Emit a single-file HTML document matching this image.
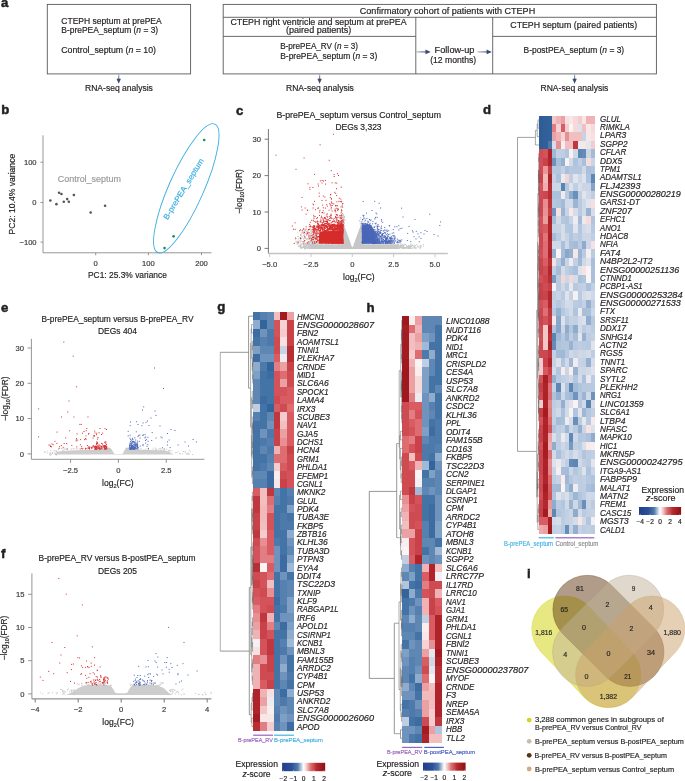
<!DOCTYPE html>
<html><head><meta charset="utf-8"><style>
html,body{margin:0;padding:0;background:#fff;}
svg{display:block;font-family:"Liberation Sans",sans-serif;will-change:transform;}
</style></head><body>
<svg width="685" height="781" viewBox="0 0 685 781" fill="#231f20">
<text x="1.00" y="7.00" font-size="13.2" stroke="#231f20" stroke-width="0.5" font-weight="bold">a</text>
<rect x="47.30" y="4.40" width="143.30" height="69.50" fill="none" stroke="#58595b" stroke-width="0.9"/>
<text x="61.30" y="23.70" font-size="8.4" textLength="100.40" lengthAdjust="spacingAndGlyphs" stroke="#231f20" stroke-width="0.18">CTEPH septum at prePEA</text>
<text x="61.30" y="33.30" font-size="8.4" textLength="96.90" lengthAdjust="spacingAndGlyphs" stroke="#231f20" stroke-width="0.18">B-prePEA_septum (<tspan font-style="italic">n</tspan> = 3)</text>
<text x="61.30" y="52.60" font-size="8.4" textLength="94.70" lengthAdjust="spacingAndGlyphs" stroke="#231f20" stroke-width="0.18">Control_septum (<tspan font-style="italic">n</tspan> = 10)</text>
<defs><linearGradient id="ah" x1="0" x2="1" y1="0" y2="0"><stop offset="0" stop-color="#3b4c6e" stop-opacity="0.35"/><stop offset="1" stop-color="#3b4c6e"/></linearGradient><linearGradient id="av" x1="0" x2="0" y1="0" y2="1"><stop offset="0" stop-color="#3b4c6e" stop-opacity="0.35"/><stop offset="1" stop-color="#3b4c6e"/></linearGradient></defs>
<rect x="118.10" y="74.50" width="1.2" height="6.30" fill="url(#av)"/>
<path d="M116.50 78.80L120.90 78.80L118.70 83.80Z" fill="#3b4c6e"/>
<text x="85.00" y="91.10" font-size="8.4" textLength="67.90" lengthAdjust="spacingAndGlyphs" stroke="#231f20" stroke-width="0.18">RNA-seq analysis</text>
<rect x="223.20" y="4.40" width="433.20" height="69.50" fill="none" stroke="#58595b" stroke-width="0.9"/>
<line x1="223.20" y1="17.30" x2="656.40" y2="17.30" stroke="#58595b" stroke-width="0.9"/>
<line x1="223.20" y1="36.40" x2="415.80" y2="36.40" stroke="#58595b" stroke-width="0.9"/>
<line x1="492.70" y1="36.40" x2="656.40" y2="36.40" stroke="#58595b" stroke-width="0.9"/>
<line x1="415.80" y1="17.30" x2="415.80" y2="73.90" stroke="#58595b" stroke-width="0.9"/>
<line x1="492.70" y1="17.30" x2="492.70" y2="73.90" stroke="#58595b" stroke-width="0.9"/>
<text x="359.80" y="14.00" font-size="8.4" textLength="175.40" lengthAdjust="spacingAndGlyphs" stroke="#231f20" stroke-width="0.18">Confirmatory cohort of patients with CTEPH</text>
<text x="230.40" y="25.00" font-size="8.4" textLength="176.20" lengthAdjust="spacingAndGlyphs" stroke="#231f20" stroke-width="0.18">CTEPH right ventricle and septum at prePEA</text>
<text x="286.00" y="33.30" font-size="8.4" textLength="65.40" lengthAdjust="spacingAndGlyphs" stroke="#231f20" stroke-width="0.18">(paired patients)</text>
<text x="280.20" y="49.00" font-size="8.4" textLength="77.80" lengthAdjust="spacingAndGlyphs" stroke="#231f20" stroke-width="0.18">B-prePEA_RV (<tspan font-style="italic">n</tspan> = 3)</text>
<text x="280.20" y="58.70" font-size="8.4" textLength="97.10" lengthAdjust="spacingAndGlyphs" stroke="#231f20" stroke-width="0.18">B-prePEA_septum (<tspan font-style="italic">n</tspan> = 3)</text>
<text x="434.60" y="53.40" font-size="8.4" textLength="39.80" lengthAdjust="spacingAndGlyphs" stroke="#231f20" stroke-width="0.18">Follow-up</text>
<text x="430.20" y="63.00" font-size="8.4" textLength="46.00" lengthAdjust="spacingAndGlyphs" stroke="#231f20" stroke-width="0.18">(12 months)</text>
<rect x="416.50" y="51.30" width="11.20" height="1.2" fill="url(#ah)"/>
<path d="M425.50 49.60L425.50 54.20L430.70 51.90Z" fill="#3b4c6e"/>
<rect x="477.40" y="51.30" width="11.40" height="1.2" fill="url(#ah)"/>
<path d="M486.60 49.60L486.60 54.20L491.80 51.90Z" fill="#3b4c6e"/>
<text x="510.30" y="28.00" font-size="8.4" textLength="126.90" lengthAdjust="spacingAndGlyphs" stroke="#231f20" stroke-width="0.18">CTEPH septum (paired patients)</text>
<text x="523.50" y="53.40" font-size="8.4" textLength="100.70" lengthAdjust="spacingAndGlyphs" stroke="#231f20" stroke-width="0.18">B-postPEA_septum (<tspan font-style="italic">n</tspan> = 3)</text>
<rect x="319.00" y="74.50" width="1.2" height="6.30" fill="url(#av)"/>
<path d="M317.40 78.80L321.80 78.80L319.60 83.80Z" fill="#3b4c6e"/>
<text x="286.00" y="91.10" font-size="8.4" textLength="67.90" lengthAdjust="spacingAndGlyphs" stroke="#231f20" stroke-width="0.18">RNA-seq analysis</text>
<rect x="574.00" y="74.50" width="1.2" height="6.30" fill="url(#av)"/>
<path d="M572.40 78.80L576.80 78.80L574.60 83.80Z" fill="#3b4c6e"/>
<text x="540.50" y="91.10" font-size="8.4" textLength="67.90" lengthAdjust="spacingAndGlyphs" stroke="#231f20" stroke-width="0.18">RNA-seq analysis</text>
<text x="1.30" y="114.20" font-size="13.2" stroke="#231f20" stroke-width="0.5" font-weight="bold">b</text>
<line x1="43.00" y1="135.30" x2="43.00" y2="252.80" stroke="#8a8a8a" stroke-width="0.9"/>
<line x1="43.00" y1="252.80" x2="211.50" y2="252.80" stroke="#8a8a8a" stroke-width="0.9"/>
<line x1="40.50" y1="162.20" x2="43.00" y2="162.20" stroke="#8a8a8a" stroke-width="0.9"/>
<text x="36.60" y="164.90" font-size="7.6" text-anchor="end" fill="#3a3a3a" stroke="#3a3a3a" stroke-width="0.18">100</text>
<line x1="40.50" y1="202.50" x2="43.00" y2="202.50" stroke="#8a8a8a" stroke-width="0.9"/>
<text x="36.60" y="205.20" font-size="7.6" text-anchor="end" fill="#3a3a3a" stroke="#3a3a3a" stroke-width="0.18">0</text>
<line x1="40.50" y1="242.10" x2="43.00" y2="242.10" stroke="#8a8a8a" stroke-width="0.9"/>
<text x="36.60" y="244.80" font-size="7.6" text-anchor="end" fill="#3a3a3a" stroke="#3a3a3a" stroke-width="0.18">−100</text>
<line x1="95.70" y1="252.80" x2="95.70" y2="255.30" stroke="#8a8a8a" stroke-width="0.9"/>
<text x="95.70" y="265.90" font-size="7.6" text-anchor="middle" fill="#3a3a3a" stroke="#3a3a3a" stroke-width="0.18">0</text>
<line x1="148.40" y1="252.80" x2="148.40" y2="255.30" stroke="#8a8a8a" stroke-width="0.9"/>
<text x="148.40" y="265.90" font-size="7.6" text-anchor="middle" fill="#3a3a3a" stroke="#3a3a3a" stroke-width="0.18">100</text>
<line x1="201.50" y1="252.80" x2="201.50" y2="255.30" stroke="#8a8a8a" stroke-width="0.9"/>
<text x="201.50" y="265.90" font-size="7.6" text-anchor="middle" fill="#3a3a3a" stroke="#3a3a3a" stroke-width="0.18">200</text>
<text x="88.00" y="277.80" font-size="8.6" textLength="78.90" lengthAdjust="spacingAndGlyphs" stroke="#231f20" stroke-width="0.18">PC1: 25.3% variance</text>
<text x="14.60" y="234.40" font-size="8.6" textLength="80.60" lengthAdjust="spacingAndGlyphs" stroke="#231f20" stroke-width="0.18" transform="rotate(-90 14.60 234.40)">PC2: 10.4% variance</text>
<text x="57.80" y="182.00" font-size="8.8" textLength="63.10" lengthAdjust="spacingAndGlyphs" fill="#9a9a9a" stroke="#9a9a9a" stroke-width="0.18">Control_septum</text>
<circle cx="50.37" cy="200.44" r="1.3" fill="#555"/>
<circle cx="56.41" cy="204.13" r="1.3" fill="#555"/>
<circle cx="59.10" cy="192.72" r="1.3" fill="#555"/>
<circle cx="61.45" cy="194.06" r="1.3" fill="#555"/>
<circle cx="63.80" cy="201.78" r="1.3" fill="#555"/>
<circle cx="67.16" cy="199.10" r="1.3" fill="#555"/>
<circle cx="68.84" cy="201.78" r="1.3" fill="#555"/>
<circle cx="73.88" cy="195.07" r="1.3" fill="#555"/>
<circle cx="90.66" cy="212.53" r="1.3" fill="#555"/>
<circle cx="105.10" cy="205.81" r="1.3" fill="#555"/>
<circle cx="204.16" cy="140.00" r="1.35" fill="#1a8f66"/>
<circle cx="173.61" cy="236.37" r="1.35" fill="#1a8f66"/>
<circle cx="164.54" cy="248.12" r="1.35" fill="#1a8f66"/>
<ellipse cx="186.3" cy="188.3" rx="70.3" ry="17.3" transform="rotate(-66 186.3 188.3)" fill="none" stroke="#3aaee0" stroke-width="0.9"/>
<text x="167.60" y="220.20" font-size="7.9" textLength="70.00" lengthAdjust="spacingAndGlyphs" fill="#3aaee0" stroke="#3aaee0" stroke-width="0.18" transform="rotate(-58.5 167.60 220.20)">B-prePEA_septum</text>
<text x="236.00" y="114.60" font-size="13.2" stroke="#231f20" stroke-width="0.5" font-weight="bold">c</text>
<text x="483.00" y="114.30" font-size="13.2" stroke="#231f20" stroke-width="0.5" font-weight="bold">d</text>
<text x="276.40" y="118.00" font-size="8.7" textLength="164.60" lengthAdjust="spacingAndGlyphs" stroke="#231f20" stroke-width="0.18">B-prePEA_septum versus Control_septum</text>
<text x="335.40" y="129.90" font-size="8.7" textLength="46.20" lengthAdjust="spacingAndGlyphs" stroke="#231f20" stroke-width="0.18">DEGs 3,323</text>
<line x1="268.40" y1="129.00" x2="268.40" y2="253.60" stroke="#6a6a6a" stroke-width="0.9"/>
<line x1="268.40" y1="253.60" x2="447.80" y2="253.60" stroke="#c4c4c4" stroke-width="1.5"/>
<line x1="264.60" y1="139.20" x2="268.40" y2="139.20" stroke="#6a6a6a" stroke-width="0.9"/>
<text x="261.00" y="141.80" font-size="7.6" text-anchor="end" fill="#3a3a3a" stroke="#3a3a3a" stroke-width="0.18">30</text>
<line x1="264.60" y1="175.60" x2="268.40" y2="175.60" stroke="#6a6a6a" stroke-width="0.9"/>
<text x="261.00" y="178.20" font-size="7.6" text-anchor="end" fill="#3a3a3a" stroke="#3a3a3a" stroke-width="0.18">20</text>
<line x1="264.60" y1="212.00" x2="268.40" y2="212.00" stroke="#6a6a6a" stroke-width="0.9"/>
<text x="261.00" y="214.60" font-size="7.6" text-anchor="end" fill="#3a3a3a" stroke="#3a3a3a" stroke-width="0.18">10</text>
<line x1="264.60" y1="248.40" x2="268.40" y2="248.40" stroke="#6a6a6a" stroke-width="0.9"/>
<text x="261.00" y="251.00" font-size="7.6" text-anchor="end" fill="#3a3a3a" stroke="#3a3a3a" stroke-width="0.18">0</text>
<line x1="269.70" y1="253.60" x2="269.70" y2="257.20" stroke="#c4c4c4" stroke-width="0.9"/>
<text x="269.70" y="267.00" font-size="7.6" text-anchor="middle" fill="#3a3a3a" stroke="#3a3a3a" stroke-width="0.18">−5.0</text>
<line x1="311.00" y1="253.60" x2="311.00" y2="257.20" stroke="#c4c4c4" stroke-width="0.9"/>
<text x="311.00" y="267.00" font-size="7.6" text-anchor="middle" fill="#3a3a3a" stroke="#3a3a3a" stroke-width="0.18">−2.5</text>
<line x1="352.30" y1="253.60" x2="352.30" y2="257.20" stroke="#c4c4c4" stroke-width="0.9"/>
<text x="352.30" y="267.00" font-size="7.6" text-anchor="middle" fill="#3a3a3a" stroke="#3a3a3a" stroke-width="0.18">0</text>
<line x1="393.60" y1="253.60" x2="393.60" y2="257.20" stroke="#c4c4c4" stroke-width="0.9"/>
<text x="393.60" y="267.00" font-size="7.6" text-anchor="middle" fill="#3a3a3a" stroke="#3a3a3a" stroke-width="0.18">2.5</text>
<line x1="434.90" y1="253.60" x2="434.90" y2="257.20" stroke="#c4c4c4" stroke-width="0.9"/>
<text x="434.90" y="267.00" font-size="7.6" text-anchor="middle" fill="#3a3a3a" stroke="#3a3a3a" stroke-width="0.18">5.0</text>
<text x="242.40" y="191.50" font-size="8.6" stroke="#231f20" stroke-width="0.18" text-anchor="middle" textLength="44.6" lengthAdjust="spacingAndGlyphs" transform="rotate(-90 242.40 191.50)">−log<tspan font-size="5.6" dy="1.9">10</tspan><tspan dy="-1.9">(FDR)</tspan></text>
<text x="358.85" y="279.60" font-size="8.6" stroke="#231f20" stroke-width="0.18" text-anchor="middle" textLength="31.7" lengthAdjust="spacingAndGlyphs">log<tspan font-size="5.6" dy="1.9">2</tspan><tspan dy="-1.9">(FC)</tspan></text>
<text x="1.00" y="312.00" font-size="13.2" stroke="#231f20" stroke-width="0.5" font-weight="bold">e</text>
<text x="41.50" y="321.90" font-size="8.7" textLength="152.00" lengthAdjust="spacingAndGlyphs" stroke="#231f20" stroke-width="0.18">B-prePEA_septum versus B-prePEA_RV</text>
<text x="98.00" y="334.30" font-size="8.7" textLength="39.00" lengthAdjust="spacingAndGlyphs" stroke="#231f20" stroke-width="0.18">DEGs 404</text>
<line x1="31.40" y1="338.80" x2="31.40" y2="459.30" stroke="#8a8a8a" stroke-width="0.9"/>
<line x1="31.40" y1="459.30" x2="204.40" y2="459.30" stroke="#8a8a8a" stroke-width="0.9"/>
<line x1="27.60" y1="348.00" x2="31.40" y2="348.00" stroke="#8a8a8a" stroke-width="0.9"/>
<text x="24.00" y="350.60" font-size="7.6" text-anchor="end" fill="#3a3a3a" stroke="#3a3a3a" stroke-width="0.18">30</text>
<line x1="27.60" y1="383.30" x2="31.40" y2="383.30" stroke="#8a8a8a" stroke-width="0.9"/>
<text x="24.00" y="385.90" font-size="7.6" text-anchor="end" fill="#3a3a3a" stroke="#3a3a3a" stroke-width="0.18">20</text>
<line x1="27.60" y1="418.60" x2="31.40" y2="418.60" stroke="#8a8a8a" stroke-width="0.9"/>
<text x="24.00" y="421.20" font-size="7.6" text-anchor="end" fill="#3a3a3a" stroke="#3a3a3a" stroke-width="0.18">10</text>
<line x1="27.60" y1="453.90" x2="31.40" y2="453.90" stroke="#8a8a8a" stroke-width="0.9"/>
<text x="24.00" y="456.50" font-size="7.6" text-anchor="end" fill="#3a3a3a" stroke="#3a3a3a" stroke-width="0.18">0</text>
<line x1="70.55" y1="459.30" x2="70.55" y2="462.90" stroke="#8a8a8a" stroke-width="0.9"/>
<text x="70.55" y="472.70" font-size="7.6" text-anchor="middle" fill="#3a3a3a" stroke="#3a3a3a" stroke-width="0.18">−2.5</text>
<line x1="118.40" y1="459.30" x2="118.40" y2="462.90" stroke="#8a8a8a" stroke-width="0.9"/>
<text x="118.40" y="472.70" font-size="7.6" text-anchor="middle" fill="#3a3a3a" stroke="#3a3a3a" stroke-width="0.18">0</text>
<line x1="166.25" y1="459.30" x2="166.25" y2="462.90" stroke="#8a8a8a" stroke-width="0.9"/>
<text x="166.25" y="472.70" font-size="7.6" text-anchor="middle" fill="#3a3a3a" stroke="#3a3a3a" stroke-width="0.18">2.5</text>
<text x="7.90" y="398.80" font-size="8.6" stroke="#231f20" stroke-width="0.18" text-anchor="middle" textLength="44.6" lengthAdjust="spacingAndGlyphs" transform="rotate(-90 7.90 398.80)">−log<tspan font-size="5.6" dy="1.9">10</tspan><tspan dy="-1.9">(FDR)</tspan></text>
<text x="117.90" y="486.00" font-size="8.6" stroke="#231f20" stroke-width="0.18" text-anchor="middle" textLength="31.7" lengthAdjust="spacingAndGlyphs">log<tspan font-size="5.6" dy="1.9">2</tspan><tspan dy="-1.9">(FC)</tspan></text>
<text x="1.00" y="558.00" font-size="13.2" stroke="#231f20" stroke-width="0.5" font-weight="bold">f</text>
<text x="38.50" y="561.20" font-size="8.7" textLength="157.00" lengthAdjust="spacingAndGlyphs" stroke="#231f20" stroke-width="0.18">B-prePEA_RV versus B-postPEA_septum</text>
<text x="98.00" y="573.60" font-size="8.7" textLength="39.00" lengthAdjust="spacingAndGlyphs" stroke="#231f20" stroke-width="0.18">DEGs 205</text>
<line x1="31.90" y1="573.40" x2="31.90" y2="698.90" stroke="#8a8a8a" stroke-width="0.9"/>
<line x1="31.90" y1="698.90" x2="211.50" y2="698.90" stroke="#6a6a6a" stroke-width="0.9"/>
<line x1="28.10" y1="594.30" x2="31.90" y2="594.30" stroke="#8a8a8a" stroke-width="0.9"/>
<text x="24.50" y="596.90" font-size="7.6" text-anchor="end" fill="#3a3a3a" stroke="#3a3a3a" stroke-width="0.18">15</text>
<line x1="28.10" y1="627.50" x2="31.90" y2="627.50" stroke="#8a8a8a" stroke-width="0.9"/>
<text x="24.50" y="630.10" font-size="7.6" text-anchor="end" fill="#3a3a3a" stroke="#3a3a3a" stroke-width="0.18">10</text>
<line x1="28.10" y1="660.70" x2="31.90" y2="660.70" stroke="#8a8a8a" stroke-width="0.9"/>
<text x="24.50" y="663.30" font-size="7.6" text-anchor="end" fill="#3a3a3a" stroke="#3a3a3a" stroke-width="0.18">5</text>
<line x1="28.10" y1="693.90" x2="31.90" y2="693.90" stroke="#8a8a8a" stroke-width="0.9"/>
<text x="24.50" y="696.50" font-size="7.6" text-anchor="end" fill="#3a3a3a" stroke="#3a3a3a" stroke-width="0.18">0</text>
<line x1="35.20" y1="698.90" x2="35.20" y2="702.50" stroke="#6a6a6a" stroke-width="0.9"/>
<text x="35.20" y="712.30" font-size="7.6" text-anchor="middle" fill="#3a3a3a" stroke="#3a3a3a" stroke-width="0.18">−4</text>
<line x1="78.20" y1="698.90" x2="78.20" y2="702.50" stroke="#6a6a6a" stroke-width="0.9"/>
<text x="78.20" y="712.30" font-size="7.6" text-anchor="middle" fill="#3a3a3a" stroke="#3a3a3a" stroke-width="0.18">−2</text>
<line x1="121.20" y1="698.90" x2="121.20" y2="702.50" stroke="#6a6a6a" stroke-width="0.9"/>
<text x="121.20" y="712.30" font-size="7.6" text-anchor="middle" fill="#3a3a3a" stroke="#3a3a3a" stroke-width="0.18">0</text>
<line x1="164.20" y1="698.90" x2="164.20" y2="702.50" stroke="#6a6a6a" stroke-width="0.9"/>
<text x="164.20" y="712.30" font-size="7.6" text-anchor="middle" fill="#3a3a3a" stroke="#3a3a3a" stroke-width="0.18">2</text>
<line x1="207.20" y1="698.90" x2="207.20" y2="702.50" stroke="#6a6a6a" stroke-width="0.9"/>
<text x="207.20" y="712.30" font-size="7.6" text-anchor="middle" fill="#3a3a3a" stroke="#3a3a3a" stroke-width="0.18">4</text>
<text x="7.40" y="638.00" font-size="8.6" stroke="#231f20" stroke-width="0.18" text-anchor="middle" textLength="44.6" lengthAdjust="spacingAndGlyphs" transform="rotate(-90 7.40 638.00)">−log<tspan font-size="5.6" dy="1.9">10</tspan><tspan dy="-1.9">(FDR)</tspan></text>
<text x="118.10" y="725.30" font-size="8.6" stroke="#231f20" stroke-width="0.18" text-anchor="middle" textLength="31.7" lengthAdjust="spacingAndGlyphs">log<tspan font-size="5.6" dy="1.9">2</tspan><tspan dy="-1.9">(FC)</tspan></text>
<path d="M309.5 248.9L309.5 244.3L342.7 244.3L342.7 221.5L344.0 225.0L346.5 232.0L349.5 240.0L351.6 246.0L352.4 247.6L353.2 246.0L355.3 240.0L358.3 232.0L360.8 225.0L361.9 222.5L361.9 244.3L398.0 244.3L398.0 248.9Z" fill="#c6c6c6"/>
<path d="M303.7 244.7h0M313.1 241.6h0M305.2 246.0h0M315.6 242.1h0M311.1 236.9h0M295.4 239.7h0M312.4 231.9h0M315.4 236.8h0M305.6 230.6h0M318.0 245.3h0M316.5 243.7h0M298.4 238.9h0M310.9 233.7h0M317.4 239.7h0M303.4 246.3h0M302.5 247.7h0M310.2 242.7h0M308.1 241.7h0M304.4 230.3h0M316.3 236.9h0M315.2 236.3h0M317.6 247.3h0M314.9 245.7h0M312.3 245.2h0M302.4 241.5h0M315.8 236.1h0M317.1 247.2h0M309.4 239.6h0M310.1 240.0h0M317.9 240.0h0M297.9 232.9h0M314.3 248.4h0M310.9 241.8h0M311.8 245.5h0M305.3 243.6h0M311.9 243.8h0M304.2 235.3h0M308.2 247.7h0M308.1 243.4h0M307.3 233.2h0M300.1 246.3h0M315.2 239.8h0M313.8 244.5h0M316.8 248.0h0M309.3 248.4h0M317.5 243.3h0M316.6 241.8h0M308.7 237.2h0M316.5 235.1h0M300.3 246.2h0M315.1 241.6h0M316.0 231.1h0M306.2 238.1h0M309.5 235.3h0M300.3 239.1h0M316.8 248.3h0M314.7 241.6h0M306.1 248.0h0M311.4 245.2h0M298.0 236.4h0M316.0 246.1h0M316.5 243.4h0M309.7 243.2h0M316.1 238.5h0M311.5 237.8h0M315.0 228.3h0M313.9 248.0h0M297.7 243.3h0M313.3 246.8h0M312.3 237.4h0M309.3 248.0h0M316.8 234.2h0M301.4 232.9h0M297.8 241.0h0M303.0 247.0h0M313.4 234.0h0M311.6 238.8h0M310.9 236.5h0M303.8 235.6h0M308.8 245.0h0M311.8 230.8h0M314.2 247.0h0M315.1 246.0h0M296.1 241.3h0M300.0 245.7h0M304.0 245.0h0M306.1 244.8h0M307.4 230.6h0M309.0 238.5h0M316.8 238.2h0M311.0 242.7h0M317.4 233.1h0M312.6 242.0h0M314.6 248.1h0M307.4 244.8h0M311.4 242.8h0M300.1 246.3h0M317.7 239.4h0M307.5 248.4h0M301.9 232.2h0M300.5 246.3h0M314.9 241.1h0M312.9 229.2h0M313.3 241.0h0M311.3 240.0h0M309.2 236.7h0M299.3 240.8h0M305.9 244.9h0M315.7 245.1h0M310.2 236.9h0M308.9 241.7h0M313.1 248.1h0M301.0 241.6h0M310.8 245.1h0M316.6 245.9h0M313.0 245.6h0M313.6 246.9h0M314.1 244.6h0M305.9 247.5h0M308.9 243.6h0M315.8 248.1h0M317.9 227.8h0M307.4 238.6h0M309.0 234.6h0M311.9 232.3h0M307.2 247.9h0M314.7 241.3h0M301.9 248.0h0M314.1 236.2h0M307.9 244.0h0M313.8 237.5h0M317.4 238.8h0M306.1 246.7h0M303.4 244.6h0M304.7 243.4h0M306.6 239.9h0M317.3 241.4h0M309.9 243.7h0M306.7 235.4h0M308.9 237.7h0M304.4 248.1h0M298.4 246.3h0M317.2 244.9h0M297.3 241.9h0M298.8 243.5h0M314.1 237.0h0M296.1 242.6h0M301.4 238.5h0M310.2 247.3h0M308.6 234.3h0M315.4 246.4h0M311.5 231.0h0M304.4 240.3h0M311.8 236.7h0M315.5 246.7h0M317.1 247.1h0M297.2 243.2h0M300.8 247.3h0M314.7 245.6h0M304.4 231.5h0M315.7 243.5h0M312.9 241.4h0M315.5 239.1h0M306.5 239.4h0M307.1 243.8h0M316.6 232.0h0M300.2 242.1h0M313.8 235.8h0M306.5 231.5h0M298.6 241.8h0M313.8 244.2h0M303.5 233.3h0M317.2 242.5h0M309.3 244.7h0M314.5 242.3h0M300.7 246.5h0M305.1 230.5h0M308.2 242.4h0M313.0 235.4h0M314.2 241.8h0M303.7 246.8h0M315.6 247.4h0M313.8 236.5h0M315.2 247.4h0M311.5 247.4h0M317.6 240.1h0M317.3 247.8h0M315.4 228.4h0M308.2 243.6h0M312.7 245.6h0M313.3 235.0h0M317.2 242.5h0M316.5 236.2h0M318.0 242.8h0M315.1 245.4h0M316.5 239.5h0M300.9 240.3h0M304.1 242.5h0M315.7 239.5h0M302.7 229.7h0M309.6 243.1h0M297.9 244.4h0M305.0 233.4h0M317.1 242.3h0M316.7 242.1h0M302.4 237.0h0M309.6 244.0h0M315.1 245.5h0M313.4 237.3h0M309.7 239.8h0M310.8 237.6h0M311.6 241.2h0M298.5 246.4h0M312.4 246.2h0M314.6 245.2h0M317.9 239.8h0M309.1 227.4h0M313.6 243.2h0M312.2 248.5h0M304.7 236.7h0M314.6 246.3h0M310.7 231.3h0M308.6 246.5h0M311.0 241.3h0M309.0 243.8h0M312.6 244.7h0M316.3 245.5h0M308.7 237.3h0M315.2 246.0h0M317.1 236.0h0M316.1 247.2h0M300.7 238.5h0M313.1 234.6h0M315.9 237.6h0M313.8 238.2h0M305.2 236.2h0M310.9 245.0h0M305.2 244.6h0M307.9 244.1h0M308.6 235.9h0M303.0 231.4h0M314.0 240.5h0M302.4 247.1h0M313.4 229.3h0M314.4 243.4h0M310.0 241.9h0M317.5 239.8h0M313.1 243.9h0M308.5 239.2h0M314.9 243.9h0M310.2 242.1h0M305.3 246.0h0M297.4 244.0h0M310.2 236.6h0M312.4 243.2h0M301.1 241.8h0M303.8 246.1h0M307.7 238.9h0M305.1 230.9h0M304.4 234.8h0M313.0 246.7h0M305.3 233.5h0M311.5 233.7h0M309.3 245.6h0M304.8 244.8h0M311.6 232.6h0M305.8 243.4h0M301.4 236.2h0M312.2 246.4h0M311.3 244.3h0M296.3 238.4h0M307.5 247.5h0M308.4 245.9h0M298.4 241.9h0M316.7 245.8h0M312.3 235.6h0M317.1 232.4h0M317.6 245.8h0M314.4 242.4h0M303.7 239.1h0M313.6 244.2h0M309.0 246.1h0M299.5 238.1h0M301.2 238.8h0M315.4 245.5h0M303.3 238.5h0M302.0 244.3h0M310.0 236.8h0M308.7 246.9h0M309.6 244.7h0M313.0 241.5h0M311.9 239.6h0M304.7 241.8h0M307.2 238.9h0M304.4 247.5h0M309.7 236.1h0M298.3 236.4h0M316.4 239.1h0M313.6 236.8h0M313.4 241.1h0M411.1 247.0h0M403.7 245.9h0M407.8 248.0h0M410.0 246.8h0M402.9 248.2h0M414.4 245.1h0M409.7 247.8h0M409.6 248.4h0M415.6 245.7h0M423.5 246.1h0M403.7 248.4h0M400.4 246.5h0M408.5 245.9h0M401.9 247.9h0M408.2 247.7h0M412.6 248.1h0M416.2 248.0h0M421.0 246.9h0M410.3 246.9h0M420.3 247.5h0M404.6 247.5h0M402.3 245.0h0M403.8 245.0h0M398.1 244.7h0M405.1 247.8h0M398.7 247.4h0M399.5 246.9h0M402.3 246.7h0M410.5 246.5h0M403.9 247.7h0M399.6 246.2h0M410.3 248.0h0M421.1 245.8h0M408.5 246.1h0M410.3 248.1h0M399.9 246.2h0M418.2 246.3h0M408.6 248.0h0M402.1 247.9h0M398.0 246.2h0M400.4 246.2h0M401.0 243.9h0M413.0 245.3h0M407.4 247.1h0M414.5 248.1h0M408.4 245.3h0M411.8 244.7h0M417.8 246.1h0M401.7 245.6h0M404.0 247.9h0M414.7 247.8h0M411.0 245.7h0M402.8 246.0h0M404.7 248.1h0M423.3 244.6h0M419.9 248.3h0M405.2 247.6h0M412.5 245.4h0M408.3 248.4h0M415.7 248.3h0M399.2 247.6h0M405.7 248.2h0M400.4 247.1h0M399.7 247.9h0M410.8 244.0h0M402.6 245.1h0M408.7 247.4h0M398.9 248.4h0M420.0 246.7h0M407.4 246.3h0M408.1 246.5h0M404.8 247.8h0M400.6 246.0h0M411.9 245.6h0M398.9 248.3h0M400.2 246.5h0M402.6 245.8h0M403.3 247.0h0M399.6 247.0h0M398.7 244.5h0M400.9 245.7h0M403.1 246.0h0M414.1 247.5h0M405.4 247.8h0M409.9 246.1h0M408.3 247.7h0M406.6 247.8h0M408.6 248.3h0M401.8 247.5h0M420.9 247.0h0M416.7 244.7h0M410.8 245.8h0M411.5 246.6h0M406.6 245.7h0M401.7 248.1h0M408.9 247.4h0M399.6 246.0h0M420.2 245.5h0M406.6 247.6h0M406.1 247.1h0M420.3 247.9h0M401.4 246.6h0M404.4 247.5h0M409.6 245.8h0M410.0 246.6h0M398.2 246.0h0M403.7 245.4h0M409.5 248.5h0M417.9 247.4h0M414.8 246.9h0M407.6 248.2h0M398.8 246.3h0M403.6 246.2h0M404.6 244.3h0M409.7 248.4h0M401.4 245.4h0M403.0 247.9h0M401.3 247.8h0M400.4 247.2h0M410.7 247.5h0M399.2 248.4h0M414.5 246.8h0M414.9 247.3h0M400.4 246.5h0M413.6 246.7h0M398.6 245.2h0M400.6 247.2h0M408.9 246.7h0M404.2 248.4h0M403.1 247.5h0M400.9 246.9h0M400.5 244.9h0M403.0 244.9h0M403.8 247.4h0M406.9 247.9h0M405.5 244.6h0M410.9 246.5h0M411.5 248.4h0M406.4 245.8h0M403.4 246.9h0M340.9 215.2h0M341.4 221.9h0M343.9 223.1h0M344.3 223.6h0M341.5 221.7h0M339.3 223.5h0M343.2 217.2h0M341.8 217.3h0M343.8 219.1h0M343.7 225.1h0M343.7 218.6h0M341.1 225.3h0M344.4 216.3h0M341.2 223.5h0M343.5 217.4h0M341.7 225.5h0M339.5 217.3h0M343.0 224.9h0M344.7 219.6h0M343.7 225.7h0M341.0 216.7h0M340.6 223.4h0M339.8 220.6h0M344.6 216.4h0M342.8 220.4h0M344.8 220.2h0M341.9 224.8h0M343.5 215.7h0M343.8 218.8h0M344.8 225.6h0M342.0 219.0h0M340.4 217.3h0M340.2 216.0h0M343.4 214.6h0M342.6 221.2h0M343.4 220.8h0M344.6 217.4h0M339.6 221.0h0M340.6 225.9h0M344.5 222.3h0M344.0 216.9h0M341.9 218.6h0M341.1 218.5h0M341.9 221.8h0M339.2 220.5h0M339.8 225.6h0M342.3 221.1h0M340.9 222.5h0M343.3 224.9h0M342.5 217.2h0M363.4 217.7h0M364.2 221.0h0M364.0 218.7h0M363.2 219.2h0M359.3 220.4h0M364.9 222.1h0M362.7 227.3h0M365.8 220.4h0M363.9 227.2h0M364.6 221.5h0M362.3 227.2h0M360.8 223.3h0M363.4 228.1h0M360.7 225.6h0M360.5 219.0h0M362.3 225.4h0M363.5 229.3h0M360.2 223.9h0M362.4 220.4h0M365.4 218.9h0M360.8 217.5h0M363.5 225.5h0M360.6 229.0h0M363.4 219.6h0M365.6 228.1h0M361.2 228.2h0M359.9 221.5h0M361.9 229.4h0M361.1 222.0h0M360.5 227.7h0M301.8 248.1h0M303.4 246.6h0M308.8 245.3h0M305.3 247.1h0M305.8 246.0h0M306.5 245.5h0M301.6 244.0h0M306.1 246.8h0M308.0 244.8h0M306.7 246.2h0M305.3 248.0h0M305.2 246.1h0M306.5 244.7h0M308.7 246.5h0M300.4 246.3h0M309.5 248.7h0M304.3 245.3h0M309.4 245.4h0M300.2 245.2h0M304.7 247.2h0M300.7 245.6h0M307.3 245.7h0M301.8 247.4h0M304.4 247.3h0M304.8 247.9h0M305.1 248.7h0M308.1 247.5h0M304.9 246.9h0M303.8 244.4h0M308.8 247.9h0M307.7 248.1h0M305.5 248.8h0M304.7 248.7h0M300.8 245.8h0M305.7 247.9h0M305.2 247.8h0M303.7 247.2h0M308.0 246.9h0M300.2 247.2h0M300.0 245.5h0M301.1 247.7h0M301.7 247.5h0M300.7 245.0h0M307.0 248.4h0M300.7 246.9h0M304.0 247.0h0M300.8 244.1h0M300.8 248.3h0M304.9 246.9h0M301.3 247.3h0M309.0 244.9h0M307.8 248.1h0M309.9 246.7h0M306.4 245.7h0M307.8 245.5h0M306.2 247.0h0M309.9 247.8h0M301.0 244.8h0M303.6 245.9h0M307.2 245.2h0" stroke="#c6c6c6" stroke-width="1.0" stroke-linecap="square" fill="none"/>
<path d="M318.5 243.7L319.5 231.5L343.3 230.5L343.3 243.7Z" fill="#d62d2d"/>
<path d="M334.6 232.9h0M328.0 236.6h0M331.6 243.3h0M321.3 241.7h0M336.4 233.0h0M318.6 236.7h0M339.7 230.9h0M338.0 234.5h0M319.3 240.9h0M328.2 233.4h0M338.9 241.2h0M340.7 231.2h0M340.6 227.0h0M334.5 232.5h0M340.9 238.2h0M336.8 239.9h0M329.2 232.7h0M320.0 230.9h0M324.3 238.4h0M321.3 242.0h0M335.6 232.8h0M320.8 232.8h0M334.8 226.8h0M342.9 231.1h0M331.6 229.6h0M330.0 229.4h0M340.7 225.4h0M329.7 235.8h0M332.8 230.4h0M332.9 225.2h0M328.0 232.6h0M339.0 232.5h0M331.1 236.9h0M327.0 234.8h0M324.1 236.1h0M334.2 236.9h0M341.1 239.6h0M343.1 228.6h0M342.5 232.7h0M329.8 232.9h0M341.9 242.8h0M339.8 229.9h0M320.8 228.0h0M337.1 237.8h0M317.8 224.1h0M343.2 230.6h0M316.0 233.2h0M319.7 240.0h0M334.0 236.0h0M342.0 226.5h0M324.9 239.5h0M335.7 232.6h0M329.5 236.2h0M342.3 242.7h0M341.9 243.2h0M321.4 224.6h0M340.2 228.9h0M333.8 233.2h0M342.8 232.7h0M321.6 228.0h0M341.6 240.0h0M321.8 242.9h0M329.9 238.3h0M334.8 240.9h0M333.0 224.6h0M334.6 240.7h0M331.0 240.3h0M331.9 231.1h0M329.6 228.5h0M333.3 242.9h0M335.4 239.1h0M323.5 231.3h0M335.1 231.5h0M312.2 241.1h0M321.3 237.0h0M343.0 229.7h0M326.8 230.5h0M334.3 243.3h0M322.0 228.8h0M341.5 229.4h0M337.0 238.2h0M309.7 224.5h0M338.9 242.1h0M337.6 233.2h0M319.9 234.4h0M320.4 230.4h0M315.4 234.1h0M332.4 229.6h0M325.1 225.3h0M314.7 226.5h0M343.0 224.7h0M338.0 233.0h0M335.3 230.0h0M343.0 239.9h0M330.8 232.5h0M341.9 227.1h0M341.1 236.2h0M334.8 234.5h0M335.4 225.8h0M326.1 231.0h0M325.1 225.7h0M338.0 232.3h0M338.5 231.7h0M342.3 228.8h0M333.6 232.3h0M339.5 226.6h0M334.3 232.9h0M336.1 228.6h0M334.3 243.4h0M320.0 243.1h0M342.7 232.8h0M318.8 233.8h0M342.7 224.0h0M338.8 239.3h0M320.7 235.9h0M322.2 226.0h0M333.8 229.9h0M336.8 234.4h0M325.4 242.1h0M311.7 239.8h0M327.2 241.7h0M335.7 233.0h0M324.9 240.8h0M340.8 242.9h0M335.3 242.2h0M341.4 237.1h0M329.0 235.9h0M329.1 240.0h0M334.5 241.0h0M341.4 238.8h0M324.5 230.6h0M319.0 230.6h0M322.6 229.9h0M339.6 226.4h0M341.9 242.1h0M339.1 228.7h0M327.5 233.0h0M336.0 242.2h0M313.9 225.7h0M340.1 224.4h0M341.4 227.7h0M342.9 233.3h0M335.7 240.2h0M340.1 232.2h0M332.3 239.5h0M326.4 230.0h0M341.0 241.3h0M340.2 230.8h0M329.1 226.1h0M340.3 225.0h0M323.7 224.5h0M332.2 243.6h0M318.1 229.0h0M326.8 237.8h0M329.5 227.4h0M337.5 241.7h0M322.9 225.2h0M330.9 242.4h0M317.4 226.7h0M336.6 239.0h0M332.1 224.9h0M334.5 226.0h0M318.3 225.1h0M342.2 226.0h0M332.6 240.1h0M324.4 231.7h0M339.6 235.1h0M324.1 234.6h0M343.2 240.1h0M342.7 224.5h0M317.3 233.9h0M312.9 242.9h0M327.5 234.8h0M341.1 232.4h0M339.0 227.0h0M331.9 238.3h0M332.5 227.6h0M340.8 231.0h0M341.8 230.2h0M340.2 226.4h0M337.2 242.7h0M336.2 232.1h0M343.0 243.0h0M340.1 228.4h0M319.2 236.1h0M321.6 225.2h0M334.6 242.6h0M326.9 240.1h0M342.6 242.5h0M318.8 226.6h0M342.5 243.0h0M323.2 227.6h0M337.9 225.9h0M320.1 227.1h0M335.1 231.3h0M340.5 227.0h0M341.5 239.5h0M330.0 235.9h0M337.2 226.4h0M342.1 232.7h0M333.6 240.8h0M314.0 229.3h0M315.0 238.5h0M325.0 238.1h0M338.1 243.6h0M323.6 232.1h0M339.5 232.7h0M323.4 237.3h0M339.6 232.8h0M330.2 226.6h0M330.9 240.5h0M329.4 242.8h0M329.5 233.4h0M339.3 241.9h0M340.5 232.3h0M332.0 226.5h0M334.2 240.1h0M324.0 230.2h0M317.8 232.9h0M332.8 243.5h0M337.1 242.1h0M324.4 232.6h0M337.7 225.5h0M334.9 236.3h0M314.6 228.0h0M339.4 227.2h0M336.4 232.3h0M330.4 241.2h0M330.6 241.3h0M340.1 234.9h0M319.9 230.6h0M342.5 229.2h0M335.4 228.0h0M338.4 237.5h0M341.4 235.7h0M320.4 239.7h0M335.0 242.6h0M333.7 230.4h0M331.8 235.0h0M337.7 236.4h0M340.8 234.5h0M324.5 240.9h0M337.9 227.1h0M332.3 240.7h0M335.1 226.4h0M340.9 238.4h0M324.2 237.7h0M340.9 235.3h0M342.4 234.6h0M312.8 237.0h0M340.3 242.0h0M338.8 242.5h0M339.7 233.3h0M317.4 227.3h0M316.6 242.2h0M339.8 241.8h0M339.2 232.9h0M334.8 224.5h0M322.7 231.9h0M316.9 230.3h0M333.7 227.2h0M323.5 225.7h0M332.2 240.5h0M331.9 237.9h0M338.0 239.8h0M339.6 233.8h0M316.4 227.3h0M327.1 230.6h0M335.5 233.8h0M327.4 227.3h0M338.5 243.6h0M337.7 226.8h0M337.6 239.7h0M334.2 236.5h0M340.8 233.4h0M337.8 227.3h0M340.4 235.2h0M324.0 236.3h0M340.2 232.8h0M328.2 238.0h0M343.2 242.9h0M328.1 233.6h0M330.1 226.8h0M334.3 229.7h0M332.7 240.3h0M334.6 243.5h0M324.4 227.6h0M317.7 237.9h0M327.3 228.3h0M336.4 243.4h0M338.8 242.8h0M342.1 234.4h0M325.1 239.0h0M325.0 225.4h0M330.0 238.5h0M336.3 232.1h0M321.2 227.4h0M335.6 233.7h0M334.3 238.6h0M335.0 241.1h0M341.9 234.2h0M329.6 233.9h0M326.1 227.4h0M338.1 232.7h0M314.1 231.7h0M328.4 225.2h0M314.1 236.1h0M339.8 240.5h0M335.5 228.4h0M336.4 229.3h0M325.5 230.5h0M321.6 226.2h0M343.1 225.7h0M342.8 237.6h0M338.5 226.2h0M337.3 227.9h0M333.4 232.9h0M341.6 226.0h0M311.9 235.5h0M333.9 236.8h0M319.1 231.3h0M338.0 235.6h0M328.3 224.2h0M316.2 241.5h0M327.0 225.4h0M327.5 228.2h0M334.3 225.0h0M334.2 236.7h0M334.1 235.7h0M325.9 231.7h0M338.7 229.6h0M340.2 227.7h0M332.7 241.6h0M336.9 229.4h0M329.7 229.5h0M338.7 231.2h0M340.4 237.7h0M340.3 234.4h0M327.2 237.5h0M331.6 225.0h0M332.0 227.7h0M318.3 229.2h0M342.5 237.2h0M331.6 235.5h0M330.3 235.1h0M326.5 240.8h0M339.6 232.7h0M334.6 231.3h0M339.1 240.4h0M342.0 226.1h0M341.7 228.3h0M320.4 232.1h0M336.6 226.3h0M336.5 243.0h0M339.3 240.3h0M322.7 230.6h0M326.0 231.3h0M341.3 243.6h0M326.6 235.0h0M335.7 243.1h0M332.0 226.3h0M319.8 226.9h0M332.7 225.8h0M337.5 227.8h0M316.1 238.2h0M332.3 238.9h0M335.1 231.5h0M318.1 240.8h0M337.3 229.1h0M318.8 236.4h0M342.1 238.6h0M341.9 243.5h0M321.2 227.6h0M332.4 226.2h0M332.9 240.0h0M326.5 240.1h0M326.3 240.1h0M318.5 226.3h0M316.4 235.4h0M314.1 237.7h0M331.2 241.8h0M330.3 240.4h0M338.7 231.4h0M339.3 235.8h0M335.4 232.4h0M322.5 234.3h0M333.7 232.5h0M343.0 227.4h0M341.7 235.0h0M319.8 235.1h0M323.9 233.8h0M332.8 239.2h0M341.7 225.4h0M341.1 242.4h0M322.3 225.6h0M332.4 224.6h0M321.1 234.0h0M324.7 235.8h0M324.6 237.1h0M336.1 225.5h0M337.4 242.1h0M343.2 224.8h0M337.5 230.3h0M331.1 233.0h0M316.6 236.4h0M321.4 240.8h0M319.9 236.2h0M334.5 224.6h0M320.6 233.8h0M330.4 227.0h0M319.9 228.6h0M339.9 226.7h0M338.8 226.2h0M340.0 239.2h0M341.2 231.7h0M342.9 232.1h0M336.2 240.3h0M322.3 224.9h0M337.6 228.5h0M325.1 233.7h0M323.2 229.3h0M324.4 225.8h0M340.0 240.6h0M338.3 232.6h0M341.9 234.7h0M334.5 224.4h0M329.5 228.3h0M336.8 242.9h0M336.2 230.3h0M340.3 225.6h0M339.8 224.8h0M342.7 238.8h0M343.0 233.5h0M336.8 231.9h0M338.7 234.6h0M332.2 239.8h0M342.3 229.5h0M326.4 243.6h0M328.9 231.2h0M334.4 229.7h0M332.2 229.4h0M331.8 239.7h0M339.0 242.3h0M342.1 229.3h0M339.3 237.6h0M336.1 233.6h0M341.9 235.1h0M342.2 226.1h0M329.5 226.6h0M338.1 233.0h0M328.4 230.6h0M332.9 230.0h0M333.1 236.2h0M313.9 228.3h0M333.8 237.0h0M335.4 238.4h0M331.6 241.9h0M339.1 233.9h0M334.9 239.8h0M327.2 229.6h0M333.2 234.0h0M316.8 233.9h0M341.9 241.0h0M334.2 237.8h0M329.9 225.4h0M340.1 234.6h0M335.8 236.1h0M342.9 229.9h0M334.9 238.4h0M337.4 241.9h0M316.0 239.7h0M315.7 230.2h0M329.4 239.8h0M341.3 234.9h0M334.6 237.1h0M314.6 231.3h0M332.1 225.0h0M328.1 229.5h0M321.3 227.7h0M329.9 237.0h0M340.6 230.3h0M339.4 238.0h0M320.0 227.9h0M341.1 226.8h0M336.2 235.5h0M339.8 239.3h0M340.0 226.7h0M338.2 241.6h0M337.0 242.8h0M318.9 233.2h0M342.7 230.0h0M329.1 229.8h0M330.0 232.5h0M333.4 229.1h0M333.3 242.3h0M329.3 228.9h0M341.8 238.0h0M339.5 242.0h0M343.0 230.0h0M309.9 238.5h0M336.9 231.6h0M341.6 239.8h0M334.9 236.1h0M331.2 227.6h0M327.6 238.3h0M333.1 234.3h0M336.8 242.4h0M320.8 225.8h0M339.1 228.3h0M334.9 234.0h0M337.1 236.6h0M330.7 235.9h0M342.2 240.5h0M332.2 238.4h0M327.5 242.2h0M310.9 235.2h0M339.0 241.9h0M334.2 234.1h0M335.7 238.9h0M329.9 236.5h0M326.3 225.6h0M318.6 227.5h0M330.9 226.6h0M339.3 237.5h0M330.3 227.5h0M331.1 241.2h0M340.4 237.6h0M330.3 240.4h0M333.4 230.7h0M341.5 237.2h0M317.2 225.4h0M332.6 239.3h0M331.7 234.4h0M321.7 235.9h0M330.9 231.1h0M324.8 235.6h0M340.2 234.5h0M335.7 234.9h0M337.9 237.7h0M312.5 243.0h0M333.1 225.0h0M338.2 239.0h0M329.8 235.8h0M315.8 238.5h0M337.2 239.9h0M332.6 242.1h0M331.1 224.1h0M319.2 230.4h0M325.3 228.5h0M319.4 236.8h0M341.3 242.3h0M329.4 233.8h0M333.9 235.8h0M338.3 232.5h0M313.8 230.2h0M312.7 237.4h0M342.8 235.3h0M337.5 235.2h0M342.8 227.3h0M334.9 230.5h0M332.2 228.3h0M339.3 230.6h0M326.8 240.8h0M313.6 227.7h0M342.0 237.1h0M324.4 226.6h0M337.1 240.4h0M343.3 242.5h0M338.7 225.7h0M339.4 232.6h0M334.0 224.5h0M313.0 234.2h0M336.6 229.3h0M342.7 225.3h0M341.1 242.3h0M319.2 240.3h0M335.9 232.5h0M331.7 234.8h0M342.0 238.9h0M332.6 233.0h0M323.4 234.8h0M340.8 236.5h0M335.5 232.9h0M343.0 240.7h0M333.7 237.0h0M339.8 229.0h0M336.2 229.6h0M339.0 230.0h0M342.6 237.6h0M333.9 235.2h0M335.2 229.3h0M314.3 232.9h0M327.6 233.3h0M324.7 228.1h0M342.9 231.4h0M338.7 226.8h0M319.1 237.6h0M331.7 239.7h0M314.0 233.8h0M335.5 228.4h0M338.0 227.9h0M320.3 227.1h0M316.4 231.9h0M339.4 227.4h0M327.3 230.6h0M325.1 241.1h0M340.3 226.4h0M336.9 241.8h0M312.8 231.9h0M314.6 230.2h0M321.0 233.0h0M324.5 238.4h0M330.2 225.6h0M334.5 233.0h0M338.5 238.6h0M326.1 231.6h0M338.1 243.0h0M334.5 236.0h0M328.8 232.6h0M328.3 233.8h0M327.3 230.3h0M314.8 225.7h0M340.9 230.8h0M342.7 228.8h0M329.7 241.6h0M331.9 237.3h0M339.2 231.6h0M324.4 224.2h0M340.9 235.3h0M339.3 243.3h0M341.0 235.6h0M320.4 235.3h0M332.9 226.0h0M313.7 230.8h0M329.9 241.2h0M343.2 242.1h0M328.5 240.8h0M330.2 231.2h0M335.1 224.8h0M337.2 225.2h0M335.3 238.7h0M317.4 236.7h0M333.5 230.9h0M339.3 230.2h0M324.0 232.1h0M329.7 240.1h0M324.6 231.8h0M339.3 233.1h0M329.0 226.9h0M329.3 234.4h0M339.3 243.6h0M334.1 233.8h0M338.9 233.2h0M326.3 237.7h0M340.3 228.4h0M340.8 225.2h0M324.0 231.4h0M341.6 233.5h0M329.2 228.8h0M332.5 235.0h0M335.5 241.6h0M321.1 238.1h0M342.6 235.9h0M337.9 239.8h0M341.3 230.3h0M332.1 240.5h0M322.7 232.8h0M342.7 231.8h0M331.6 232.3h0M332.8 239.1h0M320.3 233.1h0M331.4 242.9h0M340.7 229.8h0M328.4 243.5h0M312.8 237.7h0M313.4 229.7h0M336.6 237.3h0M336.4 228.4h0M330.7 240.8h0M327.1 234.6h0M334.6 240.9h0M339.8 239.5h0M328.9 238.5h0M341.4 225.5h0M338.2 233.1h0M330.3 236.6h0M339.8 241.8h0M339.6 242.3h0M340.9 234.0h0M337.5 242.0h0M335.3 225.4h0M330.7 237.4h0M314.0 226.2h0M340.5 237.5h0M313.6 239.4h0M335.8 231.5h0M336.6 225.8h0M321.8 237.5h0M337.3 236.1h0M331.7 227.9h0M318.1 229.4h0M325.2 223.8h0M332.1 211.1h0M326.3 220.0h0M316.7 229.4h0M320.4 221.9h0M324.4 228.1h0M340.6 226.5h0M335.2 226.1h0M310.8 226.8h0M342.4 229.0h0M341.5 218.2h0M337.2 229.9h0M323.4 221.8h0M342.9 220.9h0M319.4 227.0h0M326.3 226.4h0M323.8 220.7h0M334.2 224.1h0M336.1 225.6h0M323.3 220.2h0M315.1 216.6h0M337.1 222.5h0M306.2 214.2h0M340.4 226.4h0M322.2 228.1h0M341.1 215.6h0M320.8 226.9h0M338.6 221.4h0M331.3 222.6h0M328.3 228.5h0M333.8 226.5h0M341.4 229.3h0M336.2 214.5h0M327.9 229.7h0M331.1 214.2h0M336.2 225.6h0M337.5 225.6h0M324.9 223.2h0M318.3 223.8h0M332.0 218.3h0M312.9 226.5h0M335.4 227.9h0M330.8 216.9h0M332.4 221.9h0M341.4 220.4h0M339.4 226.6h0M325.4 226.1h0M314.2 221.5h0M337.0 214.8h0M333.4 229.2h0M342.6 227.9h0M339.7 222.2h0M327.5 221.3h0M314.0 216.8h0M313.3 220.4h0M326.6 223.2h0M331.3 228.5h0M327.8 224.5h0M339.2 224.2h0M337.4 229.7h0M341.2 221.6h0M340.0 229.4h0M323.0 218.7h0M337.6 226.8h0M321.8 229.8h0M330.8 229.8h0M331.8 227.4h0M318.5 228.3h0M330.1 220.5h0M329.7 226.8h0M341.0 227.8h0M341.6 227.8h0M328.0 219.4h0M341.4 224.1h0M342.4 226.9h0M338.9 226.0h0M321.6 224.7h0M336.0 217.7h0M328.0 228.2h0M322.2 212.7h0M322.5 224.0h0M324.8 225.2h0M324.4 224.0h0M341.7 228.5h0M338.2 224.1h0M333.2 228.2h0M321.9 222.9h0M318.5 224.3h0M325.9 226.9h0M327.7 226.7h0M333.8 226.0h0M329.8 223.8h0M317.9 226.6h0M326.3 221.7h0M341.2 223.8h0M316.9 226.4h0M328.9 223.3h0M334.6 225.0h0M341.2 222.0h0M339.4 228.6h0M323.9 213.0h0M319.5 225.3h0M340.6 224.5h0M323.2 226.0h0M338.9 229.4h0M333.3 219.9h0M333.3 224.9h0M322.0 217.4h0M340.8 221.7h0M340.7 225.7h0M306.0 229.2h0M342.9 219.6h0M336.7 214.9h0M341.2 218.6h0M334.9 227.7h0M334.2 229.0h0M320.6 229.8h0M335.7 217.7h0M311.7 220.3h0M317.5 223.3h0M317.8 221.9h0M340.3 227.2h0M324.9 218.0h0M315.9 222.2h0M314.0 218.6h0M343.2 222.4h0M339.8 215.6h0M319.5 215.4h0M332.7 228.9h0M340.3 223.0h0M339.1 223.4h0M332.4 221.7h0M326.6 226.6h0M328.5 220.0h0M326.8 214.8h0M328.1 229.3h0M333.4 221.4h0M331.0 225.3h0M319.0 225.5h0M324.5 217.7h0M322.7 222.6h0M337.3 215.3h0M331.3 225.9h0M340.2 218.6h0M338.7 222.6h0M318.0 226.9h0M337.2 229.9h0M323.9 227.2h0M342.1 225.3h0M336.7 218.1h0M325.2 223.5h0M321.0 217.9h0M327.8 226.6h0M331.9 225.2h0M332.2 227.7h0M337.7 222.5h0M316.7 218.5h0M327.5 223.8h0M336.9 217.3h0M322.2 227.6h0M340.2 221.3h0M333.3 225.6h0M323.9 224.9h0M313.3 229.5h0M323.4 229.2h0M341.1 223.7h0M320.1 221.8h0M341.9 215.6h0M324.2 221.4h0M327.5 229.9h0M330.0 229.3h0M335.7 211.9h0M327.5 222.5h0M321.0 220.8h0M322.4 229.0h0M333.4 224.2h0M325.3 226.4h0M327.2 213.8h0M319.9 228.3h0M336.6 227.1h0M329.8 226.3h0M309.8 226.5h0M339.9 226.3h0M332.4 227.1h0M338.8 223.7h0M317.2 226.5h0M335.6 229.5h0M310.3 225.8h0M341.4 215.0h0M336.4 226.6h0M339.7 225.4h0M336.4 228.1h0M322.3 212.6h0M337.1 219.2h0M317.5 217.7h0M341.1 229.0h0M331.1 227.5h0M325.1 217.9h0M334.8 221.5h0M312.9 227.5h0M306.2 226.8h0M320.9 221.7h0M327.6 227.6h0M335.5 216.6h0M326.1 225.4h0M342.5 224.1h0M339.4 228.4h0M338.2 221.0h0M318.9 228.1h0M322.5 224.8h0M329.5 226.2h0M342.2 220.5h0M314.6 227.9h0M322.7 225.7h0M324.4 228.8h0M335.2 228.4h0M327.4 220.1h0M336.2 219.7h0M314.0 229.9h0M340.2 217.2h0M329.3 216.7h0M313.7 226.1h0M339.0 229.7h0M341.4 223.4h0M311.0 226.8h0M331.4 218.1h0M323.2 219.2h0M342.0 222.3h0M342.8 225.8h0M337.4 228.0h0M322.7 228.6h0M341.9 217.1h0M326.0 221.3h0M334.5 228.1h0M340.7 224.6h0M343.1 226.6h0M337.4 224.2h0M335.0 226.0h0M339.2 225.1h0M326.5 221.6h0M327.4 221.5h0M333.3 229.9h0M343.2 221.3h0M329.2 225.8h0M326.9 216.3h0M322.0 228.8h0M330.5 215.3h0M334.3 220.9h0M341.2 227.5h0M310.3 222.2h0M315.9 221.9h0M339.2 228.5h0M341.0 224.5h0M333.8 225.8h0M324.4 229.6h0M320.3 229.5h0M322.0 228.0h0M331.3 215.3h0M338.9 225.7h0M316.9 230.0h0M340.4 226.4h0M315.6 228.9h0M312.1 229.6h0M338.6 228.1h0M341.6 226.6h0M328.2 224.0h0M328.9 225.1h0M336.5 226.6h0M331.5 227.8h0M309.9 229.2h0M323.6 222.1h0M337.6 224.8h0M327.5 217.1h0M337.2 224.5h0M326.0 223.6h0M333.8 229.7h0M335.2 222.3h0M317.8 221.7h0M320.8 219.9h0M338.0 223.3h0M326.2 219.2h0M337.7 229.1h0M336.9 221.2h0M330.5 217.8h0M325.1 218.2h0M331.7 226.9h0M332.4 227.8h0M340.4 228.0h0M329.6 226.5h0M334.5 227.2h0M338.5 228.6h0M330.6 228.1h0M330.4 228.6h0M330.3 228.7h0M318.2 229.6h0M313.2 229.9h0M338.0 217.3h0M325.4 221.4h0M329.9 220.7h0M320.2 225.2h0M337.5 222.7h0M313.7 215.3h0M308.7 229.8h0M336.8 220.8h0M341.2 212.8h0M342.3 213.8h0M321.5 216.2h0M338.5 220.4h0M328.8 223.2h0M334.0 228.4h0M334.2 218.4h0M313.8 227.0h0M330.2 224.9h0M317.3 221.0h0M341.6 229.7h0M326.7 223.9h0M341.1 228.1h0M326.4 227.3h0M325.2 218.3h0M341.5 223.2h0M342.6 228.9h0M332.9 229.3h0M329.4 224.9h0M319.6 212.1h0M329.7 218.5h0M328.0 224.7h0M327.2 227.8h0M338.9 224.7h0M332.9 229.9h0M330.3 204.8h0M336.6 195.6h0M322.0 200.5h0M330.7 194.8h0M337.8 208.6h0M329.1 210.2h0M329.8 203.7h0M313.1 204.1h0M325.4 208.1h0M339.3 198.2h0M330.9 205.8h0M326.7 204.7h0M342.5 203.9h0M327.3 206.2h0M341.0 206.9h0M342.9 203.4h0M338.3 209.3h0M341.4 211.0h0M331.4 201.9h0M331.3 207.3h0M313.1 208.0h0M336.9 201.8h0M323.3 207.8h0M302.1 210.1h0M336.9 205.7h0M331.8 202.8h0M338.9 201.3h0M335.7 193.4h0M307.4 210.2h0M302.1 197.4h0M337.4 205.9h0M315.5 209.7h0M313.6 204.8h0M335.1 209.1h0M335.7 205.4h0M314.5 201.3h0M332.1 205.5h0M323.1 210.8h0M337.5 210.3h0M319.9 210.4h0M342.2 205.8h0M341.9 210.7h0M341.7 201.3h0M319.3 196.3h0M340.8 199.1h0M330.5 194.5h0M338.1 209.7h0M341.4 201.8h0M318.4 207.9h0M331.4 198.6h0M333.7 203.9h0M336.3 208.2h0M326.0 200.4h0M307.6 210.3h0M301.4 206.9h0M335.4 210.4h0M334.8 210.9h0M342.6 207.2h0M330.3 197.4h0M324.9 197.0h0M332.1 203.7h0M341.5 209.8h0M331.5 199.1h0M331.2 208.9h0M340.3 201.5h0M305.2 208.0h0M323.3 196.0h0M322.7 205.1h0M317.9 208.4h0M335.5 205.9h0M307.9 233.7h0M309.7 232.9h0M313.7 232.1h0M308.8 236.0h0M308.6 229.5h0M315.1 232.3h0M304.8 240.5h0M315.9 237.7h0M315.8 228.8h0M298.1 242.3h0M313.7 232.4h0M317.6 239.8h0M315.9 234.0h0M315.1 228.9h0M307.7 243.1h0M317.9 229.8h0M304.5 232.5h0M316.0 235.6h0M317.7 240.7h0M300.8 234.9h0M302.3 230.7h0M304.7 236.9h0M317.8 240.8h0M306.8 234.2h0M308.1 232.3h0M313.4 234.3h0M307.8 232.2h0M303.3 243.2h0M294.3 243.4h0M313.3 237.4h0M313.2 239.4h0M303.8 229.0h0M317.6 237.1h0M314.5 241.9h0M303.6 228.9h0M316.3 238.8h0M309.1 229.6h0M314.9 228.3h0M314.8 242.8h0M307.1 233.1h0M315.1 229.5h0M303.9 241.4h0M305.0 238.0h0M311.5 238.8h0M303.1 232.9h0M307.1 242.9h0M300.5 238.6h0M314.8 243.3h0M300.5 229.9h0M311.1 240.6h0M312.4 239.1h0M308.7 241.8h0M309.8 238.1h0M295.5 238.0h0M299.6 230.8h0M317.1 231.8h0M316.6 242.0h0M300.6 237.9h0M295.2 229.3h0M313.1 228.1h0M334.7 192.3h0M319.2 193.1h0M334.2 176.5h0M320.4 180.9h0M318.1 184.0h0M312.9 187.5h0M336.7 183.1h0M309.9 187.3h0M323.5 181.1h0M336.5 188.7h0M309.9 189.3h0M341.3 187.1h0M322.2 180.5h0M325.6 184.1h0M332.1 182.8h0M314.6 174.4h0M334.1 174.6h0M335.2 182.9h0M329.2 160.3h0M331.3 170.7h0M276.0 155.2h0M304.1 158.0h0M320.1 144.8h0M333.4 134.3h0M296.0 169.3h0M337.4 173.7h0M325.4 180.5h0M338.5 175.5h0M322.0 183.0h0M292.3 226.0h0M293.5 229.2h0M295.0 222.8h0M308.0 183.8h0M318.5 186.0h0" stroke="#d62d2d" stroke-width="1.0" stroke-linecap="square" fill="none"/>
<path d="M361.9 243.7L361.9 224.5L368.0 224.0L372.0 226.5L374.5 231.0L376.0 243.7Z" fill="#4b67b8"/>
<path d="M363.0 241.6h0M368.4 222.1h0M372.1 237.4h0M366.3 239.4h0M366.9 242.6h0M365.3 235.8h0M370.4 235.3h0M371.8 238.9h0M377.7 234.6h0M376.9 235.0h0M368.9 225.1h0M368.6 240.4h0M377.9 237.2h0M381.8 238.5h0M369.8 236.6h0M373.3 234.1h0M365.1 241.3h0M364.0 241.7h0M373.8 242.4h0M375.6 232.5h0M373.0 237.7h0M373.8 240.2h0M369.4 237.5h0M366.1 233.1h0M362.4 235.8h0M375.7 241.7h0M373.6 234.2h0M362.7 241.5h0M383.5 239.3h0M378.2 224.9h0M379.1 238.6h0M367.9 240.2h0M362.3 243.0h0M362.2 241.3h0M363.0 243.3h0M383.6 236.9h0M376.3 235.5h0M365.0 239.9h0M369.7 239.6h0M369.8 242.8h0M368.1 232.1h0M377.3 240.0h0M370.6 225.5h0M365.3 231.5h0M384.7 243.0h0M365.0 235.1h0M366.0 229.2h0M380.2 231.7h0M376.3 236.5h0M370.0 241.8h0M368.6 230.6h0M367.1 242.4h0M364.5 231.1h0M365.2 228.6h0M374.9 230.0h0M367.6 232.5h0M367.7 232.4h0M385.3 233.7h0M383.9 235.8h0M377.0 240.0h0M362.0 231.8h0M363.1 242.5h0M370.3 241.7h0M365.8 241.9h0M363.2 237.1h0M374.4 240.8h0M367.8 233.7h0M375.8 243.1h0M366.9 224.1h0M364.8 237.9h0M367.3 235.4h0M364.4 232.5h0M372.4 236.2h0M365.4 223.6h0M368.6 238.4h0M366.0 240.2h0M373.5 229.3h0M368.5 234.3h0M371.9 243.4h0M367.0 225.5h0M371.1 242.6h0M363.1 224.1h0M368.3 242.2h0M374.3 234.1h0M381.8 235.4h0M362.4 234.4h0M362.8 226.1h0M366.9 235.9h0M368.7 243.1h0M370.4 240.4h0M362.1 242.5h0M366.6 240.1h0M363.7 237.8h0M364.2 241.7h0M368.4 243.2h0M378.2 232.2h0M365.9 240.9h0M366.7 232.2h0M362.2 241.9h0M374.1 232.4h0M387.2 231.5h0M365.8 234.8h0M364.4 223.9h0M365.3 242.3h0M364.7 236.3h0M377.7 226.5h0M371.2 241.2h0M363.3 241.8h0M373.5 234.7h0M382.2 238.9h0M381.2 241.7h0M366.1 229.9h0M362.5 229.1h0M363.1 240.9h0M364.9 239.3h0M362.1 229.7h0M363.3 230.3h0M369.8 236.8h0M365.0 243.0h0M378.4 229.4h0M372.8 234.9h0M374.8 231.3h0M366.3 230.3h0M371.7 235.6h0M368.1 241.9h0M381.0 228.1h0M363.2 238.4h0M366.9 229.8h0M372.7 240.7h0M367.0 241.1h0M363.9 242.0h0M372.3 238.1h0M375.0 238.1h0M367.6 231.6h0M372.0 238.6h0M378.1 233.4h0M369.9 230.8h0M370.6 240.2h0M366.0 230.6h0M378.0 233.9h0M367.2 238.5h0M378.2 241.8h0M373.2 242.1h0M363.1 233.6h0M377.2 234.6h0M366.5 243.5h0M367.4 233.3h0M362.6 236.6h0M364.6 243.4h0M380.5 236.8h0M369.6 232.0h0M382.7 222.3h0M362.1 228.4h0M365.6 231.7h0M378.8 231.5h0M374.0 239.0h0M375.2 223.6h0M382.0 236.6h0M363.2 240.8h0M373.7 234.4h0M375.4 236.1h0M370.7 236.3h0M377.1 241.6h0M367.4 242.6h0M378.2 239.9h0M374.6 235.9h0M371.9 241.1h0M375.6 236.0h0M362.2 237.7h0M366.8 234.0h0M367.4 236.4h0M370.4 241.3h0M375.7 235.2h0M380.6 232.9h0M373.1 240.0h0M368.5 240.2h0M382.0 240.2h0M368.7 228.6h0M374.9 238.6h0M370.8 225.7h0M362.3 228.7h0M362.8 243.6h0M368.7 242.4h0M368.4 241.8h0M362.4 230.9h0M375.6 238.0h0M366.4 227.7h0M379.8 237.9h0M371.0 237.4h0M378.4 229.8h0M366.2 234.2h0M370.5 231.0h0M366.7 227.7h0M376.1 223.0h0M363.5 229.0h0M379.1 229.7h0M367.8 238.3h0M374.3 236.1h0M369.6 228.2h0M362.7 243.5h0M370.5 240.6h0M363.9 239.1h0M376.3 237.7h0M383.1 243.5h0M364.1 232.3h0M369.0 229.5h0M370.3 232.7h0M363.5 230.5h0M362.4 232.9h0M368.4 238.9h0M362.8 241.9h0M377.2 240.3h0M369.1 228.2h0M364.5 233.9h0M373.1 243.6h0M365.2 242.0h0M381.5 241.3h0M366.3 239.6h0M376.7 241.4h0M377.6 243.5h0M376.9 235.9h0M365.8 228.7h0M367.8 241.4h0M363.7 242.8h0M377.3 229.1h0M377.7 239.2h0M365.6 236.7h0M371.7 234.6h0M369.9 227.1h0M367.1 240.8h0M374.3 242.8h0M368.9 237.9h0M367.1 242.7h0M376.1 239.0h0M366.1 239.7h0M380.1 236.6h0M362.8 234.4h0M367.0 224.1h0M363.9 233.6h0M374.4 243.5h0M385.0 237.6h0M381.6 238.4h0M365.5 238.7h0M368.3 242.7h0M366.9 224.4h0M363.4 239.2h0M371.8 236.6h0M378.3 240.5h0M375.0 233.1h0M373.5 240.3h0M363.0 225.4h0M369.2 239.3h0M365.6 233.0h0M365.7 238.3h0M381.5 226.2h0M369.1 233.5h0M369.6 226.7h0M376.1 239.9h0M371.6 226.0h0M363.3 233.1h0M372.6 236.4h0M379.5 243.2h0M372.7 234.6h0M376.9 241.6h0M373.5 238.6h0M373.1 243.6h0M377.3 239.4h0M373.6 236.0h0M378.6 235.4h0M373.8 231.5h0M373.5 240.2h0M376.2 236.8h0M376.1 233.2h0M375.0 241.8h0M378.4 242.2h0M374.1 243.5h0M388.4 234.6h0M375.5 242.8h0M374.4 240.0h0M381.1 232.9h0M377.7 242.8h0M379.4 242.8h0M383.8 239.1h0M373.1 242.1h0M386.1 241.6h0M382.8 241.5h0M376.6 236.7h0M373.6 240.2h0M382.0 242.8h0M379.8 241.9h0M376.1 235.1h0M377.2 238.3h0M375.3 240.4h0M378.1 235.4h0M386.0 241.6h0M380.0 232.3h0M379.3 243.5h0M373.1 243.5h0M373.1 239.4h0M373.8 242.8h0M376.4 242.8h0M377.1 233.1h0M378.6 234.4h0M375.8 237.2h0M373.4 237.4h0M382.9 237.6h0M388.5 243.3h0M372.3 241.0h0M382.1 235.8h0M374.2 235.8h0M382.8 233.6h0M379.3 240.7h0M372.2 241.1h0M381.1 238.7h0M376.7 241.3h0M376.1 238.9h0M390.5 242.1h0M377.4 239.5h0M372.1 238.0h0M374.0 235.0h0M377.1 242.7h0M385.7 236.2h0M373.3 231.1h0M377.6 242.5h0M387.9 242.0h0M389.4 241.2h0M376.6 236.6h0M378.3 243.3h0M375.5 235.1h0M389.0 240.8h0M381.7 240.2h0M387.2 230.1h0M377.3 242.8h0M378.8 238.2h0M384.8 236.8h0M383.3 241.7h0M382.5 242.0h0M373.2 236.4h0M375.7 243.3h0M384.6 241.0h0M372.6 238.1h0M375.0 241.0h0M385.2 237.1h0M378.0 236.7h0M372.2 240.2h0M372.7 243.4h0M375.7 241.3h0M379.5 241.4h0M376.7 231.3h0M374.7 240.1h0M380.2 236.7h0M381.8 240.1h0M381.1 243.0h0M377.3 243.4h0M372.4 237.0h0M372.7 241.0h0M372.6 238.7h0M372.2 242.5h0M379.5 241.7h0M376.8 235.0h0M374.7 240.8h0M383.5 240.0h0M375.8 238.3h0M383.0 243.0h0M380.2 233.4h0M376.1 239.5h0M375.6 238.7h0M375.8 232.2h0M375.9 243.0h0M372.9 241.8h0M374.0 240.9h0M373.1 238.8h0M376.0 240.5h0M373.0 240.9h0M380.7 236.3h0M372.4 243.1h0M377.5 237.4h0M382.5 235.6h0M388.3 241.5h0M372.4 229.7h0M376.7 233.9h0M377.2 242.3h0M377.1 240.0h0M372.0 238.3h0M384.5 240.8h0M373.0 237.6h0M375.8 233.7h0M379.3 242.5h0M383.2 243.2h0M372.3 241.4h0M379.1 237.0h0M372.3 231.4h0M374.2 239.6h0M375.4 233.7h0M383.0 241.1h0M374.8 229.7h0M379.5 241.1h0M382.6 242.1h0M376.5 243.1h0M373.5 240.8h0M373.7 242.9h0M373.6 243.0h0M382.7 234.3h0M380.8 241.9h0M381.6 240.2h0M372.3 242.5h0M374.7 235.5h0M381.2 237.8h0M373.1 234.2h0M386.3 234.8h0M374.2 241.5h0M380.1 232.8h0M380.0 239.3h0M376.8 240.7h0M374.2 236.1h0M378.7 239.4h0M380.0 233.2h0M374.0 242.2h0M379.7 239.2h0M385.7 239.0h0M374.9 238.3h0M373.7 239.0h0M382.5 234.1h0M375.7 238.6h0M375.0 235.7h0M380.0 235.9h0M372.8 243.3h0M381.3 242.9h0M372.5 236.9h0M378.7 241.9h0M372.4 242.2h0M378.8 243.5h0M377.8 230.9h0M376.0 241.8h0M376.9 239.7h0M378.7 239.5h0M373.0 235.5h0M384.5 240.6h0M376.2 233.9h0M383.7 233.5h0M373.9 240.9h0M375.5 236.7h0M375.2 236.9h0M389.0 242.2h0M391.1 238.5h0M372.6 238.7h0M376.4 240.1h0M379.6 242.6h0M377.4 232.5h0M379.4 242.6h0M373.5 239.7h0M381.8 234.8h0M377.3 239.1h0M375.7 234.2h0M374.2 239.7h0M373.5 233.2h0M389.3 241.3h0M374.2 242.5h0M383.5 242.9h0M386.0 239.5h0M374.4 239.3h0M376.4 240.4h0M375.8 241.3h0M379.3 235.3h0M374.4 233.8h0M372.7 240.5h0M387.6 233.7h0M377.6 240.3h0M374.8 243.3h0M372.8 242.7h0M380.8 243.5h0M376.8 242.7h0M373.6 238.9h0M384.3 237.7h0M377.1 240.0h0M379.9 242.6h0M377.7 238.4h0M375.3 231.6h0M384.4 232.5h0M378.9 231.8h0M381.3 237.2h0M374.6 236.9h0M376.4 242.6h0M384.7 235.7h0M374.8 242.3h0M379.8 233.0h0M377.4 230.9h0M374.9 235.3h0M374.4 233.7h0M376.6 235.3h0M386.6 239.8h0M382.1 234.6h0M373.6 238.8h0M379.4 240.6h0M372.2 232.9h0M377.5 240.2h0M378.1 241.7h0M376.7 233.8h0M382.9 239.7h0M372.9 239.5h0M378.5 234.3h0M376.0 242.9h0M379.9 242.3h0M380.2 241.0h0M383.9 241.8h0M378.1 240.0h0M379.0 234.2h0M374.8 232.6h0M373.6 239.7h0M373.5 236.6h0M376.2 233.8h0M380.8 243.3h0M376.6 237.3h0M373.1 237.7h0M385.4 242.6h0M383.7 241.6h0M372.2 238.5h0M375.7 236.7h0M385.3 241.3h0M382.3 234.4h0M391.1 243.0h0M389.3 241.6h0M385.3 241.8h0M389.8 241.6h0M393.0 241.7h0M389.8 242.5h0M385.2 236.7h0M386.6 238.5h0M389.3 240.6h0M386.7 243.3h0M392.6 238.6h0M397.6 241.6h0M397.3 239.2h0M393.2 240.0h0M394.1 243.4h0M400.9 241.5h0M386.2 242.7h0M399.1 240.6h0M388.4 240.8h0M387.1 240.0h0M388.6 241.3h0M390.7 241.6h0M390.9 242.9h0M385.4 243.3h0M385.5 242.8h0M392.8 242.7h0M391.5 238.9h0M389.7 242.8h0M389.3 238.1h0M388.8 241.5h0M385.6 239.0h0M389.7 237.3h0M388.2 236.4h0M386.8 242.6h0M385.4 241.3h0M387.4 242.0h0M387.3 241.9h0M394.9 241.0h0M387.6 236.9h0M394.2 242.0h0M387.5 237.4h0M385.3 243.2h0M393.6 240.3h0M392.7 241.0h0M398.1 240.2h0M386.3 239.4h0M394.3 235.8h0M392.1 241.7h0M388.1 241.6h0M393.0 235.5h0M387.7 238.3h0M388.7 241.6h0M387.5 243.1h0M387.3 238.5h0M399.8 241.7h0M397.9 242.9h0M388.9 241.8h0M398.8 242.2h0M386.2 238.1h0M392.1 240.0h0M391.8 237.8h0M386.2 237.7h0M391.8 243.4h0M394.3 242.9h0M390.5 241.8h0M390.6 237.3h0M387.3 242.2h0M400.0 242.8h0M387.7 241.8h0M386.0 240.0h0M385.6 243.2h0M386.5 240.1h0M400.0 240.2h0M386.7 241.1h0M390.1 238.4h0M394.4 238.4h0M385.5 240.4h0M387.9 243.1h0M389.4 243.2h0M389.3 241.2h0M395.7 240.9h0M387.8 243.1h0M396.8 242.3h0M400.3 240.7h0M395.3 237.0h0M385.8 242.0h0M394.2 237.2h0M390.8 238.4h0M386.4 241.5h0M391.9 243.0h0M386.4 242.3h0M387.7 242.8h0M390.2 240.7h0M386.0 243.6h0M390.2 241.2h0M388.2 241.0h0M386.9 240.9h0M388.1 239.6h0M393.8 236.1h0M391.7 236.4h0M391.1 240.6h0M397.6 242.4h0M390.1 238.2h0M390.9 239.6h0M390.2 243.5h0M391.3 241.0h0M385.5 239.7h0M386.2 239.1h0M392.0 241.2h0M391.2 238.4h0M363.5 227.5h0M366.5 213.1h0M368.1 222.3h0M365.3 225.7h0M374.0 227.0h0M376.2 226.1h0M374.4 227.4h0M361.9 221.9h0M372.1 228.1h0M372.6 223.8h0M362.8 227.0h0M365.6 223.7h0M366.6 227.2h0M371.1 228.0h0M374.7 227.0h0M369.6 224.2h0M364.1 218.1h0M381.5 219.7h0M366.5 228.7h0M361.9 223.6h0M381.4 228.3h0M362.5 219.5h0M377.8 225.0h0M362.5 223.7h0M363.0 225.4h0M364.7 228.1h0M377.3 227.8h0M368.5 225.6h0M366.9 218.4h0M377.6 226.9h0M375.7 223.8h0M375.4 217.4h0M370.3 220.7h0M367.0 228.7h0M367.8 221.2h0M362.7 226.9h0M367.9 227.3h0M375.7 217.8h0M377.2 217.3h0M365.3 225.9h0M362.3 224.0h0M381.5 221.0h0M362.1 227.2h0M374.8 219.0h0M363.7 223.3h0M370.1 223.3h0M363.9 215.4h0M362.7 225.1h0M376.8 213.9h0M367.6 224.0h0M369.5 219.5h0M371.1 220.0h0M363.7 216.2h0M365.3 220.3h0M368.5 228.7h0M373.0 221.6h0M369.9 224.6h0M377.6 228.6h0M363.0 215.3h0M379.0 226.5h0M386.1 230.4h0M394.7 239.6h0M390.1 239.6h0M400.2 228.6h0M392.2 233.2h0M396.9 226.8h0M389.3 225.5h0M380.6 230.3h0M395.0 238.5h0M383.3 231.0h0M391.2 240.8h0M401.8 239.9h0M393.3 229.6h0M384.0 230.7h0M381.8 241.5h0M394.8 226.8h0M385.8 232.3h0M389.5 225.9h0M420.9 232.7h0M419.1 236.9h0M407.3 240.5h0M393.7 232.8h0M384.7 227.5h0M398.8 230.0h0M388.7 230.8h0M410.8 241.7h0M389.9 234.2h0M386.2 238.0h0M398.8 225.7h0M413.2 232.1h0M384.8 229.9h0M414.0 236.7h0M387.8 235.7h0M407.7 233.4h0M401.9 228.2h0M419.2 241.8h0M381.7 230.4h0M412.5 230.8h0M416.3 231.3h0M382.8 241.1h0M374.7 201.4h0M401.6 208.2h0M429.7 214.2h0M440.6 221.9h0M439.8 225.5h0M363.2 201.5h0M379.1 203.3h0M380.5 208.0h0M403.0 217.0h0M415.0 219.5h0M425.0 230.5h0M427.0 231.5h0M409.0 226.5h0M418.0 233.8h0M424.0 234.0h0M421.0 238.5h0M416.0 239.0h0M434.0 234.5h0M438.0 236.0h0M372.0 210.5h0M376.0 213.0h0" stroke="#4b67b8" stroke-width="1.0" stroke-linecap="square" fill="none"/>
<path d="M54.0 454.6L58.0 451.6L70.0 450.5L95.0 449.8L104.0 448.6L109.0 447.4L111.0 448.6L113.2 452.0L114.5 454.0L122.3 454.0L123.6 452.0L125.5 448.6L127.5 447.4L132.0 448.6L142.0 449.8L165.0 450.5L170.0 452.0L172.0 454.6Z" fill="#cdcdcd"/>
<path d="M50.5 454.8h0M55.4 453.6h0M56.8 451.5h0M50.6 453.4h0M46.9 451.0h0M44.6 451.7h0M49.7 454.9h0M47.4 453.1h0M50.0 452.9h0M50.0 452.7h0M45.1 452.5h0M55.4 454.7h0M52.5 453.5h0M55.4 451.0h0M55.8 453.9h0M54.5 452.8h0M56.7 455.1h0M56.1 454.5h0M50.8 450.4h0M56.3 453.8h0M56.4 451.0h0M56.7 451.6h0M53.9 450.7h0M52.4 452.5h0M51.5 454.6h0M170.6 453.4h0M188.0 454.6h0M172.0 451.1h0M168.3 453.0h0M168.9 450.4h0M189.4 450.4h0M190.3 451.8h0M168.8 451.3h0M185.3 453.0h0M168.9 452.5h0M177.8 451.8h0M170.1 450.5h0M189.1 454.1h0M182.6 454.0h0M179.6 453.5h0M186.3 453.8h0M172.5 454.0h0M183.5 451.5h0M176.1 452.6h0M188.7 453.6h0M185.2 451.5h0M192.7 454.5h0M180.5 453.9h0M187.6 453.1h0M175.7 452.8h0M62.9 448.6h0M87.2 450.0h0M108.5 449.4h0M102.1 450.1h0M91.5 450.8h0M99.2 448.9h0M105.9 448.8h0M67.6 449.1h0M81.0 450.7h0M73.7 450.2h0M101.2 448.4h0M102.3 449.2h0M74.0 448.5h0M95.2 448.0h0M98.7 450.4h0M61.5 448.6h0M96.5 449.2h0M62.7 450.7h0M108.0 449.1h0M64.8 448.1h0M93.9 450.7h0M58.6 449.4h0M76.2 449.0h0M63.8 450.5h0M84.1 450.2h0M109.1 448.9h0M109.1 450.1h0M99.5 450.3h0M82.5 449.4h0M94.4 448.8h0M77.4 450.7h0M66.0 449.4h0M77.3 448.6h0M102.4 448.6h0M95.4 449.1h0M71.1 449.2h0M64.2 449.2h0M72.0 448.9h0M104.2 449.2h0M67.0 449.9h0M154.1 450.3h0M166.8 449.3h0M155.3 450.7h0M156.1 449.9h0M148.5 449.6h0M153.3 448.2h0M160.7 451.0h0M128.5 449.2h0M158.2 449.8h0M148.7 450.9h0M164.0 450.9h0M163.4 450.6h0M136.0 449.0h0M169.4 450.2h0M126.4 448.5h0M156.5 449.1h0M152.2 449.9h0M147.7 450.8h0M132.1 449.5h0M135.1 449.7h0M138.4 448.7h0M160.2 448.7h0M133.7 449.4h0M135.5 448.0h0M155.6 448.1h0M146.1 449.1h0M132.8 449.1h0M128.3 448.1h0M135.3 449.1h0M161.3 449.1h0M143.0 450.8h0M159.7 448.8h0M148.1 448.8h0M155.5 450.2h0M136.7 449.9h0M126.2 448.2h0M144.9 450.3h0M141.0 448.6h0M161.2 450.5h0M131.9 450.0h0" stroke="#c6c6c6" stroke-width="1.0" stroke-linecap="square" fill="none"/>
<path d="M105.4 449.3h0M106.6 448.1h0M89.5 448.0h0M81.7 448.6h0M106.6 447.8h0M96.5 449.2h0M95.8 449.1h0M89.1 448.0h0M98.9 445.1h0M89.0 446.8h0M100.4 446.0h0M91.0 447.2h0M99.1 448.1h0M88.9 448.6h0M105.4 448.7h0M95.3 446.6h0M96.5 444.3h0M94.6 449.0h0M97.2 446.7h0M95.5 446.9h0M96.9 448.4h0M95.7 449.1h0M80.4 444.8h0M96.3 446.9h0M104.5 446.3h0M106.1 446.8h0M102.1 446.9h0M104.2 446.3h0M100.0 446.9h0M102.2 445.9h0M97.8 445.3h0M104.0 447.3h0M104.4 445.6h0M93.1 445.8h0M105.3 446.3h0M95.5 447.2h0M104.6 447.9h0M95.5 448.5h0M96.1 446.1h0M95.1 446.1h0M99.3 447.4h0M105.8 449.3h0M101.6 447.1h0M91.9 448.3h0M104.1 445.8h0M98.4 448.4h0M91.5 448.0h0M99.3 445.2h0M106.8 447.9h0M96.0 448.8h0M106.7 448.7h0M96.8 447.7h0M99.7 448.5h0M101.6 448.3h0M99.8 448.9h0M99.9 448.8h0M97.4 449.2h0M106.3 447.3h0M94.4 446.8h0M104.8 448.4h0M106.3 446.1h0M97.0 447.3h0M98.1 447.0h0M105.3 445.7h0M100.8 449.1h0M104.4 449.1h0M95.4 448.9h0M89.6 449.1h0M105.1 447.9h0M96.4 447.4h0M85.7 448.3h0M87.9 448.0h0M91.7 447.6h0M104.5 447.8h0M94.2 447.0h0M101.5 446.6h0M106.4 444.5h0M98.3 446.6h0M103.5 446.1h0M85.5 449.0h0M104.0 447.2h0M96.2 446.4h0M106.7 446.6h0M99.9 449.2h0M99.9 447.6h0M54.9 441.4h0M82.9 448.4h0M63.2 447.3h0M65.7 437.9h0M77.7 440.1h0M81.6 446.7h0M59.1 448.4h0M105.9 447.2h0M101.5 443.4h0M76.8 446.9h0M89.2 448.3h0M96.7 443.6h0M97.5 442.3h0M105.8 443.3h0M97.6 443.5h0M76.2 440.9h0M87.4 445.5h0M102.2 448.0h0M102.5 444.0h0M98.1 448.2h0M67.1 448.9h0M105.1 441.9h0M96.7 443.4h0M80.6 439.6h0M95.1 446.8h0M96.6 442.0h0M94.2 447.0h0M80.1 449.0h0M84.5 439.7h0M104.9 442.6h0M53.2 444.7h0M64.2 443.5h0M88.9 447.1h0M85.6 438.5h0M61.4 445.5h0M71.8 445.4h0M92.6 447.0h0M105.3 445.9h0M105.9 442.0h0M59.6 446.7h0M98.4 448.1h0M56.9 443.3h0M86.1 448.6h0M93.4 446.0h0M66.7 443.5h0M96.8 433.2h0M105.0 428.7h0M76.3 439.9h0M94.7 431.1h0M96.5 434.7h0M69.7 430.8h0M97.4 439.1h0M86.2 430.7h0M106.5 429.5h0M102.7 433.1h0M94.2 436.4h0M86.0 439.4h0M86.8 428.5h0M94.1 435.7h0M99.1 432.8h0M77.1 434.0h0M88.9 433.5h0M76.5 438.6h0M63.8 342.1h0M73.2 356.2h0M76.6 386.8h0M38.6 408.9h0M61.5 417.0h0M73.9 417.0h0M88.0 417.0h0M79.9 424.4h0M81.3 424.4h0M38.6 436.8h0M57.1 432.1h0M69.0 401.0h0M67.8 412.0h0M49.0 445.0h0M50.5 446.5h0M52.0 444.0h0M84.0 431.5h0M95.0 433.0h0M100.0 428.5h0M93.0 438.0h0M98.0 437.5h0M50.2 445.3h0M51.5 446.8h0M82.5 433.2h0M88.5 434.1h0M94.0 435.5h0M101.5 434.5h0M86.0 435.9h0" stroke="#d62d2d" stroke-width="1.0" stroke-linecap="square" fill="none"/>
<path d="M131.0 449.1h0M134.5 447.5h0M132.6 441.5h0M131.5 445.7h0M136.4 448.6h0M133.8 446.8h0M137.6 441.1h0M132.6 448.2h0M131.9 446.4h0M135.1 444.5h0M132.4 447.5h0M133.2 448.3h0M140.2 446.1h0M133.0 447.6h0M137.0 444.2h0M129.9 448.9h0M135.9 443.4h0M137.1 446.1h0M132.9 447.0h0M131.5 446.3h0M130.1 443.2h0M134.0 449.2h0M135.1 447.6h0M132.4 445.5h0M137.1 442.8h0M133.0 447.7h0M131.6 445.5h0M135.1 441.9h0M135.1 442.7h0M130.1 443.4h0M130.8 448.2h0M130.6 448.8h0M131.3 442.9h0M133.3 446.6h0M133.1 445.2h0M130.8 448.3h0M134.5 444.8h0M135.4 447.9h0M130.2 449.0h0M132.2 448.8h0M134.2 448.9h0M130.0 448.8h0M133.8 446.1h0M137.4 448.1h0M133.8 442.5h0M134.5 446.0h0M132.0 448.0h0M134.4 448.6h0M130.7 448.7h0M132.3 442.8h0M136.6 444.7h0M133.2 447.0h0M130.0 445.5h0M129.7 447.2h0M129.8 444.9h0M137.6 446.3h0M132.3 443.2h0M137.5 447.4h0M131.3 447.4h0M132.2 447.9h0M132.1 445.9h0M131.3 448.4h0M135.4 448.0h0M137.4 446.3h0M135.9 447.4h0M131.5 443.1h0M134.8 443.7h0M132.5 446.6h0M130.0 449.0h0M131.9 449.0h0M137.3 443.3h0M131.6 447.4h0M132.6 448.5h0M131.6 444.4h0M136.3 445.7h0M130.5 441.7h0M129.7 446.0h0M135.4 444.4h0M131.0 445.7h0M137.8 448.9h0M135.4 445.3h0M133.7 444.3h0M135.6 447.0h0M129.7 445.5h0M132.5 445.8h0M131.3 449.2h0M133.4 449.2h0M131.5 448.4h0M130.9 448.3h0M137.6 445.7h0M129.7 448.2h0M135.0 449.1h0M130.5 449.2h0M130.5 447.3h0M129.6 447.3h0M136.4 446.1h0M129.9 446.2h0M133.6 448.6h0M131.2 448.2h0M138.3 447.4h0M132.2 448.6h0M131.9 446.0h0M132.7 446.1h0M131.7 448.3h0M135.1 448.1h0M131.9 448.6h0M135.2 446.1h0M131.5 447.1h0M133.7 449.3h0M130.2 444.4h0M169.2 440.0h0M151.7 440.5h0M142.8 435.4h0M147.0 446.4h0M133.5 441.6h0M145.0 434.6h0M135.7 440.0h0M132.2 439.6h0M132.4 438.4h0M137.2 444.8h0M135.3 445.7h0M138.0 436.5h0M144.9 437.8h0M134.3 449.1h0M148.1 441.3h0M147.8 444.7h0M156.0 438.0h0M162.4 447.8h0M145.7 443.2h0M167.4 445.0h0M135.9 448.2h0M162.1 437.9h0M131.4 440.9h0M134.5 442.0h0M164.2 449.1h0M134.8 437.8h0M145.6 440.5h0M170.1 447.6h0M142.9 445.6h0M130.6 439.7h0M143.1 444.6h0M148.5 448.4h0M137.6 444.6h0M136.3 431.8h0M140.1 438.1h0M167.5 441.9h0M133.1 439.9h0M147.9 437.3h0M130.0 438.2h0M139.3 441.4h0M130.5 422.0h0M139.8 435.1h0M130.2 425.7h0M136.4 421.7h0M152.2 432.6h0M141.9 425.7h0M128.2 431.4h0M138.8 435.4h0M146.1 422.3h0M145.6 437.0h0M130.2 435.2h0M143.4 434.9h0M146.3 439.4h0M128.2 435.9h0M154.5 368.0h0M163.5 388.5h0M143.7 406.9h0M155.1 411.0h0M142.5 410.0h0M193.1 439.5h0M196.4 441.9h0M171.0 429.5h0M175.0 430.5h0M167.5 433.5h0M151.0 418.0h0M160.0 426.0h0M149.0 425.5h0M185.0 442.0h0M188.5 446.0h0M178.0 445.0h0M156.0 415.5h0M143.0 423.0h0M147.5 421.0h0M138.0 424.5h0M161.0 437.0h0" stroke="#4b67b8" stroke-width="1.0" stroke-linecap="square" fill="none"/>
<path d="M66.0 694.9L72.0 692.5L78.0 688.2L84.0 685.4L95.0 684.4L106.0 684.7L111.0 686.0L113.5 689.5L115.0 692.4L117.0 693.3L125.4 693.3L127.5 692.4L129.0 689.5L131.5 686.0L137.0 684.7L148.0 684.4L158.0 685.4L164.0 688.2L168.0 692.2L172.0 694.9Z" fill="#cdcdcd"/>
<path d="M74.8 692.2h0M67.5 689.8h0M74.7 694.7h0M74.7 689.5h0M61.8 689.4h0M64.0 692.6h0M68.4 689.0h0M73.3 694.6h0M60.5 689.4h0M64.1 691.3h0M71.4 691.3h0M65.6 691.7h0M74.6 691.2h0M71.4 691.8h0M73.7 690.4h0M73.9 691.6h0M69.4 691.9h0M63.3 693.5h0M71.2 693.0h0M62.5 691.9h0M62.5 690.8h0M73.9 693.3h0M73.3 692.0h0M71.1 690.1h0M64.8 693.8h0M71.3 690.2h0M72.4 690.4h0M73.2 694.3h0M63.8 691.1h0M62.8 694.6h0M170.9 689.6h0M167.9 694.7h0M174.8 690.7h0M181.5 694.9h0M165.5 692.2h0M184.0 694.4h0M176.3 692.3h0M172.3 691.6h0M174.8 690.1h0M170.5 691.0h0M178.4 692.4h0M178.8 694.0h0M167.2 693.1h0M169.7 694.5h0M173.8 689.3h0M173.2 691.9h0M182.0 690.0h0M170.7 691.4h0M175.5 693.9h0M169.7 690.6h0M171.4 690.1h0M177.6 691.6h0M172.8 690.1h0M182.8 689.0h0M177.1 691.3h0M171.1 694.2h0M172.1 689.4h0M184.1 693.9h0M172.5 693.3h0M169.8 690.3h0M56.4 693.9h0M57.4 692.8h0M49.1 692.6h0M48.1 693.3h0M40.3 692.9h0M42.8 693.9h0M52.6 692.8h0M57.3 692.5h0M202.9 694.8h0M206.1 694.6h0M202.5 694.7h0M211.2 692.4h0M210.9 693.4h0M198.3 694.5h0M199.2 694.3h0M205.1 692.6h0M195.6 693.4h0M205.7 694.3h0M96.7 684.5h0M97.8 683.8h0M89.8 682.6h0M88.2 685.0h0M96.8 685.0h0M91.6 684.7h0M100.6 683.2h0M85.7 682.9h0M100.0 684.6h0M82.0 683.8h0M100.3 684.2h0M96.1 682.9h0M88.1 685.1h0M88.0 685.1h0M94.2 682.8h0M100.2 683.9h0M110.6 685.4h0M100.9 683.9h0M105.8 683.9h0M97.9 685.7h0M106.3 685.7h0M101.2 684.8h0M105.3 682.9h0M86.9 684.2h0M102.6 685.4h0M81.5 683.3h0M77.3 683.4h0M91.9 684.2h0M89.0 684.5h0M79.2 684.2h0M100.0 684.1h0M111.3 685.2h0M78.2 684.6h0M104.1 682.7h0M82.1 685.5h0M93.5 682.8h0M91.0 683.2h0M98.4 682.9h0M94.4 684.7h0M108.9 685.2h0M154.5 683.3h0M134.8 685.9h0M162.9 682.7h0M155.6 683.0h0M140.5 684.8h0M132.9 685.2h0M130.1 683.8h0M130.5 685.3h0M142.2 685.4h0M156.6 685.6h0M161.4 684.0h0M138.6 683.0h0M157.5 685.9h0M158.3 685.3h0M148.8 685.7h0M133.3 685.3h0M138.5 683.3h0M160.8 682.6h0M159.8 685.2h0M153.5 684.8h0M139.5 683.3h0M147.5 682.5h0M152.1 683.0h0M141.8 684.9h0M162.8 682.9h0M153.2 684.7h0M133.0 685.7h0M160.2 684.5h0M148.7 685.2h0M162.8 683.3h0M145.1 685.7h0M134.4 684.9h0M131.5 684.8h0M146.6 685.6h0M135.3 685.7h0M151.0 682.7h0M136.3 683.0h0M140.5 685.4h0M151.5 683.9h0M153.9 682.5h0" stroke="#c6c6c6" stroke-width="1.0" stroke-linecap="square" fill="none"/>
<path d="M91.2 681.2h0M103.3 682.8h0M93.4 680.0h0M91.8 683.0h0M98.1 680.5h0M107.0 682.2h0M94.1 681.8h0M95.0 684.0h0M96.8 685.1h0M94.9 683.7h0M90.5 681.8h0M88.2 682.4h0M103.6 679.5h0M107.8 677.6h0M102.8 682.6h0M105.6 680.3h0M86.1 682.8h0M104.2 681.7h0M97.0 680.0h0M96.3 684.5h0M100.6 676.9h0M104.0 682.0h0M99.7 679.5h0M107.3 678.4h0M95.5 680.5h0M97.6 679.3h0M104.4 677.3h0M104.7 679.1h0M103.8 678.1h0M102.7 683.2h0M95.0 683.9h0M108.4 679.1h0M94.5 674.1h0M103.9 684.9h0M95.2 679.9h0M106.0 677.1h0M86.7 682.7h0M102.2 682.4h0M104.0 679.5h0M107.6 683.3h0M107.5 680.9h0M96.2 676.6h0M104.8 681.9h0M96.0 682.5h0M103.9 683.8h0M103.8 680.7h0M92.6 683.9h0M92.6 685.0h0M100.3 681.3h0M86.8 678.3h0M99.4 681.7h0M105.8 677.0h0M88.9 677.3h0M104.0 678.4h0M101.2 677.0h0M87.8 666.8h0M81.5 665.9h0M71.4 669.6h0M82.7 667.6h0M93.1 672.8h0M87.5 666.6h0M85.6 667.4h0M73.4 664.0h0M97.5 670.6h0M97.1 670.2h0M94.5 665.1h0M91.2 663.1h0M80.8 674.3h0M71.6 664.4h0M58.8 578.5h0M66.2 594.2h0M82.3 605.0h0M77.2 635.8h0M52.0 642.5h0M64.8 647.5h0M92.3 646.9h0M59.8 663.0h0M77.9 657.6h0M79.6 658.0h0M94.7 657.6h0M100.1 667.0h0M91.3 666.3h0M48.7 671.4h0M53.7 673.7h0M40.3 677.1h0M43.0 680.4h0M67.2 672.7h0M70.5 681.4h0M74.5 683.1h0M81.6 673.7h0M85.6 675.4h0M90.0 673.7h0M97.4 677.1h0M100.7 675.4h0M104.1 680.4h0M107.5 682.1h0M61.0 655.0h0M86.5 661.0h0M89.0 667.5h0" stroke="#d62d2d" stroke-width="1.0" stroke-linecap="square" fill="none"/>
<path d="M153.6 676.4h0M144.4 684.7h0M136.6 684.4h0M135.2 680.6h0M137.1 677.5h0M139.1 685.1h0M136.7 681.4h0M137.8 675.5h0M139.9 684.9h0M148.7 677.4h0M140.3 679.4h0M150.0 680.1h0M135.4 679.1h0M140.0 682.7h0M146.2 684.5h0M134.3 684.3h0M151.9 680.6h0M138.5 684.0h0M139.9 683.4h0M151.6 683.8h0M140.6 678.7h0M134.3 675.2h0M151.5 681.3h0M134.1 684.3h0M135.5 683.1h0M138.8 683.6h0M151.3 680.4h0M139.5 683.8h0M133.7 681.4h0M147.3 682.0h0M136.1 682.3h0M149.9 683.1h0M139.2 681.2h0M134.8 685.2h0M142.4 680.0h0M139.9 679.5h0M149.0 673.7h0M146.8 683.9h0M144.7 676.1h0M143.8 680.7h0M155.0 683.0h0M140.0 682.3h0M153.4 684.1h0M145.1 683.0h0M143.7 684.6h0M144.2 681.6h0M147.5 680.6h0M140.0 685.2h0M136.9 682.6h0M138.2 680.8h0M164.8 662.6h0M170.8 663.7h0M166.4 667.2h0M177.3 665.4h0M148.4 666.7h0M169.2 672.2h0M147.8 674.7h0M169.2 669.3h0M156.7 674.2h0M166.6 662.5h0M157.6 675.1h0M163.0 673.9h0M177.9 674.7h0M156.2 662.6h0M140.2 675.5h0M157.7 667.0h0M168.6 627.4h0M184.0 642.5h0M156.1 653.6h0M157.8 657.0h0M167.2 657.6h0M183.0 663.7h0M197.1 671.0h0M138.7 666.3h0M146.0 667.0h0M150.5 674.0h0M178.0 673.7h0M179.6 682.1h0M181.5 681.0h0M155.0 661.0h0M162.0 670.0h0M172.0 667.5h0M148.0 660.5h0M188.0 675.0h0M176.0 684.0h0" stroke="#4b67b8" stroke-width="1.0" stroke-linecap="square" fill="none"/>
<text x="217.20" y="311.00" font-size="13.2" stroke="#231f20" stroke-width="0.5" font-weight="bold">g</text>
<text x="366.50" y="311.60" font-size="13.2" stroke="#231f20" stroke-width="0.5" font-weight="bold">h</text>
<text x="527.00" y="578.40" font-size="13.2" stroke="#231f20" stroke-width="0.5" font-weight="bold">i</text>
<g shape-rendering="crispEdges"><rect x="538.90" y="115.70" width="4.62" height="8.66" fill="#2e5d97"/><rect x="543.22" y="115.70" width="4.62" height="8.66" fill="#305f99"/><rect x="547.55" y="115.70" width="4.62" height="8.66" fill="#32629b"/><rect x="551.87" y="115.70" width="4.62" height="8.66" fill="#f3c6c7"/><rect x="556.19" y="115.70" width="4.62" height="8.66" fill="#f0b2b4"/><rect x="560.52" y="115.70" width="4.62" height="8.66" fill="#eba1a4"/><rect x="564.84" y="115.70" width="4.62" height="8.66" fill="#f7e0e1"/><rect x="569.16" y="115.70" width="4.62" height="8.66" fill="#f8e7e7"/><rect x="573.48" y="115.70" width="4.62" height="8.66" fill="#f6dada"/><rect x="577.81" y="115.70" width="4.62" height="8.66" fill="#f4ccce"/><rect x="582.13" y="115.70" width="4.62" height="8.66" fill="#f8e7e7"/><rect x="586.45" y="115.70" width="4.62" height="8.66" fill="#f0b2b4"/><rect x="590.78" y="115.70" width="4.62" height="8.66" fill="#f0b2b4"/><rect x="538.90" y="124.06" width="4.62" height="8.66" fill="#2e5d97"/><rect x="543.22" y="124.06" width="4.62" height="8.66" fill="#305f99"/><rect x="547.55" y="124.06" width="4.62" height="8.66" fill="#32629b"/><rect x="551.87" y="124.06" width="4.62" height="8.66" fill="#e27e83"/><rect x="556.19" y="124.06" width="4.62" height="8.66" fill="#f5d3d4"/><rect x="560.52" y="124.06" width="4.62" height="8.66" fill="#d95c62"/><rect x="564.84" y="124.06" width="4.62" height="8.66" fill="#f4ccce"/><rect x="569.16" y="124.06" width="4.62" height="8.66" fill="#faf4f4"/><rect x="573.48" y="124.06" width="4.62" height="8.66" fill="#f6dada"/><rect x="577.81" y="124.06" width="4.62" height="8.66" fill="#dde1eb"/><rect x="582.13" y="124.06" width="4.62" height="8.66" fill="#f2bfc1"/><rect x="586.45" y="124.06" width="4.62" height="8.66" fill="#f8e7e7"/><rect x="590.78" y="124.06" width="4.62" height="8.66" fill="#f6dada"/><rect x="538.90" y="132.42" width="4.62" height="8.66" fill="#2e5d97"/><rect x="543.22" y="132.42" width="4.62" height="8.66" fill="#305f99"/><rect x="547.55" y="132.42" width="4.62" height="8.66" fill="#32629b"/><rect x="551.87" y="132.42" width="4.62" height="8.66" fill="#eba1a4"/><rect x="556.19" y="132.42" width="4.62" height="8.66" fill="#f0b2b4"/><rect x="560.52" y="132.42" width="4.62" height="8.66" fill="#f5d3d4"/><rect x="564.84" y="132.42" width="4.62" height="8.66" fill="#e79093"/><rect x="569.16" y="132.42" width="4.62" height="8.66" fill="#f2bfc1"/><rect x="573.48" y="132.42" width="4.62" height="8.66" fill="#f2bfc1"/><rect x="577.81" y="132.42" width="4.62" height="8.66" fill="#f2bfc1"/><rect x="582.13" y="132.42" width="4.62" height="8.66" fill="#c7d3e5"/><rect x="586.45" y="132.42" width="4.62" height="8.66" fill="#f8e7e7"/><rect x="590.78" y="132.42" width="4.62" height="8.66" fill="#f7e0e1"/><rect x="538.90" y="140.79" width="4.62" height="8.66" fill="#2e5d97"/><rect x="543.22" y="140.79" width="4.62" height="8.66" fill="#305f99"/><rect x="547.55" y="140.79" width="4.62" height="8.66" fill="#4d79ab"/><rect x="551.87" y="140.79" width="4.62" height="8.66" fill="#d6dce9"/><rect x="556.19" y="140.79" width="4.62" height="8.66" fill="#e79093"/><rect x="560.52" y="140.79" width="4.62" height="8.66" fill="#f9edee"/><rect x="564.84" y="140.79" width="4.62" height="8.66" fill="#f2bfc1"/><rect x="569.16" y="140.79" width="4.62" height="8.66" fill="#f2bfc1"/><rect x="573.48" y="140.79" width="4.62" height="8.66" fill="#c0383f"/><rect x="577.81" y="140.79" width="4.62" height="8.66" fill="#ebebf0"/><rect x="582.13" y="140.79" width="4.62" height="8.66" fill="#f8e7e7"/><rect x="586.45" y="140.79" width="4.62" height="8.66" fill="#e4e6ed"/><rect x="590.78" y="140.79" width="4.62" height="8.66" fill="#f4ccce"/><rect x="538.90" y="149.15" width="4.62" height="8.66" fill="#cf4c53"/><rect x="543.22" y="149.15" width="4.62" height="8.66" fill="#d4535a"/><rect x="547.55" y="149.15" width="4.62" height="8.66" fill="#ad2329"/><rect x="551.87" y="149.15" width="4.62" height="8.66" fill="#9fb8d5"/><rect x="556.19" y="149.15" width="4.62" height="8.66" fill="#c3d0e3"/><rect x="560.52" y="149.15" width="4.62" height="8.66" fill="#bfcee2"/><rect x="564.84" y="149.15" width="4.62" height="8.66" fill="#b3c6df"/><rect x="569.16" y="149.15" width="4.62" height="8.66" fill="#faf2f2"/><rect x="573.48" y="149.15" width="4.62" height="8.66" fill="#ced8e7"/><rect x="577.81" y="149.15" width="4.62" height="8.66" fill="#5d86b3"/><rect x="582.13" y="149.15" width="4.62" height="8.66" fill="#658cb8"/><rect x="586.45" y="149.15" width="4.62" height="8.66" fill="#ccd7e6"/><rect x="590.78" y="149.15" width="4.62" height="8.66" fill="#a3bbd7"/><rect x="538.90" y="157.51" width="4.62" height="8.66" fill="#d14f56"/><rect x="543.22" y="157.51" width="4.62" height="8.66" fill="#c9424a"/><rect x="547.55" y="157.51" width="4.62" height="8.66" fill="#af252b"/><rect x="551.87" y="157.51" width="4.62" height="8.66" fill="#6f93bc"/><rect x="556.19" y="157.51" width="4.62" height="8.66" fill="#a8bed9"/><rect x="560.52" y="157.51" width="4.62" height="8.66" fill="#95b0d0"/><rect x="564.84" y="157.51" width="4.62" height="8.66" fill="#faf2f2"/><rect x="569.16" y="157.51" width="4.62" height="8.66" fill="#d3dbe8"/><rect x="573.48" y="157.51" width="4.62" height="8.66" fill="#aec3dd"/><rect x="577.81" y="157.51" width="4.62" height="8.66" fill="#c0cfe3"/><rect x="582.13" y="157.51" width="4.62" height="8.66" fill="#aabfda"/><rect x="586.45" y="157.51" width="4.62" height="8.66" fill="#f6dbdc"/><rect x="590.78" y="157.51" width="4.62" height="8.66" fill="#c9d4e5"/><rect x="538.90" y="165.87" width="4.62" height="8.66" fill="#cf4c53"/><rect x="543.22" y="165.87" width="4.62" height="8.66" fill="#e9979a"/><rect x="547.55" y="165.87" width="4.62" height="8.66" fill="#c53d45"/><rect x="551.87" y="165.87" width="4.62" height="8.66" fill="#b5c8df"/><rect x="556.19" y="165.87" width="4.62" height="8.66" fill="#b4c7df"/><rect x="560.52" y="165.87" width="4.62" height="8.66" fill="#c3d1e3"/><rect x="564.84" y="165.87" width="4.62" height="8.66" fill="#a9bfda"/><rect x="569.16" y="165.87" width="4.62" height="8.66" fill="#b6c8df"/><rect x="573.48" y="165.87" width="4.62" height="8.66" fill="#b4c7df"/><rect x="577.81" y="165.87" width="4.62" height="8.66" fill="#b3c7df"/><rect x="582.13" y="165.87" width="4.62" height="8.66" fill="#ced8e7"/><rect x="586.45" y="165.87" width="4.62" height="8.66" fill="#aac0da"/><rect x="590.78" y="165.87" width="4.62" height="8.66" fill="#afc4dd"/><rect x="538.90" y="174.23" width="4.62" height="8.66" fill="#ca434b"/><rect x="543.22" y="174.23" width="4.62" height="8.66" fill="#f1b8ba"/><rect x="547.55" y="174.23" width="4.62" height="8.66" fill="#ad2329"/><rect x="551.87" y="174.23" width="4.62" height="8.66" fill="#c4d1e4"/><rect x="556.19" y="174.23" width="4.62" height="8.66" fill="#acc1db"/><rect x="560.52" y="174.23" width="4.62" height="8.66" fill="#ebeaef"/><rect x="564.84" y="174.23" width="4.62" height="8.66" fill="#f5d4d5"/><rect x="569.16" y="174.23" width="4.62" height="8.66" fill="#bfcee2"/><rect x="573.48" y="174.23" width="4.62" height="8.66" fill="#e1e4ec"/><rect x="577.81" y="174.23" width="4.62" height="8.66" fill="#ced7e7"/><rect x="582.13" y="174.23" width="4.62" height="8.66" fill="#dee2ec"/><rect x="586.45" y="174.23" width="4.62" height="8.66" fill="#aec3dd"/><rect x="590.78" y="174.23" width="4.62" height="8.66" fill="#5f87b4"/><rect x="538.90" y="182.60" width="4.62" height="8.66" fill="#d4545a"/><rect x="543.22" y="182.60" width="4.62" height="8.66" fill="#efadaf"/><rect x="547.55" y="182.60" width="4.62" height="8.66" fill="#b72e35"/><rect x="551.87" y="182.60" width="4.62" height="8.66" fill="#ccd6e6"/><rect x="556.19" y="182.60" width="4.62" height="8.66" fill="#cdd7e6"/><rect x="560.52" y="182.60" width="4.62" height="8.66" fill="#5a84b2"/><rect x="564.84" y="182.60" width="4.62" height="8.66" fill="#b6c8e0"/><rect x="569.16" y="182.60" width="4.62" height="8.66" fill="#dee2eb"/><rect x="573.48" y="182.60" width="4.62" height="8.66" fill="#c1cfe3"/><rect x="577.81" y="182.60" width="4.62" height="8.66" fill="#d7dde9"/><rect x="582.13" y="182.60" width="4.62" height="8.66" fill="#cad5e6"/><rect x="586.45" y="182.60" width="4.62" height="8.66" fill="#cbd5e6"/><rect x="590.78" y="182.60" width="4.62" height="8.66" fill="#85a4c8"/><rect x="538.90" y="190.96" width="4.62" height="8.66" fill="#cf4c54"/><rect x="543.22" y="190.96" width="4.62" height="8.66" fill="#cc474f"/><rect x="547.55" y="190.96" width="4.62" height="8.66" fill="#b72e35"/><rect x="551.87" y="190.96" width="4.62" height="8.66" fill="#acc1db"/><rect x="556.19" y="190.96" width="4.62" height="8.66" fill="#acc1db"/><rect x="560.52" y="190.96" width="4.62" height="8.66" fill="#edebf0"/><rect x="564.84" y="190.96" width="4.62" height="8.66" fill="#bbcbe1"/><rect x="569.16" y="190.96" width="4.62" height="8.66" fill="#8faccd"/><rect x="573.48" y="190.96" width="4.62" height="8.66" fill="#6a90ba"/><rect x="577.81" y="190.96" width="4.62" height="8.66" fill="#c1cfe3"/><rect x="582.13" y="190.96" width="4.62" height="8.66" fill="#e1e4ec"/><rect x="586.45" y="190.96" width="4.62" height="8.66" fill="#d0d9e7"/><rect x="590.78" y="190.96" width="4.62" height="8.66" fill="#becde2"/><rect x="538.90" y="199.32" width="4.62" height="8.66" fill="#cc474f"/><rect x="543.22" y="199.32" width="4.62" height="8.66" fill="#e68e91"/><rect x="547.55" y="199.32" width="4.62" height="8.66" fill="#bf373e"/><rect x="551.87" y="199.32" width="4.62" height="8.66" fill="#b5c7df"/><rect x="556.19" y="199.32" width="4.62" height="8.66" fill="#afc4dd"/><rect x="560.52" y="199.32" width="4.62" height="8.66" fill="#a4bbd7"/><rect x="564.84" y="199.32" width="4.62" height="8.66" fill="#d1dae8"/><rect x="569.16" y="199.32" width="4.62" height="8.66" fill="#d2dae8"/><rect x="573.48" y="199.32" width="4.62" height="8.66" fill="#9cb5d3"/><rect x="577.81" y="199.32" width="4.62" height="8.66" fill="#bacbe1"/><rect x="582.13" y="199.32" width="4.62" height="8.66" fill="#cdd7e6"/><rect x="586.45" y="199.32" width="4.62" height="8.66" fill="#e0e3ec"/><rect x="590.78" y="199.32" width="4.62" height="8.66" fill="#f7dfdf"/><rect x="538.90" y="207.68" width="4.62" height="8.66" fill="#cd4951"/><rect x="543.22" y="207.68" width="4.62" height="8.66" fill="#e89497"/><rect x="547.55" y="207.68" width="4.62" height="8.66" fill="#c84149"/><rect x="551.87" y="207.68" width="4.62" height="8.66" fill="#7195be"/><rect x="556.19" y="207.68" width="4.62" height="8.66" fill="#f7e2e2"/><rect x="560.52" y="207.68" width="4.62" height="8.66" fill="#9bb5d3"/><rect x="564.84" y="207.68" width="4.62" height="8.66" fill="#c8d4e5"/><rect x="569.16" y="207.68" width="4.62" height="8.66" fill="#f8e8e8"/><rect x="573.48" y="207.68" width="4.62" height="8.66" fill="#d6dde9"/><rect x="577.81" y="207.68" width="4.62" height="8.66" fill="#bacbe1"/><rect x="582.13" y="207.68" width="4.62" height="8.66" fill="#d2dae8"/><rect x="586.45" y="207.68" width="4.62" height="8.66" fill="#99b3d2"/><rect x="590.78" y="207.68" width="4.62" height="8.66" fill="#d6dde9"/><rect x="538.90" y="216.04" width="4.62" height="8.66" fill="#d35259"/><rect x="543.22" y="216.04" width="4.62" height="8.66" fill="#eb9ea0"/><rect x="547.55" y="216.04" width="4.62" height="8.66" fill="#ad2329"/><rect x="551.87" y="216.04" width="4.62" height="8.66" fill="#a6bdd8"/><rect x="556.19" y="216.04" width="4.62" height="8.66" fill="#d2dae8"/><rect x="560.52" y="216.04" width="4.62" height="8.66" fill="#b3c7df"/><rect x="564.84" y="216.04" width="4.62" height="8.66" fill="#b0c4dd"/><rect x="569.16" y="216.04" width="4.62" height="8.66" fill="#c8d4e5"/><rect x="573.48" y="216.04" width="4.62" height="8.66" fill="#edecf0"/><rect x="577.81" y="216.04" width="4.62" height="8.66" fill="#a5bcd8"/><rect x="582.13" y="216.04" width="4.62" height="8.66" fill="#ebeaef"/><rect x="586.45" y="216.04" width="4.62" height="8.66" fill="#f6dbdb"/><rect x="590.78" y="216.04" width="4.62" height="8.66" fill="#b0c4de"/><rect x="538.90" y="224.41" width="4.62" height="8.66" fill="#d35158"/><rect x="543.22" y="224.41" width="4.62" height="8.66" fill="#d95c62"/><rect x="547.55" y="224.41" width="4.62" height="8.66" fill="#b0262d"/><rect x="551.87" y="224.41" width="4.62" height="8.66" fill="#c5d2e4"/><rect x="556.19" y="224.41" width="4.62" height="8.66" fill="#c7d3e5"/><rect x="560.52" y="224.41" width="4.62" height="8.66" fill="#d6dde9"/><rect x="564.84" y="224.41" width="4.62" height="8.66" fill="#b4c7df"/><rect x="569.16" y="224.41" width="4.62" height="8.66" fill="#b3c6df"/><rect x="573.48" y="224.41" width="4.62" height="8.66" fill="#e1e4ed"/><rect x="577.81" y="224.41" width="4.62" height="8.66" fill="#b4c7df"/><rect x="582.13" y="224.41" width="4.62" height="8.66" fill="#d2dae8"/><rect x="586.45" y="224.41" width="4.62" height="8.66" fill="#d9deea"/><rect x="590.78" y="224.41" width="4.62" height="8.66" fill="#b7c9e0"/><rect x="538.90" y="232.77" width="4.62" height="8.66" fill="#cd4850"/><rect x="543.22" y="232.77" width="4.62" height="8.66" fill="#df7479"/><rect x="547.55" y="232.77" width="4.62" height="8.66" fill="#ac2228"/><rect x="551.87" y="232.77" width="4.62" height="8.66" fill="#a4bbd7"/><rect x="556.19" y="232.77" width="4.62" height="8.66" fill="#bacbe1"/><rect x="560.52" y="232.77" width="4.62" height="8.66" fill="#d7deea"/><rect x="564.84" y="232.77" width="4.62" height="8.66" fill="#c8d4e5"/><rect x="569.16" y="232.77" width="4.62" height="8.66" fill="#b1c5de"/><rect x="573.48" y="232.77" width="4.62" height="8.66" fill="#bfcee2"/><rect x="577.81" y="232.77" width="4.62" height="8.66" fill="#b6c9e0"/><rect x="582.13" y="232.77" width="4.62" height="8.66" fill="#cbd5e6"/><rect x="586.45" y="232.77" width="4.62" height="8.66" fill="#ccd6e6"/><rect x="590.78" y="232.77" width="4.62" height="8.66" fill="#bfcee2"/><rect x="538.90" y="241.13" width="4.62" height="8.66" fill="#cd4850"/><rect x="543.22" y="241.13" width="4.62" height="8.66" fill="#de6e73"/><rect x="547.55" y="241.13" width="4.62" height="8.66" fill="#b2282f"/><rect x="551.87" y="241.13" width="4.62" height="8.66" fill="#d1d9e8"/><rect x="556.19" y="241.13" width="4.62" height="8.66" fill="#d0d9e7"/><rect x="560.52" y="241.13" width="4.62" height="8.66" fill="#abc0db"/><rect x="564.84" y="241.13" width="4.62" height="8.66" fill="#ced7e7"/><rect x="569.16" y="241.13" width="4.62" height="8.66" fill="#a9bfda"/><rect x="573.48" y="241.13" width="4.62" height="8.66" fill="#a5bcd8"/><rect x="577.81" y="241.13" width="4.62" height="8.66" fill="#bacbe1"/><rect x="582.13" y="241.13" width="4.62" height="8.66" fill="#8eabcc"/><rect x="586.45" y="241.13" width="4.62" height="8.66" fill="#cdd7e7"/><rect x="590.78" y="241.13" width="4.62" height="8.66" fill="#f7e1e2"/><rect x="538.90" y="249.49" width="4.62" height="8.66" fill="#d15057"/><rect x="543.22" y="249.49" width="4.62" height="8.66" fill="#de6e73"/><rect x="547.55" y="249.49" width="4.62" height="8.66" fill="#af252b"/><rect x="551.87" y="249.49" width="4.62" height="8.66" fill="#95b0d0"/><rect x="556.19" y="249.49" width="4.62" height="8.66" fill="#faf3f3"/><rect x="560.52" y="249.49" width="4.62" height="8.66" fill="#a6bdd9"/><rect x="564.84" y="249.49" width="4.62" height="8.66" fill="#89a7ca"/><rect x="569.16" y="249.49" width="4.62" height="8.66" fill="#96b1d0"/><rect x="573.48" y="249.49" width="4.62" height="8.66" fill="#f8e5e5"/><rect x="577.81" y="249.49" width="4.62" height="8.66" fill="#9cb5d3"/><rect x="582.13" y="249.49" width="4.62" height="8.66" fill="#bacbe1"/><rect x="586.45" y="249.49" width="4.62" height="8.66" fill="#f2eff2"/><rect x="590.78" y="249.49" width="4.62" height="8.66" fill="#b9cae1"/><rect x="538.90" y="257.85" width="4.62" height="8.66" fill="#cb454d"/><rect x="543.22" y="257.85" width="4.62" height="8.66" fill="#d95d62"/><rect x="547.55" y="257.85" width="4.62" height="8.66" fill="#ba3239"/><rect x="551.87" y="257.85" width="4.62" height="8.66" fill="#f7dfdf"/><rect x="556.19" y="257.85" width="4.62" height="8.66" fill="#bacbe1"/><rect x="560.52" y="257.85" width="4.62" height="8.66" fill="#95b0d0"/><rect x="564.84" y="257.85" width="4.62" height="8.66" fill="#c8d4e5"/><rect x="569.16" y="257.85" width="4.62" height="8.66" fill="#eeecf0"/><rect x="573.48" y="257.85" width="4.62" height="8.66" fill="#c1d0e3"/><rect x="577.81" y="257.85" width="4.62" height="8.66" fill="#a1b9d6"/><rect x="582.13" y="257.85" width="4.62" height="8.66" fill="#cfd8e7"/><rect x="586.45" y="257.85" width="4.62" height="8.66" fill="#dde2eb"/><rect x="590.78" y="257.85" width="4.62" height="8.66" fill="#a7bed9"/><rect x="538.90" y="266.22" width="4.62" height="8.66" fill="#c9434b"/><rect x="543.22" y="266.22" width="4.62" height="8.66" fill="#d04e55"/><rect x="547.55" y="266.22" width="4.62" height="8.66" fill="#b1272d"/><rect x="551.87" y="266.22" width="4.62" height="8.66" fill="#bfcee2"/><rect x="556.19" y="266.22" width="4.62" height="8.66" fill="#a3bbd7"/><rect x="560.52" y="266.22" width="4.62" height="8.66" fill="#d3dbe8"/><rect x="564.84" y="266.22" width="4.62" height="8.66" fill="#becde2"/><rect x="569.16" y="266.22" width="4.62" height="8.66" fill="#b2c6de"/><rect x="573.48" y="266.22" width="4.62" height="8.66" fill="#a9bfda"/><rect x="577.81" y="266.22" width="4.62" height="8.66" fill="#dee2ec"/><rect x="582.13" y="266.22" width="4.62" height="8.66" fill="#f7e2e3"/><rect x="586.45" y="266.22" width="4.62" height="8.66" fill="#faf3f3"/><rect x="590.78" y="266.22" width="4.62" height="8.66" fill="#aac0da"/><rect x="538.90" y="274.58" width="4.62" height="8.66" fill="#d25057"/><rect x="543.22" y="274.58" width="4.62" height="8.66" fill="#cb464d"/><rect x="547.55" y="274.58" width="4.62" height="8.66" fill="#b82f35"/><rect x="551.87" y="274.58" width="4.62" height="8.66" fill="#799bc2"/><rect x="556.19" y="274.58" width="4.62" height="8.66" fill="#bacbe1"/><rect x="560.52" y="274.58" width="4.62" height="8.66" fill="#f5d6d7"/><rect x="564.84" y="274.58" width="4.62" height="8.66" fill="#cbd6e6"/><rect x="569.16" y="274.58" width="4.62" height="8.66" fill="#f5d5d6"/><rect x="573.48" y="274.58" width="4.62" height="8.66" fill="#d5dce9"/><rect x="577.81" y="274.58" width="4.62" height="8.66" fill="#aabfda"/><rect x="582.13" y="274.58" width="4.62" height="8.66" fill="#b0c4dd"/><rect x="586.45" y="274.58" width="4.62" height="8.66" fill="#faf4f4"/><rect x="590.78" y="274.58" width="4.62" height="8.66" fill="#a9bfda"/><rect x="538.90" y="282.94" width="4.62" height="8.66" fill="#c9424a"/><rect x="543.22" y="282.94" width="4.62" height="8.66" fill="#cf4c53"/><rect x="547.55" y="282.94" width="4.62" height="8.66" fill="#c74048"/><rect x="551.87" y="282.94" width="4.62" height="8.66" fill="#f5f1f2"/><rect x="556.19" y="282.94" width="4.62" height="8.66" fill="#b9cae0"/><rect x="560.52" y="282.94" width="4.62" height="8.66" fill="#ced8e7"/><rect x="564.84" y="282.94" width="4.62" height="8.66" fill="#bacbe1"/><rect x="569.16" y="282.94" width="4.62" height="8.66" fill="#e7e8ee"/><rect x="573.48" y="282.94" width="4.62" height="8.66" fill="#b7c9e0"/><rect x="577.81" y="282.94" width="4.62" height="8.66" fill="#bfcee2"/><rect x="582.13" y="282.94" width="4.62" height="8.66" fill="#c4d1e4"/><rect x="586.45" y="282.94" width="4.62" height="8.66" fill="#aac0db"/><rect x="590.78" y="282.94" width="4.62" height="8.66" fill="#c2d0e3"/><rect x="538.90" y="291.30" width="4.62" height="8.66" fill="#c74048"/><rect x="543.22" y="291.30" width="4.62" height="8.66" fill="#ca444c"/><rect x="547.55" y="291.30" width="4.62" height="8.66" fill="#b2282f"/><rect x="551.87" y="291.30" width="4.62" height="8.66" fill="#becde2"/><rect x="556.19" y="291.30" width="4.62" height="8.66" fill="#c8d4e5"/><rect x="560.52" y="291.30" width="4.62" height="8.66" fill="#b8c9e0"/><rect x="564.84" y="291.30" width="4.62" height="8.66" fill="#e0e3ec"/><rect x="569.16" y="291.30" width="4.62" height="8.66" fill="#c3d1e3"/><rect x="573.48" y="291.30" width="4.62" height="8.66" fill="#f5f1f3"/><rect x="577.81" y="291.30" width="4.62" height="8.66" fill="#b9cae1"/><rect x="582.13" y="291.30" width="4.62" height="8.66" fill="#d5dce9"/><rect x="586.45" y="291.30" width="4.62" height="8.66" fill="#dbe0eb"/><rect x="590.78" y="291.30" width="4.62" height="8.66" fill="#cfd8e7"/><rect x="538.90" y="299.66" width="4.62" height="8.66" fill="#d25158"/><rect x="543.22" y="299.66" width="4.62" height="8.66" fill="#d95c62"/><rect x="547.55" y="299.66" width="4.62" height="8.66" fill="#b2282e"/><rect x="551.87" y="299.66" width="4.62" height="8.66" fill="#c2d0e3"/><rect x="556.19" y="299.66" width="4.62" height="8.66" fill="#b5c7df"/><rect x="560.52" y="299.66" width="4.62" height="8.66" fill="#c2d0e3"/><rect x="564.84" y="299.66" width="4.62" height="8.66" fill="#d5dce9"/><rect x="569.16" y="299.66" width="4.62" height="8.66" fill="#d1dae8"/><rect x="573.48" y="299.66" width="4.62" height="8.66" fill="#bbcce1"/><rect x="577.81" y="299.66" width="4.62" height="8.66" fill="#b5c8df"/><rect x="582.13" y="299.66" width="4.62" height="8.66" fill="#c4d1e4"/><rect x="586.45" y="299.66" width="4.62" height="8.66" fill="#96b1d0"/><rect x="590.78" y="299.66" width="4.62" height="8.66" fill="#c0cfe3"/><rect x="538.90" y="308.03" width="4.62" height="8.66" fill="#cc474f"/><rect x="543.22" y="308.03" width="4.62" height="8.66" fill="#de6f75"/><rect x="547.55" y="308.03" width="4.62" height="8.66" fill="#bf373f"/><rect x="551.87" y="308.03" width="4.62" height="8.66" fill="#b7c9e0"/><rect x="556.19" y="308.03" width="4.62" height="8.66" fill="#96b1d0"/><rect x="560.52" y="308.03" width="4.62" height="8.66" fill="#b5c8df"/><rect x="564.84" y="308.03" width="4.62" height="8.66" fill="#c5d2e4"/><rect x="569.16" y="308.03" width="4.62" height="8.66" fill="#d2dae8"/><rect x="573.48" y="308.03" width="4.62" height="8.66" fill="#b0c4dd"/><rect x="577.81" y="308.03" width="4.62" height="8.66" fill="#eaeaef"/><rect x="582.13" y="308.03" width="4.62" height="8.66" fill="#a8bed9"/><rect x="586.45" y="308.03" width="4.62" height="8.66" fill="#a9bfda"/><rect x="590.78" y="308.03" width="4.62" height="8.66" fill="#cbd6e6"/><rect x="538.90" y="316.39" width="4.62" height="8.66" fill="#ca444c"/><rect x="543.22" y="316.39" width="4.62" height="8.66" fill="#d3535a"/><rect x="547.55" y="316.39" width="4.62" height="8.66" fill="#c33c43"/><rect x="551.87" y="316.39" width="4.62" height="8.66" fill="#f8e6e7"/><rect x="556.19" y="316.39" width="4.62" height="8.66" fill="#88a6c9"/><rect x="560.52" y="316.39" width="4.62" height="8.66" fill="#dee2ec"/><rect x="564.84" y="316.39" width="4.62" height="8.66" fill="#b6c8df"/><rect x="569.16" y="316.39" width="4.62" height="8.66" fill="#c5d2e4"/><rect x="573.48" y="316.39" width="4.62" height="8.66" fill="#c2d0e3"/><rect x="577.81" y="316.39" width="4.62" height="8.66" fill="#d5dce9"/><rect x="582.13" y="316.39" width="4.62" height="8.66" fill="#dbe0eb"/><rect x="586.45" y="316.39" width="4.62" height="8.66" fill="#92adce"/><rect x="590.78" y="316.39" width="4.62" height="8.66" fill="#b7c9e0"/><rect x="538.90" y="324.75" width="4.62" height="8.66" fill="#ce4b52"/><rect x="543.22" y="324.75" width="4.62" height="8.66" fill="#f3c6c7"/><rect x="547.55" y="324.75" width="4.62" height="8.66" fill="#b2292f"/><rect x="551.87" y="324.75" width="4.62" height="8.66" fill="#afc3dd"/><rect x="556.19" y="324.75" width="4.62" height="8.66" fill="#85a4c8"/><rect x="560.52" y="324.75" width="4.62" height="8.66" fill="#ccd6e6"/><rect x="564.84" y="324.75" width="4.62" height="8.66" fill="#8faccd"/><rect x="569.16" y="324.75" width="4.62" height="8.66" fill="#b2c6de"/><rect x="573.48" y="324.75" width="4.62" height="8.66" fill="#90accd"/><rect x="577.81" y="324.75" width="4.62" height="8.66" fill="#d3dbe8"/><rect x="582.13" y="324.75" width="4.62" height="8.66" fill="#bbcce1"/><rect x="586.45" y="324.75" width="4.62" height="8.66" fill="#c5d2e4"/><rect x="590.78" y="324.75" width="4.62" height="8.66" fill="#bbcce1"/><rect x="538.90" y="333.11" width="4.62" height="8.66" fill="#d25158"/><rect x="543.22" y="333.11" width="4.62" height="8.66" fill="#f3c6c7"/><rect x="547.55" y="333.11" width="4.62" height="8.66" fill="#bb3239"/><rect x="551.87" y="333.11" width="4.62" height="8.66" fill="#5c85b3"/><rect x="556.19" y="333.11" width="4.62" height="8.66" fill="#a1b9d6"/><rect x="560.52" y="333.11" width="4.62" height="8.66" fill="#b6c8e0"/><rect x="564.84" y="333.11" width="4.62" height="8.66" fill="#9bb5d3"/><rect x="569.16" y="333.11" width="4.62" height="8.66" fill="#becde2"/><rect x="573.48" y="333.11" width="4.62" height="8.66" fill="#a7bed9"/><rect x="577.81" y="333.11" width="4.62" height="8.66" fill="#e4e6ed"/><rect x="582.13" y="333.11" width="4.62" height="8.66" fill="#98b2d1"/><rect x="586.45" y="333.11" width="4.62" height="8.66" fill="#becde2"/><rect x="590.78" y="333.11" width="4.62" height="8.66" fill="#c4d1e4"/><rect x="538.90" y="341.47" width="4.62" height="8.66" fill="#ce4a52"/><rect x="543.22" y="341.47" width="4.62" height="8.66" fill="#f3c6c7"/><rect x="547.55" y="341.47" width="4.62" height="8.66" fill="#ac2228"/><rect x="551.87" y="341.47" width="4.62" height="8.66" fill="#658db8"/><rect x="556.19" y="341.47" width="4.62" height="8.66" fill="#aec3dc"/><rect x="560.52" y="341.47" width="4.62" height="8.66" fill="#b2c6de"/><rect x="564.84" y="341.47" width="4.62" height="8.66" fill="#b4c7df"/><rect x="569.16" y="341.47" width="4.62" height="8.66" fill="#99b3d2"/><rect x="573.48" y="341.47" width="4.62" height="8.66" fill="#b9cae1"/><rect x="577.81" y="341.47" width="4.62" height="8.66" fill="#bdcde2"/><rect x="582.13" y="341.47" width="4.62" height="8.66" fill="#bbcce1"/><rect x="586.45" y="341.47" width="4.62" height="8.66" fill="#b8cae0"/><rect x="590.78" y="341.47" width="4.62" height="8.66" fill="#e1e4ed"/><rect x="538.90" y="349.84" width="4.62" height="8.66" fill="#cd4950"/><rect x="543.22" y="349.84" width="4.62" height="8.66" fill="#cc484f"/><rect x="547.55" y="349.84" width="4.62" height="8.66" fill="#bf373f"/><rect x="551.87" y="349.84" width="4.62" height="8.66" fill="#c3d0e3"/><rect x="556.19" y="349.84" width="4.62" height="8.66" fill="#a4bbd7"/><rect x="560.52" y="349.84" width="4.62" height="8.66" fill="#9fb8d5"/><rect x="564.84" y="349.84" width="4.62" height="8.66" fill="#b5c8df"/><rect x="569.16" y="349.84" width="4.62" height="8.66" fill="#ced8e7"/><rect x="573.48" y="349.84" width="4.62" height="8.66" fill="#c6d2e4"/><rect x="577.81" y="349.84" width="4.62" height="8.66" fill="#cfd8e7"/><rect x="582.13" y="349.84" width="4.62" height="8.66" fill="#cbd6e6"/><rect x="586.45" y="349.84" width="4.62" height="8.66" fill="#d3dbe8"/><rect x="590.78" y="349.84" width="4.62" height="8.66" fill="#becee2"/><rect x="538.90" y="358.20" width="4.62" height="8.66" fill="#f4ccce"/><rect x="543.22" y="358.20" width="4.62" height="8.66" fill="#c9424a"/><rect x="547.55" y="358.20" width="4.62" height="8.66" fill="#b0262c"/><rect x="551.87" y="358.20" width="4.62" height="8.66" fill="#c5d2e4"/><rect x="556.19" y="358.20" width="4.62" height="8.66" fill="#dce1eb"/><rect x="560.52" y="358.20" width="4.62" height="8.66" fill="#b0c5de"/><rect x="564.84" y="358.20" width="4.62" height="8.66" fill="#d1d9e8"/><rect x="569.16" y="358.20" width="4.62" height="8.66" fill="#a0b8d5"/><rect x="573.48" y="358.20" width="4.62" height="8.66" fill="#eeecf0"/><rect x="577.81" y="358.20" width="4.62" height="8.66" fill="#c7d3e5"/><rect x="582.13" y="358.20" width="4.62" height="8.66" fill="#c4d1e4"/><rect x="586.45" y="358.20" width="4.62" height="8.66" fill="#95b0d0"/><rect x="590.78" y="358.20" width="4.62" height="8.66" fill="#d6dde9"/><rect x="538.90" y="366.56" width="4.62" height="8.66" fill="#f4ccce"/><rect x="543.22" y="366.56" width="4.62" height="8.66" fill="#d7595f"/><rect x="547.55" y="366.56" width="4.62" height="8.66" fill="#c73f47"/><rect x="551.87" y="366.56" width="4.62" height="8.66" fill="#d2dae8"/><rect x="556.19" y="366.56" width="4.62" height="8.66" fill="#b1c5de"/><rect x="560.52" y="366.56" width="4.62" height="8.66" fill="#f9ebeb"/><rect x="564.84" y="366.56" width="4.62" height="8.66" fill="#cad5e6"/><rect x="569.16" y="366.56" width="4.62" height="8.66" fill="#f9edee"/><rect x="573.48" y="366.56" width="4.62" height="8.66" fill="#98b3d2"/><rect x="577.81" y="366.56" width="4.62" height="8.66" fill="#cfd8e7"/><rect x="582.13" y="366.56" width="4.62" height="8.66" fill="#cbd6e6"/><rect x="586.45" y="366.56" width="4.62" height="8.66" fill="#d2dae8"/><rect x="590.78" y="366.56" width="4.62" height="8.66" fill="#dee2ec"/><rect x="538.90" y="374.92" width="4.62" height="8.66" fill="#d4545b"/><rect x="543.22" y="374.92" width="4.62" height="8.66" fill="#a81f24"/><rect x="547.55" y="374.92" width="4.62" height="8.66" fill="#d15057"/><rect x="551.87" y="374.92" width="4.62" height="8.66" fill="#94b0d0"/><rect x="556.19" y="374.92" width="4.62" height="8.66" fill="#b9cae0"/><rect x="560.52" y="374.92" width="4.62" height="8.66" fill="#c0cfe2"/><rect x="564.84" y="374.92" width="4.62" height="8.66" fill="#c6d2e4"/><rect x="569.16" y="374.92" width="4.62" height="8.66" fill="#d1d9e8"/><rect x="573.48" y="374.92" width="4.62" height="8.66" fill="#b3c6df"/><rect x="577.81" y="374.92" width="4.62" height="8.66" fill="#d5dce9"/><rect x="582.13" y="374.92" width="4.62" height="8.66" fill="#abc1db"/><rect x="586.45" y="374.92" width="4.62" height="8.66" fill="#e8e8ee"/><rect x="590.78" y="374.92" width="4.62" height="8.66" fill="#bbcbe1"/><rect x="538.90" y="383.28" width="4.62" height="8.66" fill="#c74048"/><rect x="543.22" y="383.28" width="4.62" height="8.66" fill="#ad242a"/><rect x="547.55" y="383.28" width="4.62" height="8.66" fill="#df7277"/><rect x="551.87" y="383.28" width="4.62" height="8.66" fill="#c4d1e4"/><rect x="556.19" y="383.28" width="4.62" height="8.66" fill="#5d86b3"/><rect x="560.52" y="383.28" width="4.62" height="8.66" fill="#dce1eb"/><rect x="564.84" y="383.28" width="4.62" height="8.66" fill="#b0c4dd"/><rect x="569.16" y="383.28" width="4.62" height="8.66" fill="#5d86b4"/><rect x="573.48" y="383.28" width="4.62" height="8.66" fill="#a4bbd7"/><rect x="577.81" y="383.28" width="4.62" height="8.66" fill="#afc4dd"/><rect x="582.13" y="383.28" width="4.62" height="8.66" fill="#b7c9e0"/><rect x="586.45" y="383.28" width="4.62" height="8.66" fill="#b9cae0"/><rect x="590.78" y="383.28" width="4.62" height="8.66" fill="#b8c9e0"/><rect x="538.90" y="391.65" width="4.62" height="8.66" fill="#cf4b53"/><rect x="543.22" y="391.65" width="4.62" height="8.66" fill="#ab2228"/><rect x="547.55" y="391.65" width="4.62" height="8.66" fill="#dd6c72"/><rect x="551.87" y="391.65" width="4.62" height="8.66" fill="#aec2dc"/><rect x="556.19" y="391.65" width="4.62" height="8.66" fill="#95b0d0"/><rect x="560.52" y="391.65" width="4.62" height="8.66" fill="#cbd6e6"/><rect x="564.84" y="391.65" width="4.62" height="8.66" fill="#a9bfda"/><rect x="569.16" y="391.65" width="4.62" height="8.66" fill="#a2bad7"/><rect x="573.48" y="391.65" width="4.62" height="8.66" fill="#6e93bc"/><rect x="577.81" y="391.65" width="4.62" height="8.66" fill="#b9cae0"/><rect x="582.13" y="391.65" width="4.62" height="8.66" fill="#9bb4d3"/><rect x="586.45" y="391.65" width="4.62" height="8.66" fill="#cfd8e7"/><rect x="590.78" y="391.65" width="4.62" height="8.66" fill="#6d92bb"/><rect x="538.90" y="400.01" width="4.62" height="8.66" fill="#f4ccce"/><rect x="543.22" y="400.01" width="4.62" height="8.66" fill="#ad2329"/><rect x="547.55" y="400.01" width="4.62" height="8.66" fill="#e4868a"/><rect x="551.87" y="400.01" width="4.62" height="8.66" fill="#bdcde2"/><rect x="556.19" y="400.01" width="4.62" height="8.66" fill="#c5d2e4"/><rect x="560.52" y="400.01" width="4.62" height="8.66" fill="#94afcf"/><rect x="564.84" y="400.01" width="4.62" height="8.66" fill="#d1d9e8"/><rect x="569.16" y="400.01" width="4.62" height="8.66" fill="#dee2ec"/><rect x="573.48" y="400.01" width="4.62" height="8.66" fill="#faf1f1"/><rect x="577.81" y="400.01" width="4.62" height="8.66" fill="#b6c8e0"/><rect x="582.13" y="400.01" width="4.62" height="8.66" fill="#d0d9e7"/><rect x="586.45" y="400.01" width="4.62" height="8.66" fill="#5a84b2"/><rect x="590.78" y="400.01" width="4.62" height="8.66" fill="#d5dce9"/><rect x="538.90" y="408.37" width="4.62" height="8.66" fill="#c63f47"/><rect x="543.22" y="408.37" width="4.62" height="8.66" fill="#a41c21"/><rect x="547.55" y="408.37" width="4.62" height="8.66" fill="#e27d82"/><rect x="551.87" y="408.37" width="4.62" height="8.66" fill="#c2d0e3"/><rect x="556.19" y="408.37" width="4.62" height="8.66" fill="#d0d9e7"/><rect x="560.52" y="408.37" width="4.62" height="8.66" fill="#acc1db"/><rect x="564.84" y="408.37" width="4.62" height="8.66" fill="#d2dae8"/><rect x="569.16" y="408.37" width="4.62" height="8.66" fill="#f7f2f3"/><rect x="573.48" y="408.37" width="4.62" height="8.66" fill="#b1c5de"/><rect x="577.81" y="408.37" width="4.62" height="8.66" fill="#e3e5ed"/><rect x="582.13" y="408.37" width="4.62" height="8.66" fill="#9fb7d5"/><rect x="586.45" y="408.37" width="4.62" height="8.66" fill="#b4c7df"/><rect x="590.78" y="408.37" width="4.62" height="8.66" fill="#c0cfe2"/><rect x="538.90" y="416.73" width="4.62" height="8.66" fill="#d3535a"/><rect x="543.22" y="416.73" width="4.62" height="8.66" fill="#ae242a"/><rect x="547.55" y="416.73" width="4.62" height="8.66" fill="#dc686d"/><rect x="551.87" y="416.73" width="4.62" height="8.66" fill="#c2d0e3"/><rect x="556.19" y="416.73" width="4.62" height="8.66" fill="#a5bcd8"/><rect x="560.52" y="416.73" width="4.62" height="8.66" fill="#abc1db"/><rect x="564.84" y="416.73" width="4.62" height="8.66" fill="#efedf1"/><rect x="569.16" y="416.73" width="4.62" height="8.66" fill="#d6dde9"/><rect x="573.48" y="416.73" width="4.62" height="8.66" fill="#6a90ba"/><rect x="577.81" y="416.73" width="4.62" height="8.66" fill="#bccce1"/><rect x="582.13" y="416.73" width="4.62" height="8.66" fill="#e7e8ee"/><rect x="586.45" y="416.73" width="4.62" height="8.66" fill="#b7c9e0"/><rect x="590.78" y="416.73" width="4.62" height="8.66" fill="#f8e8e9"/><rect x="538.90" y="425.09" width="4.62" height="8.66" fill="#ca444c"/><rect x="543.22" y="425.09" width="4.62" height="8.66" fill="#ac2228"/><rect x="547.55" y="425.09" width="4.62" height="8.66" fill="#d3535a"/><rect x="551.87" y="425.09" width="4.62" height="8.66" fill="#aec2dc"/><rect x="556.19" y="425.09" width="4.62" height="8.66" fill="#bdcde2"/><rect x="560.52" y="425.09" width="4.62" height="8.66" fill="#c2d0e3"/><rect x="564.84" y="425.09" width="4.62" height="8.66" fill="#9fb8d5"/><rect x="569.16" y="425.09" width="4.62" height="8.66" fill="#cad5e6"/><rect x="573.48" y="425.09" width="4.62" height="8.66" fill="#b8cae0"/><rect x="577.81" y="425.09" width="4.62" height="8.66" fill="#94afcf"/><rect x="582.13" y="425.09" width="4.62" height="8.66" fill="#cbd6e6"/><rect x="586.45" y="425.09" width="4.62" height="8.66" fill="#f7e3e3"/><rect x="590.78" y="425.09" width="4.62" height="8.66" fill="#dbe0eb"/><rect x="538.90" y="433.46" width="4.62" height="8.66" fill="#c84149"/><rect x="543.22" y="433.46" width="4.62" height="8.66" fill="#ae242b"/><rect x="547.55" y="433.46" width="4.62" height="8.66" fill="#eba1a4"/><rect x="551.87" y="433.46" width="4.62" height="8.66" fill="#d8deea"/><rect x="556.19" y="433.46" width="4.62" height="8.66" fill="#c0cee2"/><rect x="560.52" y="433.46" width="4.62" height="8.66" fill="#eaeaef"/><rect x="564.84" y="433.46" width="4.62" height="8.66" fill="#d3dbe8"/><rect x="569.16" y="433.46" width="4.62" height="8.66" fill="#6089b5"/><rect x="573.48" y="433.46" width="4.62" height="8.66" fill="#cdd7e6"/><rect x="577.81" y="433.46" width="4.62" height="8.66" fill="#b4c7df"/><rect x="582.13" y="433.46" width="4.62" height="8.66" fill="#b7c9e0"/><rect x="586.45" y="433.46" width="4.62" height="8.66" fill="#acc1db"/><rect x="590.78" y="433.46" width="4.62" height="8.66" fill="#90accd"/><rect x="538.90" y="441.82" width="4.62" height="8.66" fill="#d35259"/><rect x="543.22" y="441.82" width="4.62" height="8.66" fill="#a41c21"/><rect x="547.55" y="441.82" width="4.62" height="8.66" fill="#efadb0"/><rect x="551.87" y="441.82" width="4.62" height="8.66" fill="#91adce"/><rect x="556.19" y="441.82" width="4.62" height="8.66" fill="#bfcee2"/><rect x="560.52" y="441.82" width="4.62" height="8.66" fill="#cdd7e7"/><rect x="564.84" y="441.82" width="4.62" height="8.66" fill="#c1cfe3"/><rect x="569.16" y="441.82" width="4.62" height="8.66" fill="#779ac1"/><rect x="573.48" y="441.82" width="4.62" height="8.66" fill="#c1cfe3"/><rect x="577.81" y="441.82" width="4.62" height="8.66" fill="#bccce1"/><rect x="582.13" y="441.82" width="4.62" height="8.66" fill="#dae0ea"/><rect x="586.45" y="441.82" width="4.62" height="8.66" fill="#f9ebeb"/><rect x="590.78" y="441.82" width="4.62" height="8.66" fill="#f9eded"/><rect x="538.90" y="450.18" width="4.62" height="8.66" fill="#cb464d"/><rect x="543.22" y="450.18" width="4.62" height="8.66" fill="#a61d23"/><rect x="547.55" y="450.18" width="4.62" height="8.66" fill="#de7075"/><rect x="551.87" y="450.18" width="4.62" height="8.66" fill="#d0d9e7"/><rect x="556.19" y="450.18" width="4.62" height="8.66" fill="#abc0db"/><rect x="560.52" y="450.18" width="4.62" height="8.66" fill="#c1d0e3"/><rect x="564.84" y="450.18" width="4.62" height="8.66" fill="#d2dae8"/><rect x="569.16" y="450.18" width="4.62" height="8.66" fill="#c2d0e3"/><rect x="573.48" y="450.18" width="4.62" height="8.66" fill="#d6dde9"/><rect x="577.81" y="450.18" width="4.62" height="8.66" fill="#c7d3e5"/><rect x="582.13" y="450.18" width="4.62" height="8.66" fill="#b1c5de"/><rect x="586.45" y="450.18" width="4.62" height="8.66" fill="#bccce1"/><rect x="590.78" y="450.18" width="4.62" height="8.66" fill="#c1cfe3"/><rect x="538.90" y="458.54" width="4.62" height="8.66" fill="#cb454d"/><rect x="543.22" y="458.54" width="4.62" height="8.66" fill="#ad2329"/><rect x="547.55" y="458.54" width="4.62" height="8.66" fill="#e58a8e"/><rect x="551.87" y="458.54" width="4.62" height="8.66" fill="#dce1eb"/><rect x="556.19" y="458.54" width="4.62" height="8.66" fill="#eaeaef"/><rect x="560.52" y="458.54" width="4.62" height="8.66" fill="#d1dae8"/><rect x="564.84" y="458.54" width="4.62" height="8.66" fill="#bfcee2"/><rect x="569.16" y="458.54" width="4.62" height="8.66" fill="#638bb6"/><rect x="573.48" y="458.54" width="4.62" height="8.66" fill="#5c86b3"/><rect x="577.81" y="458.54" width="4.62" height="8.66" fill="#d0d9e7"/><rect x="582.13" y="458.54" width="4.62" height="8.66" fill="#c1cfe3"/><rect x="586.45" y="458.54" width="4.62" height="8.66" fill="#bacbe1"/><rect x="590.78" y="458.54" width="4.62" height="8.66" fill="#e2e5ed"/><rect x="538.90" y="466.90" width="4.62" height="8.66" fill="#cb454d"/><rect x="543.22" y="466.90" width="4.62" height="8.66" fill="#ab2228"/><rect x="547.55" y="466.90" width="4.62" height="8.66" fill="#e4878b"/><rect x="551.87" y="466.90" width="4.62" height="8.66" fill="#c8d4e5"/><rect x="556.19" y="466.90" width="4.62" height="8.66" fill="#f4f0f2"/><rect x="560.52" y="466.90" width="4.62" height="8.66" fill="#a7bdd9"/><rect x="564.84" y="466.90" width="4.62" height="8.66" fill="#a5bcd8"/><rect x="569.16" y="466.90" width="4.62" height="8.66" fill="#cbd6e6"/><rect x="573.48" y="466.90" width="4.62" height="8.66" fill="#b5c7df"/><rect x="577.81" y="466.90" width="4.62" height="8.66" fill="#c0cfe2"/><rect x="582.13" y="466.90" width="4.62" height="8.66" fill="#dee2eb"/><rect x="586.45" y="466.90" width="4.62" height="8.66" fill="#adc2dc"/><rect x="590.78" y="466.90" width="4.62" height="8.66" fill="#cbd5e6"/><rect x="538.90" y="475.27" width="4.62" height="8.66" fill="#cf4b53"/><rect x="543.22" y="475.27" width="4.62" height="8.66" fill="#af252b"/><rect x="547.55" y="475.27" width="4.62" height="8.66" fill="#dc686d"/><rect x="551.87" y="475.27" width="4.62" height="8.66" fill="#bdcde2"/><rect x="556.19" y="475.27" width="4.62" height="8.66" fill="#c7d3e5"/><rect x="560.52" y="475.27" width="4.62" height="8.66" fill="#f9ebeb"/><rect x="564.84" y="475.27" width="4.62" height="8.66" fill="#9eb7d4"/><rect x="569.16" y="475.27" width="4.62" height="8.66" fill="#b6c8e0"/><rect x="573.48" y="475.27" width="4.62" height="8.66" fill="#c1cfe3"/><rect x="577.81" y="475.27" width="4.62" height="8.66" fill="#bdcce1"/><rect x="582.13" y="475.27" width="4.62" height="8.66" fill="#c2d0e3"/><rect x="586.45" y="475.27" width="4.62" height="8.66" fill="#b5c8df"/><rect x="590.78" y="475.27" width="4.62" height="8.66" fill="#afc4dd"/><rect x="538.90" y="483.63" width="4.62" height="8.66" fill="#cd4950"/><rect x="543.22" y="483.63" width="4.62" height="8.66" fill="#a51d22"/><rect x="547.55" y="483.63" width="4.62" height="8.66" fill="#d95c62"/><rect x="551.87" y="483.63" width="4.62" height="8.66" fill="#a5bcd8"/><rect x="556.19" y="483.63" width="4.62" height="8.66" fill="#a4bbd7"/><rect x="560.52" y="483.63" width="4.62" height="8.66" fill="#f9f3f4"/><rect x="564.84" y="483.63" width="4.62" height="8.66" fill="#acc2dc"/><rect x="569.16" y="483.63" width="4.62" height="8.66" fill="#90accd"/><rect x="573.48" y="483.63" width="4.62" height="8.66" fill="#eeecf0"/><rect x="577.81" y="483.63" width="4.62" height="8.66" fill="#bdcde2"/><rect x="582.13" y="483.63" width="4.62" height="8.66" fill="#becde2"/><rect x="586.45" y="483.63" width="4.62" height="8.66" fill="#abc0db"/><rect x="590.78" y="483.63" width="4.62" height="8.66" fill="#a3bbd7"/><rect x="538.90" y="491.99" width="4.62" height="8.66" fill="#d14f56"/><rect x="543.22" y="491.99" width="4.62" height="8.66" fill="#ac2328"/><rect x="547.55" y="491.99" width="4.62" height="8.66" fill="#d5555c"/><rect x="551.87" y="491.99" width="4.62" height="8.66" fill="#aec3dc"/><rect x="556.19" y="491.99" width="4.62" height="8.66" fill="#dfe3ec"/><rect x="560.52" y="491.99" width="4.62" height="8.66" fill="#ced8e7"/><rect x="564.84" y="491.99" width="4.62" height="8.66" fill="#d8deea"/><rect x="569.16" y="491.99" width="4.62" height="8.66" fill="#bccce1"/><rect x="573.48" y="491.99" width="4.62" height="8.66" fill="#9db6d4"/><rect x="577.81" y="491.99" width="4.62" height="8.66" fill="#b1c5de"/><rect x="582.13" y="491.99" width="4.62" height="8.66" fill="#bccce1"/><rect x="586.45" y="491.99" width="4.62" height="8.66" fill="#d0d9e7"/><rect x="590.78" y="491.99" width="4.62" height="8.66" fill="#cdd7e7"/><rect x="538.90" y="500.35" width="4.62" height="8.66" fill="#c84149"/><rect x="543.22" y="500.35" width="4.62" height="8.66" fill="#b1282e"/><rect x="547.55" y="500.35" width="4.62" height="8.66" fill="#e89699"/><rect x="551.87" y="500.35" width="4.62" height="8.66" fill="#8faccd"/><rect x="556.19" y="500.35" width="4.62" height="8.66" fill="#bbcbe1"/><rect x="560.52" y="500.35" width="4.62" height="8.66" fill="#b3c6df"/><rect x="564.84" y="500.35" width="4.62" height="8.66" fill="#cfd9e7"/><rect x="569.16" y="500.35" width="4.62" height="8.66" fill="#9ab4d2"/><rect x="573.48" y="500.35" width="4.62" height="8.66" fill="#ced8e7"/><rect x="577.81" y="500.35" width="4.62" height="8.66" fill="#a2bad6"/><rect x="582.13" y="500.35" width="4.62" height="8.66" fill="#698fba"/><rect x="586.45" y="500.35" width="4.62" height="8.66" fill="#c9d4e5"/><rect x="590.78" y="500.35" width="4.62" height="8.66" fill="#bacbe1"/><rect x="538.90" y="508.71" width="4.62" height="8.66" fill="#c63f47"/><rect x="543.22" y="508.71" width="4.62" height="8.66" fill="#a41c21"/><rect x="547.55" y="508.71" width="4.62" height="8.66" fill="#efadaf"/><rect x="551.87" y="508.71" width="4.62" height="8.66" fill="#5f88b5"/><rect x="556.19" y="508.71" width="4.62" height="8.66" fill="#b1c5de"/><rect x="560.52" y="508.71" width="4.62" height="8.66" fill="#bacbe1"/><rect x="564.84" y="508.71" width="4.62" height="8.66" fill="#c1d0e3"/><rect x="569.16" y="508.71" width="4.62" height="8.66" fill="#cbd5e6"/><rect x="573.48" y="508.71" width="4.62" height="8.66" fill="#8eabcc"/><rect x="577.81" y="508.71" width="4.62" height="8.66" fill="#d4dbe8"/><rect x="582.13" y="508.71" width="4.62" height="8.66" fill="#bacbe1"/><rect x="586.45" y="508.71" width="4.62" height="8.66" fill="#c2d0e3"/><rect x="590.78" y="508.71" width="4.62" height="8.66" fill="#c7d3e5"/><rect x="538.90" y="517.08" width="4.62" height="8.66" fill="#d95c62"/><rect x="543.22" y="517.08" width="4.62" height="8.66" fill="#d95c62"/><rect x="547.55" y="517.08" width="4.62" height="8.66" fill="#a92026"/><rect x="551.87" y="517.08" width="4.62" height="8.66" fill="#d1dae8"/><rect x="556.19" y="517.08" width="4.62" height="8.66" fill="#d6dde9"/><rect x="560.52" y="517.08" width="4.62" height="8.66" fill="#bccce1"/><rect x="564.84" y="517.08" width="4.62" height="8.66" fill="#c4d1e4"/><rect x="569.16" y="517.08" width="4.62" height="8.66" fill="#c8d4e5"/><rect x="573.48" y="517.08" width="4.62" height="8.66" fill="#d5dce9"/><rect x="577.81" y="517.08" width="4.62" height="8.66" fill="#f8e5e5"/><rect x="582.13" y="517.08" width="4.62" height="8.66" fill="#d2dae8"/><rect x="586.45" y="517.08" width="4.62" height="8.66" fill="#b3c6df"/><rect x="590.78" y="517.08" width="4.62" height="8.66" fill="#f3f0f2"/><rect x="538.90" y="525.44" width="4.62" height="8.66" fill="#eea9ac"/><rect x="543.22" y="525.44" width="4.62" height="8.66" fill="#eba1a4"/><rect x="547.55" y="525.44" width="4.62" height="8.66" fill="#a41c21"/><rect x="551.87" y="525.44" width="4.62" height="8.66" fill="#c2d0e3"/><rect x="556.19" y="525.44" width="4.62" height="8.66" fill="#c7d3e5"/><rect x="560.52" y="525.44" width="4.62" height="8.66" fill="#b9cae1"/><rect x="564.84" y="525.44" width="4.62" height="8.66" fill="#678eb9"/><rect x="569.16" y="525.44" width="4.62" height="8.66" fill="#c7d3e5"/><rect x="573.48" y="525.44" width="4.62" height="8.66" fill="#94b0d0"/><rect x="577.81" y="525.44" width="4.62" height="8.66" fill="#c7d3e5"/><rect x="582.13" y="525.44" width="4.62" height="8.66" fill="#bccce1"/><rect x="586.45" y="525.44" width="4.62" height="8.66" fill="#c1cfe3"/><rect x="590.78" y="525.44" width="4.62" height="8.66" fill="#bacbe1"/></g>
<text x="600.00" y="121.60" font-size="8.5" textLength="20.86" lengthAdjust="spacingAndGlyphs" stroke="#231f20" stroke-width="0.18" font-style="italic">GLUL</text>
<text x="600.00" y="129.99" font-size="8.5" textLength="29.86" lengthAdjust="spacingAndGlyphs" stroke="#231f20" stroke-width="0.18" font-style="italic">RIMKLA</text>
<text x="600.00" y="138.37" font-size="8.5" textLength="26.31" lengthAdjust="spacingAndGlyphs" stroke="#231f20" stroke-width="0.18" font-style="italic">LPAR3</text>
<text x="600.00" y="146.76" font-size="8.5" textLength="27.66" lengthAdjust="spacingAndGlyphs" stroke="#231f20" stroke-width="0.18" font-style="italic">SGPP2</text>
<text x="600.00" y="155.14" font-size="8.5" textLength="26.25" lengthAdjust="spacingAndGlyphs" stroke="#231f20" stroke-width="0.18" font-style="italic">CFLAR</text>
<text x="600.00" y="163.53" font-size="8.5" textLength="22.25" lengthAdjust="spacingAndGlyphs" stroke="#231f20" stroke-width="0.18" font-style="italic">DDX5</text>
<text x="600.00" y="171.92" font-size="8.5" textLength="20.50" lengthAdjust="spacingAndGlyphs" stroke="#231f20" stroke-width="0.18" font-style="italic">TPM1</text>
<text x="600.00" y="180.30" font-size="8.5" textLength="41.66" lengthAdjust="spacingAndGlyphs" stroke="#231f20" stroke-width="0.18" font-style="italic">ADAMTSL1</text>
<text x="600.00" y="188.69" font-size="8.5" textLength="40.45" lengthAdjust="spacingAndGlyphs" stroke="#231f20" stroke-width="0.18" font-style="italic">FLJ42393</text>
<text x="600.00" y="197.07" font-size="8.5" textLength="80.86" lengthAdjust="spacingAndGlyphs" stroke="#231f20" stroke-width="0.18" font-style="italic">ENSG00000280219</text>
<text x="600.00" y="205.46" font-size="8.5" textLength="39.85" lengthAdjust="spacingAndGlyphs" stroke="#231f20" stroke-width="0.18" font-style="italic">GARS1-DT</text>
<text x="600.00" y="213.85" font-size="8.5" textLength="31.79" lengthAdjust="spacingAndGlyphs" stroke="#231f20" stroke-width="0.18" font-style="italic">ZNF207</text>
<text x="600.00" y="222.23" font-size="8.5" textLength="25.45" lengthAdjust="spacingAndGlyphs" stroke="#231f20" stroke-width="0.18" font-style="italic">EFHC1</text>
<text x="600.00" y="230.62" font-size="8.5" textLength="20.95" lengthAdjust="spacingAndGlyphs" stroke="#231f20" stroke-width="0.18" font-style="italic">ANO1</text>
<text x="600.00" y="239.00" font-size="8.5" textLength="28.10" lengthAdjust="spacingAndGlyphs" stroke="#231f20" stroke-width="0.18" font-style="italic">HDAC8</text>
<text x="600.00" y="247.39" font-size="8.5" textLength="18.15" lengthAdjust="spacingAndGlyphs" stroke="#231f20" stroke-width="0.18" font-style="italic">NFIA</text>
<text x="600.00" y="255.78" font-size="8.5" textLength="20.45" lengthAdjust="spacingAndGlyphs" stroke="#231f20" stroke-width="0.18" font-style="italic">FAT4</text>
<text x="600.00" y="264.16" font-size="8.5" textLength="52.55" lengthAdjust="spacingAndGlyphs" stroke="#231f20" stroke-width="0.18" font-style="italic">N4BP2L2-IT2</text>
<text x="600.00" y="272.55" font-size="8.5" textLength="79.11" lengthAdjust="spacingAndGlyphs" stroke="#231f20" stroke-width="0.18" font-style="italic">ENSG00000251136</text>
<text x="600.00" y="280.93" font-size="8.5" textLength="31.75" lengthAdjust="spacingAndGlyphs" stroke="#231f20" stroke-width="0.18" font-style="italic">CTNND1</text>
<text x="600.00" y="289.32" font-size="8.5" textLength="42.66" lengthAdjust="spacingAndGlyphs" stroke="#231f20" stroke-width="0.18" font-style="italic">PCBP1-AS1</text>
<text x="600.00" y="297.71" font-size="8.5" textLength="82.61" lengthAdjust="spacingAndGlyphs" stroke="#231f20" stroke-width="0.18" font-style="italic">ENSG00000253284</text>
<text x="600.00" y="306.09" font-size="8.5" textLength="80.86" lengthAdjust="spacingAndGlyphs" stroke="#231f20" stroke-width="0.18" font-style="italic">ENSG00000271533</text>
<text x="600.00" y="314.48" font-size="8.5" textLength="15.00" lengthAdjust="spacingAndGlyphs" stroke="#231f20" stroke-width="0.18" font-style="italic">FTX</text>
<text x="600.00" y="322.86" font-size="8.5" textLength="28.70" lengthAdjust="spacingAndGlyphs" stroke="#231f20" stroke-width="0.18" font-style="italic">SRSF11</text>
<text x="600.00" y="331.25" font-size="8.5" textLength="25.95" lengthAdjust="spacingAndGlyphs" stroke="#231f20" stroke-width="0.18" font-style="italic">DDX17</text>
<text x="600.00" y="339.64" font-size="8.5" textLength="32.25" lengthAdjust="spacingAndGlyphs" stroke="#231f20" stroke-width="0.18" font-style="italic">SNHG14</text>
<text x="600.00" y="348.02" font-size="8.5" textLength="27.20" lengthAdjust="spacingAndGlyphs" stroke="#231f20" stroke-width="0.18" font-style="italic">ACTN2</text>
<text x="600.00" y="356.41" font-size="8.5" textLength="22.70" lengthAdjust="spacingAndGlyphs" stroke="#231f20" stroke-width="0.18" font-style="italic">RGS5</text>
<text x="600.00" y="364.79" font-size="8.5" textLength="24.99" lengthAdjust="spacingAndGlyphs" stroke="#231f20" stroke-width="0.18" font-style="italic">TNNT1</text>
<text x="600.00" y="373.18" font-size="8.5" textLength="27.61" lengthAdjust="spacingAndGlyphs" stroke="#231f20" stroke-width="0.18" font-style="italic">SPARC</text>
<text x="600.00" y="381.57" font-size="8.5" textLength="25.41" lengthAdjust="spacingAndGlyphs" stroke="#231f20" stroke-width="0.18" font-style="italic">SYTL2</text>
<text x="600.00" y="389.95" font-size="8.5" textLength="37.56" lengthAdjust="spacingAndGlyphs" stroke="#231f20" stroke-width="0.18" font-style="italic">PLEKHH2</text>
<text x="600.00" y="398.34" font-size="8.5" textLength="21.40" lengthAdjust="spacingAndGlyphs" stroke="#231f20" stroke-width="0.18" font-style="italic">NRG1</text>
<text x="600.00" y="406.72" font-size="8.5" textLength="43.65" lengthAdjust="spacingAndGlyphs" stroke="#231f20" stroke-width="0.18" font-style="italic">LINC01359</text>
<text x="600.00" y="415.11" font-size="8.5" textLength="30.01" lengthAdjust="spacingAndGlyphs" stroke="#231f20" stroke-width="0.18" font-style="italic">SLC6A1</text>
<text x="600.00" y="423.50" font-size="8.5" textLength="25.41" lengthAdjust="spacingAndGlyphs" stroke="#231f20" stroke-width="0.18" font-style="italic">LTBP4</text>
<text x="600.00" y="431.88" font-size="8.5" textLength="27.15" lengthAdjust="spacingAndGlyphs" stroke="#231f20" stroke-width="0.18" font-style="italic">NFASC</text>
<text x="600.00" y="440.27" font-size="8.5" textLength="31.81" lengthAdjust="spacingAndGlyphs" stroke="#231f20" stroke-width="0.18" font-style="italic">MAPK10</text>
<text x="600.00" y="448.65" font-size="8.5" textLength="17.35" lengthAdjust="spacingAndGlyphs" stroke="#231f20" stroke-width="0.18" font-style="italic">HIC1</text>
<text x="600.00" y="457.04" font-size="8.5" textLength="34.40" lengthAdjust="spacingAndGlyphs" stroke="#231f20" stroke-width="0.18" font-style="italic">MKRN5P</text>
<text x="600.00" y="465.43" font-size="8.5" textLength="82.61" lengthAdjust="spacingAndGlyphs" stroke="#231f20" stroke-width="0.18" font-style="italic">ENSG00000242795</text>
<text x="600.00" y="473.81" font-size="8.5" textLength="41.25" lengthAdjust="spacingAndGlyphs" stroke="#231f20" stroke-width="0.18" font-style="italic">ITGA9-AS1</text>
<text x="600.00" y="482.20" font-size="8.5" textLength="37.16" lengthAdjust="spacingAndGlyphs" stroke="#231f20" stroke-width="0.18" font-style="italic">FABP5P9</text>
<text x="600.00" y="490.58" font-size="8.5" textLength="30.40" lengthAdjust="spacingAndGlyphs" stroke="#231f20" stroke-width="0.18" font-style="italic">MALAT1</text>
<text x="600.00" y="498.97" font-size="8.5" textLength="28.10" lengthAdjust="spacingAndGlyphs" stroke="#231f20" stroke-width="0.18" font-style="italic">MATN2</text>
<text x="600.00" y="507.36" font-size="8.5" textLength="26.35" lengthAdjust="spacingAndGlyphs" stroke="#231f20" stroke-width="0.18" font-style="italic">FREM1</text>
<text x="600.00" y="515.74" font-size="8.5" textLength="31.36" lengthAdjust="spacingAndGlyphs" stroke="#231f20" stroke-width="0.18" font-style="italic">CASC15</text>
<text x="600.00" y="524.13" font-size="8.5" textLength="28.55" lengthAdjust="spacingAndGlyphs" stroke="#231f20" stroke-width="0.18" font-style="italic">MGST3</text>
<text x="600.00" y="532.51" font-size="8.5" textLength="25.01" lengthAdjust="spacingAndGlyphs" stroke="#231f20" stroke-width="0.18" font-style="italic">CALD1</text>
<g shape-rendering="crispEdges"><rect x="253.10" y="312.00" width="7.11" height="8.67" fill="#4473a6"/><rect x="259.91" y="312.00" width="7.11" height="8.67" fill="#5580af"/><rect x="266.72" y="312.00" width="7.11" height="8.67" fill="#5e87b4"/><rect x="273.52" y="312.00" width="7.11" height="8.67" fill="#f2bfc1"/><rect x="280.33" y="312.00" width="7.11" height="8.67" fill="#a21a1f"/><rect x="287.14" y="312.00" width="7.11" height="8.67" fill="#eba1a4"/><rect x="253.10" y="320.37" width="7.11" height="8.67" fill="#90accd"/><rect x="259.91" y="320.37" width="7.11" height="8.67" fill="#33659d"/><rect x="266.72" y="320.37" width="7.11" height="8.67" fill="#5e87b4"/><rect x="273.52" y="320.37" width="7.11" height="8.67" fill="#d4535a"/><rect x="280.33" y="320.37" width="7.11" height="8.67" fill="#f5d3d4"/><rect x="287.14" y="320.37" width="7.11" height="8.67" fill="#c9424a"/><rect x="253.10" y="328.75" width="7.11" height="8.67" fill="#3c6ca2"/><rect x="259.91" y="328.75" width="7.11" height="8.67" fill="#6f93bc"/><rect x="266.72" y="328.75" width="7.11" height="8.67" fill="#4d79ab"/><rect x="273.52" y="328.75" width="7.11" height="8.67" fill="#d4535a"/><rect x="280.33" y="328.75" width="7.11" height="8.67" fill="#f4ccce"/><rect x="287.14" y="328.75" width="7.11" height="8.67" fill="#c9424a"/><rect x="253.10" y="337.12" width="7.11" height="8.67" fill="#4473a6"/><rect x="259.91" y="337.12" width="7.11" height="8.67" fill="#5580af"/><rect x="266.72" y="337.12" width="7.11" height="8.67" fill="#4d79ab"/><rect x="273.52" y="337.12" width="7.11" height="8.67" fill="#ce4b52"/><rect x="280.33" y="337.12" width="7.11" height="8.67" fill="#f7e0e1"/><rect x="287.14" y="337.12" width="7.11" height="8.67" fill="#c9424a"/><rect x="253.10" y="345.50" width="7.11" height="8.67" fill="#7fa0c5"/><rect x="259.91" y="345.50" width="7.11" height="8.67" fill="#5e87b4"/><rect x="266.72" y="345.50" width="7.11" height="8.67" fill="#5e87b4"/><rect x="273.52" y="345.50" width="7.11" height="8.67" fill="#ce4b52"/><rect x="280.33" y="345.50" width="7.11" height="8.67" fill="#c7d3e5"/><rect x="287.14" y="345.50" width="7.11" height="8.67" fill="#b72e35"/><rect x="253.10" y="353.87" width="7.11" height="8.67" fill="#3c6ca2"/><rect x="259.91" y="353.87" width="7.11" height="8.67" fill="#6f93bc"/><rect x="266.72" y="353.87" width="7.11" height="8.67" fill="#6f93bc"/><rect x="273.52" y="353.87" width="7.11" height="8.67" fill="#d95c62"/><rect x="280.33" y="353.87" width="7.11" height="8.67" fill="#ebebf0"/><rect x="287.14" y="353.87" width="7.11" height="8.67" fill="#b72e35"/><rect x="253.10" y="362.24" width="7.11" height="8.67" fill="#90accd"/><rect x="259.91" y="362.24" width="7.11" height="8.67" fill="#4d79ab"/><rect x="266.72" y="362.24" width="7.11" height="8.67" fill="#33659d"/><rect x="273.52" y="362.24" width="7.11" height="8.67" fill="#e27e83"/><rect x="280.33" y="362.24" width="7.11" height="8.67" fill="#eba1a4"/><rect x="287.14" y="362.24" width="7.11" height="8.67" fill="#c9424a"/><rect x="253.10" y="370.62" width="7.11" height="8.67" fill="#7fa0c5"/><rect x="259.91" y="370.62" width="7.11" height="8.67" fill="#4473a6"/><rect x="266.72" y="370.62" width="7.11" height="8.67" fill="#3c6ca2"/><rect x="273.52" y="370.62" width="7.11" height="8.67" fill="#d4535a"/><rect x="280.33" y="370.62" width="7.11" height="8.67" fill="#de6d72"/><rect x="287.14" y="370.62" width="7.11" height="8.67" fill="#ce4b52"/><rect x="253.10" y="378.99" width="7.11" height="8.67" fill="#5e87b4"/><rect x="259.91" y="378.99" width="7.11" height="8.67" fill="#4473a6"/><rect x="266.72" y="378.99" width="7.11" height="8.67" fill="#4473a6"/><rect x="273.52" y="378.99" width="7.11" height="8.67" fill="#d4535a"/><rect x="280.33" y="378.99" width="7.11" height="8.67" fill="#eba1a4"/><rect x="287.14" y="378.99" width="7.11" height="8.67" fill="#ce4b52"/><rect x="253.10" y="387.37" width="7.11" height="8.67" fill="#5e87b4"/><rect x="259.91" y="387.37" width="7.11" height="8.67" fill="#4473a6"/><rect x="266.72" y="387.37" width="7.11" height="8.67" fill="#4473a6"/><rect x="273.52" y="387.37" width="7.11" height="8.67" fill="#d4535a"/><rect x="280.33" y="387.37" width="7.11" height="8.67" fill="#d4535a"/><rect x="287.14" y="387.37" width="7.11" height="8.67" fill="#d95c62"/><rect x="253.10" y="395.74" width="7.11" height="8.67" fill="#5e87b4"/><rect x="259.91" y="395.74" width="7.11" height="8.67" fill="#3c6ca2"/><rect x="266.72" y="395.74" width="7.11" height="8.67" fill="#4473a6"/><rect x="273.52" y="395.74" width="7.11" height="8.67" fill="#ce4b52"/><rect x="280.33" y="395.74" width="7.11" height="8.67" fill="#d95c62"/><rect x="287.14" y="395.74" width="7.11" height="8.67" fill="#d95c62"/><rect x="253.10" y="404.11" width="7.11" height="8.67" fill="#c0cee2"/><rect x="259.91" y="404.11" width="7.11" height="8.67" fill="#4473a6"/><rect x="266.72" y="404.11" width="7.11" height="8.67" fill="#33659d"/><rect x="273.52" y="404.11" width="7.11" height="8.67" fill="#d95c62"/><rect x="280.33" y="404.11" width="7.11" height="8.67" fill="#ce4b52"/><rect x="287.14" y="404.11" width="7.11" height="8.67" fill="#de6d72"/><rect x="253.10" y="412.49" width="7.11" height="8.67" fill="#5580af"/><rect x="259.91" y="412.49" width="7.11" height="8.67" fill="#4473a6"/><rect x="266.72" y="412.49" width="7.11" height="8.67" fill="#5e87b4"/><rect x="273.52" y="412.49" width="7.11" height="8.67" fill="#c0383f"/><rect x="280.33" y="412.49" width="7.11" height="8.67" fill="#f4ccce"/><rect x="287.14" y="412.49" width="7.11" height="8.67" fill="#d95c62"/><rect x="253.10" y="420.86" width="7.11" height="8.67" fill="#4473a6"/><rect x="259.91" y="420.86" width="7.11" height="8.67" fill="#4473a6"/><rect x="266.72" y="420.86" width="7.11" height="8.67" fill="#6f93bc"/><rect x="273.52" y="420.86" width="7.11" height="8.67" fill="#c0383f"/><rect x="280.33" y="420.86" width="7.11" height="8.67" fill="#f2bfc1"/><rect x="287.14" y="420.86" width="7.11" height="8.67" fill="#d95c62"/><rect x="253.10" y="429.24" width="7.11" height="8.67" fill="#4473a6"/><rect x="259.91" y="429.24" width="7.11" height="8.67" fill="#6f93bc"/><rect x="266.72" y="429.24" width="7.11" height="8.67" fill="#4d79ab"/><rect x="273.52" y="429.24" width="7.11" height="8.67" fill="#c9424a"/><rect x="280.33" y="429.24" width="7.11" height="8.67" fill="#eba1a4"/><rect x="287.14" y="429.24" width="7.11" height="8.67" fill="#d95c62"/><rect x="253.10" y="437.61" width="7.11" height="8.67" fill="#4473a6"/><rect x="259.91" y="437.61" width="7.11" height="8.67" fill="#4d79ab"/><rect x="266.72" y="437.61" width="7.11" height="8.67" fill="#5580af"/><rect x="273.52" y="437.61" width="7.11" height="8.67" fill="#c9424a"/><rect x="280.33" y="437.61" width="7.11" height="8.67" fill="#e79093"/><rect x="287.14" y="437.61" width="7.11" height="8.67" fill="#d95c62"/><rect x="253.10" y="445.98" width="7.11" height="8.67" fill="#4473a6"/><rect x="259.91" y="445.98" width="7.11" height="8.67" fill="#5e87b4"/><rect x="266.72" y="445.98" width="7.11" height="8.67" fill="#4d79ab"/><rect x="273.52" y="445.98" width="7.11" height="8.67" fill="#f0b2b4"/><rect x="280.33" y="445.98" width="7.11" height="8.67" fill="#de6d72"/><rect x="287.14" y="445.98" width="7.11" height="8.67" fill="#c9424a"/><rect x="253.10" y="454.36" width="7.11" height="8.67" fill="#4473a6"/><rect x="259.91" y="454.36" width="7.11" height="8.67" fill="#4473a6"/><rect x="266.72" y="454.36" width="7.11" height="8.67" fill="#5580af"/><rect x="273.52" y="454.36" width="7.11" height="8.67" fill="#de6d72"/><rect x="280.33" y="454.36" width="7.11" height="8.67" fill="#de6d72"/><rect x="287.14" y="454.36" width="7.11" height="8.67" fill="#ce4b52"/><rect x="253.10" y="462.73" width="7.11" height="8.67" fill="#4473a6"/><rect x="259.91" y="462.73" width="7.11" height="8.67" fill="#4d79ab"/><rect x="266.72" y="462.73" width="7.11" height="8.67" fill="#5e87b4"/><rect x="273.52" y="462.73" width="7.11" height="8.67" fill="#f4ccce"/><rect x="280.33" y="462.73" width="7.11" height="8.67" fill="#d95c62"/><rect x="287.14" y="462.73" width="7.11" height="8.67" fill="#ce4b52"/><rect x="253.10" y="471.11" width="7.11" height="8.67" fill="#5e87b4"/><rect x="259.91" y="471.11" width="7.11" height="8.67" fill="#5e87b4"/><rect x="266.72" y="471.11" width="7.11" height="8.67" fill="#3c6ca2"/><rect x="273.52" y="471.11" width="7.11" height="8.67" fill="#f9edee"/><rect x="280.33" y="471.11" width="7.11" height="8.67" fill="#ce4b52"/><rect x="287.14" y="471.11" width="7.11" height="8.67" fill="#d4535a"/><rect x="253.10" y="479.48" width="7.11" height="8.67" fill="#5580af"/><rect x="259.91" y="479.48" width="7.11" height="8.67" fill="#5580af"/><rect x="266.72" y="479.48" width="7.11" height="8.67" fill="#3c6ca2"/><rect x="273.52" y="479.48" width="7.11" height="8.67" fill="#f8e7e7"/><rect x="280.33" y="479.48" width="7.11" height="8.67" fill="#c9424a"/><rect x="287.14" y="479.48" width="7.11" height="8.67" fill="#d4535a"/><rect x="253.10" y="487.85" width="7.11" height="8.67" fill="#d95c62"/><rect x="259.91" y="487.85" width="7.11" height="8.67" fill="#f2bfc1"/><rect x="266.72" y="487.85" width="7.11" height="8.67" fill="#c0383f"/><rect x="273.52" y="487.85" width="7.11" height="8.67" fill="#5e87b4"/><rect x="280.33" y="487.85" width="7.11" height="8.67" fill="#4473a6"/><rect x="287.14" y="487.85" width="7.11" height="8.67" fill="#5580af"/><rect x="253.10" y="496.23" width="7.11" height="8.67" fill="#c0383f"/><rect x="259.91" y="496.23" width="7.11" height="8.67" fill="#f2bfc1"/><rect x="266.72" y="496.23" width="7.11" height="8.67" fill="#de6d72"/><rect x="273.52" y="496.23" width="7.11" height="8.67" fill="#5580af"/><rect x="280.33" y="496.23" width="7.11" height="8.67" fill="#4473a6"/><rect x="287.14" y="496.23" width="7.11" height="8.67" fill="#4d79ab"/><rect x="253.10" y="504.60" width="7.11" height="8.67" fill="#c0383f"/><rect x="259.91" y="504.60" width="7.11" height="8.67" fill="#f1b9ba"/><rect x="266.72" y="504.60" width="7.11" height="8.67" fill="#e27e83"/><rect x="273.52" y="504.60" width="7.11" height="8.67" fill="#4473a6"/><rect x="280.33" y="504.60" width="7.11" height="8.67" fill="#4473a6"/><rect x="287.14" y="504.60" width="7.11" height="8.67" fill="#7fa0c5"/><rect x="253.10" y="512.98" width="7.11" height="8.67" fill="#c9424a"/><rect x="259.91" y="512.98" width="7.11" height="8.67" fill="#f1b9ba"/><rect x="266.72" y="512.98" width="7.11" height="8.67" fill="#d4535a"/><rect x="273.52" y="512.98" width="7.11" height="8.67" fill="#4473a6"/><rect x="280.33" y="512.98" width="7.11" height="8.67" fill="#4d79ab"/><rect x="287.14" y="512.98" width="7.11" height="8.67" fill="#4473a6"/><rect x="253.10" y="521.35" width="7.11" height="8.67" fill="#c9424a"/><rect x="259.91" y="521.35" width="7.11" height="8.67" fill="#f2bfc1"/><rect x="266.72" y="521.35" width="7.11" height="8.67" fill="#d4535a"/><rect x="273.52" y="521.35" width="7.11" height="8.67" fill="#4473a6"/><rect x="280.33" y="521.35" width="7.11" height="8.67" fill="#4d79ab"/><rect x="287.14" y="521.35" width="7.11" height="8.67" fill="#4d79ab"/><rect x="253.10" y="529.72" width="7.11" height="8.67" fill="#c0383f"/><rect x="259.91" y="529.72" width="7.11" height="8.67" fill="#f4ccce"/><rect x="266.72" y="529.72" width="7.11" height="8.67" fill="#d95c62"/><rect x="273.52" y="529.72" width="7.11" height="8.67" fill="#4473a6"/><rect x="280.33" y="529.72" width="7.11" height="8.67" fill="#4473a6"/><rect x="287.14" y="529.72" width="7.11" height="8.67" fill="#90accd"/><rect x="253.10" y="538.10" width="7.11" height="8.67" fill="#ce4b52"/><rect x="259.91" y="538.10" width="7.11" height="8.67" fill="#e79093"/><rect x="266.72" y="538.10" width="7.11" height="8.67" fill="#d95c62"/><rect x="273.52" y="538.10" width="7.11" height="8.67" fill="#4d79ab"/><rect x="280.33" y="538.10" width="7.11" height="8.67" fill="#4473a6"/><rect x="287.14" y="538.10" width="7.11" height="8.67" fill="#6f93bc"/><rect x="253.10" y="546.47" width="7.11" height="8.67" fill="#d4535a"/><rect x="259.91" y="546.47" width="7.11" height="8.67" fill="#e27e83"/><rect x="266.72" y="546.47" width="7.11" height="8.67" fill="#d95c62"/><rect x="273.52" y="546.47" width="7.11" height="8.67" fill="#6f93bc"/><rect x="280.33" y="546.47" width="7.11" height="8.67" fill="#4473a6"/><rect x="287.14" y="546.47" width="7.11" height="8.67" fill="#5e87b4"/><rect x="253.10" y="554.85" width="7.11" height="8.67" fill="#d4535a"/><rect x="259.91" y="554.85" width="7.11" height="8.67" fill="#e27e83"/><rect x="266.72" y="554.85" width="7.11" height="8.67" fill="#e27e83"/><rect x="273.52" y="554.85" width="7.11" height="8.67" fill="#6f93bc"/><rect x="280.33" y="554.85" width="7.11" height="8.67" fill="#3c6ca2"/><rect x="287.14" y="554.85" width="7.11" height="8.67" fill="#7fa0c5"/><rect x="253.10" y="563.22" width="7.11" height="8.67" fill="#b72e35"/><rect x="259.91" y="563.22" width="7.11" height="8.67" fill="#faf4f4"/><rect x="266.72" y="563.22" width="7.11" height="8.67" fill="#d95c62"/><rect x="273.52" y="563.22" width="7.11" height="8.67" fill="#6f93bc"/><rect x="280.33" y="563.22" width="7.11" height="8.67" fill="#3c6ca2"/><rect x="287.14" y="563.22" width="7.11" height="8.67" fill="#a0b9d6"/><rect x="253.10" y="571.59" width="7.11" height="8.67" fill="#ce4b52"/><rect x="259.91" y="571.59" width="7.11" height="8.67" fill="#d4535a"/><rect x="266.72" y="571.59" width="7.11" height="8.67" fill="#de6d72"/><rect x="273.52" y="571.59" width="7.11" height="8.67" fill="#4473a6"/><rect x="280.33" y="571.59" width="7.11" height="8.67" fill="#6f93bc"/><rect x="287.14" y="571.59" width="7.11" height="8.67" fill="#4473a6"/><rect x="253.10" y="579.97" width="7.11" height="8.67" fill="#c9424a"/><rect x="259.91" y="579.97" width="7.11" height="8.67" fill="#d4535a"/><rect x="266.72" y="579.97" width="7.11" height="8.67" fill="#f2bfc1"/><rect x="273.52" y="579.97" width="7.11" height="8.67" fill="#4473a6"/><rect x="280.33" y="579.97" width="7.11" height="8.67" fill="#5580af"/><rect x="287.14" y="579.97" width="7.11" height="8.67" fill="#5e87b4"/><rect x="253.10" y="588.34" width="7.11" height="8.67" fill="#d4535a"/><rect x="259.91" y="588.34" width="7.11" height="8.67" fill="#ce4b52"/><rect x="266.72" y="588.34" width="7.11" height="8.67" fill="#e79093"/><rect x="273.52" y="588.34" width="7.11" height="8.67" fill="#4473a6"/><rect x="280.33" y="588.34" width="7.11" height="8.67" fill="#5580af"/><rect x="287.14" y="588.34" width="7.11" height="8.67" fill="#5e87b4"/><rect x="253.10" y="596.72" width="7.11" height="8.67" fill="#d95c62"/><rect x="259.91" y="596.72" width="7.11" height="8.67" fill="#d4535a"/><rect x="266.72" y="596.72" width="7.11" height="8.67" fill="#d4535a"/><rect x="273.52" y="596.72" width="7.11" height="8.67" fill="#3c6ca2"/><rect x="280.33" y="596.72" width="7.11" height="8.67" fill="#5580af"/><rect x="287.14" y="596.72" width="7.11" height="8.67" fill="#7fa0c5"/><rect x="253.10" y="605.09" width="7.11" height="8.67" fill="#e27e83"/><rect x="259.91" y="605.09" width="7.11" height="8.67" fill="#d4535a"/><rect x="266.72" y="605.09" width="7.11" height="8.67" fill="#ce4b52"/><rect x="273.52" y="605.09" width="7.11" height="8.67" fill="#4473a6"/><rect x="280.33" y="605.09" width="7.11" height="8.67" fill="#4d79ab"/><rect x="287.14" y="605.09" width="7.11" height="8.67" fill="#7fa0c5"/><rect x="253.10" y="613.46" width="7.11" height="8.67" fill="#e79093"/><rect x="259.91" y="613.46" width="7.11" height="8.67" fill="#c0383f"/><rect x="266.72" y="613.46" width="7.11" height="8.67" fill="#f0b2b4"/><rect x="273.52" y="613.46" width="7.11" height="8.67" fill="#4473a6"/><rect x="280.33" y="613.46" width="7.11" height="8.67" fill="#6f93bc"/><rect x="287.14" y="613.46" width="7.11" height="8.67" fill="#6f93bc"/><rect x="253.10" y="621.84" width="7.11" height="8.67" fill="#eba1a4"/><rect x="259.91" y="621.84" width="7.11" height="8.67" fill="#c9424a"/><rect x="266.72" y="621.84" width="7.11" height="8.67" fill="#e27e83"/><rect x="273.52" y="621.84" width="7.11" height="8.67" fill="#5e87b4"/><rect x="280.33" y="621.84" width="7.11" height="8.67" fill="#3c6ca2"/><rect x="287.14" y="621.84" width="7.11" height="8.67" fill="#7fa0c5"/><rect x="253.10" y="630.21" width="7.11" height="8.67" fill="#f0b2b4"/><rect x="259.91" y="630.21" width="7.11" height="8.67" fill="#c9424a"/><rect x="266.72" y="630.21" width="7.11" height="8.67" fill="#d4535a"/><rect x="273.52" y="630.21" width="7.11" height="8.67" fill="#4473a6"/><rect x="280.33" y="630.21" width="7.11" height="8.67" fill="#4473a6"/><rect x="287.14" y="630.21" width="7.11" height="8.67" fill="#90accd"/><rect x="253.10" y="638.59" width="7.11" height="8.67" fill="#f3eff2"/><rect x="259.91" y="638.59" width="7.11" height="8.67" fill="#d4535a"/><rect x="266.72" y="638.59" width="7.11" height="8.67" fill="#c0383f"/><rect x="273.52" y="638.59" width="7.11" height="8.67" fill="#4473a6"/><rect x="280.33" y="638.59" width="7.11" height="8.67" fill="#5580af"/><rect x="287.14" y="638.59" width="7.11" height="8.67" fill="#a0b9d6"/><rect x="253.10" y="646.96" width="7.11" height="8.67" fill="#f7e0e1"/><rect x="259.91" y="646.96" width="7.11" height="8.67" fill="#d4535a"/><rect x="266.72" y="646.96" width="7.11" height="8.67" fill="#c0383f"/><rect x="273.52" y="646.96" width="7.11" height="8.67" fill="#4473a6"/><rect x="280.33" y="646.96" width="7.11" height="8.67" fill="#4d79ab"/><rect x="287.14" y="646.96" width="7.11" height="8.67" fill="#6f93bc"/><rect x="253.10" y="655.33" width="7.11" height="8.67" fill="#e27e83"/><rect x="259.91" y="655.33" width="7.11" height="8.67" fill="#e79093"/><rect x="266.72" y="655.33" width="7.11" height="8.67" fill="#c9424a"/><rect x="273.52" y="655.33" width="7.11" height="8.67" fill="#4473a6"/><rect x="280.33" y="655.33" width="7.11" height="8.67" fill="#6f93bc"/><rect x="287.14" y="655.33" width="7.11" height="8.67" fill="#4473a6"/><rect x="253.10" y="663.71" width="7.11" height="8.67" fill="#f0b2b4"/><rect x="259.91" y="663.71" width="7.11" height="8.67" fill="#ce4b52"/><rect x="266.72" y="663.71" width="7.11" height="8.67" fill="#c9424a"/><rect x="273.52" y="663.71" width="7.11" height="8.67" fill="#4473a6"/><rect x="280.33" y="663.71" width="7.11" height="8.67" fill="#90accd"/><rect x="287.14" y="663.71" width="7.11" height="8.67" fill="#4473a6"/><rect x="253.10" y="672.08" width="7.11" height="8.67" fill="#f0b2b4"/><rect x="259.91" y="672.08" width="7.11" height="8.67" fill="#ce4b52"/><rect x="266.72" y="672.08" width="7.11" height="8.67" fill="#ce4b52"/><rect x="273.52" y="672.08" width="7.11" height="8.67" fill="#4473a6"/><rect x="280.33" y="672.08" width="7.11" height="8.67" fill="#6f93bc"/><rect x="287.14" y="672.08" width="7.11" height="8.67" fill="#4d79ab"/><rect x="253.10" y="680.46" width="7.11" height="8.67" fill="#f0b2b4"/><rect x="259.91" y="680.46" width="7.11" height="8.67" fill="#d95c62"/><rect x="266.72" y="680.46" width="7.11" height="8.67" fill="#c9424a"/><rect x="273.52" y="680.46" width="7.11" height="8.67" fill="#4473a6"/><rect x="280.33" y="680.46" width="7.11" height="8.67" fill="#5e87b4"/><rect x="287.14" y="680.46" width="7.11" height="8.67" fill="#4473a6"/><rect x="253.10" y="688.83" width="7.11" height="8.67" fill="#ae242a"/><rect x="259.91" y="688.83" width="7.11" height="8.67" fill="#f0b2b4"/><rect x="266.72" y="688.83" width="7.11" height="8.67" fill="#f7e0e1"/><rect x="273.52" y="688.83" width="7.11" height="8.67" fill="#5e87b4"/><rect x="280.33" y="688.83" width="7.11" height="8.67" fill="#3c6ca2"/><rect x="287.14" y="688.83" width="7.11" height="8.67" fill="#90accd"/><rect x="253.10" y="697.20" width="7.11" height="8.67" fill="#ae242a"/><rect x="259.91" y="697.20" width="7.11" height="8.67" fill="#eba1a4"/><rect x="266.72" y="697.20" width="7.11" height="8.67" fill="#ebebf0"/><rect x="273.52" y="697.20" width="7.11" height="8.67" fill="#5e87b4"/><rect x="280.33" y="697.20" width="7.11" height="8.67" fill="#4d79ab"/><rect x="287.14" y="697.20" width="7.11" height="8.67" fill="#5e87b4"/><rect x="253.10" y="705.58" width="7.11" height="8.67" fill="#ae242a"/><rect x="259.91" y="705.58" width="7.11" height="8.67" fill="#f3c6c7"/><rect x="266.72" y="705.58" width="7.11" height="8.67" fill="#f9edee"/><rect x="273.52" y="705.58" width="7.11" height="8.67" fill="#5580af"/><rect x="280.33" y="705.58" width="7.11" height="8.67" fill="#6f93bc"/><rect x="287.14" y="705.58" width="7.11" height="8.67" fill="#5e87b4"/><rect x="253.10" y="713.95" width="7.11" height="8.67" fill="#a41c21"/><rect x="259.91" y="713.95" width="7.11" height="8.67" fill="#f8e7e7"/><rect x="266.72" y="713.95" width="7.11" height="8.67" fill="#f8e7e7"/><rect x="273.52" y="713.95" width="7.11" height="8.67" fill="#4d79ab"/><rect x="280.33" y="713.95" width="7.11" height="8.67" fill="#7fa0c5"/><rect x="287.14" y="713.95" width="7.11" height="8.67" fill="#6f93bc"/><rect x="253.10" y="722.33" width="7.11" height="8.67" fill="#b72e35"/><rect x="259.91" y="722.33" width="7.11" height="8.67" fill="#e27e83"/><rect x="266.72" y="722.33" width="7.11" height="8.67" fill="#f4ccce"/><rect x="273.52" y="722.33" width="7.11" height="8.67" fill="#5580af"/><rect x="280.33" y="722.33" width="7.11" height="8.67" fill="#6f93bc"/><rect x="287.14" y="722.33" width="7.11" height="8.67" fill="#3c6ca2"/></g>
<text x="296.90" y="319.50" font-size="8.5" textLength="27.70" lengthAdjust="spacingAndGlyphs" stroke="#231f20" stroke-width="0.18" font-style="italic">HMCN1</text>
<text x="296.90" y="327.87" font-size="8.5" textLength="77.16" lengthAdjust="spacingAndGlyphs" stroke="#231f20" stroke-width="0.18" font-style="italic">ENSG0000028607</text>
<text x="296.90" y="336.24" font-size="8.5" textLength="21.35" lengthAdjust="spacingAndGlyphs" stroke="#231f20" stroke-width="0.18" font-style="italic">FBN2</text>
<text x="296.90" y="344.61" font-size="8.5" textLength="42.11" lengthAdjust="spacingAndGlyphs" stroke="#231f20" stroke-width="0.18" font-style="italic">AOAMTSL1</text>
<text x="296.90" y="352.98" font-size="8.5" textLength="22.30" lengthAdjust="spacingAndGlyphs" stroke="#231f20" stroke-width="0.18" font-style="italic">TNNI1</text>
<text x="296.90" y="361.35" font-size="8.5" textLength="37.12" lengthAdjust="spacingAndGlyphs" stroke="#231f20" stroke-width="0.18" font-style="italic">PLEKHA7</text>
<text x="296.90" y="369.71" font-size="8.5" textLength="28.50" lengthAdjust="spacingAndGlyphs" stroke="#231f20" stroke-width="0.18" font-style="italic">CRNDE</text>
<text x="296.90" y="378.08" font-size="8.5" textLength="18.25" lengthAdjust="spacingAndGlyphs" stroke="#231f20" stroke-width="0.18" font-style="italic">MID1</text>
<text x="296.90" y="386.45" font-size="8.5" textLength="31.76" lengthAdjust="spacingAndGlyphs" stroke="#231f20" stroke-width="0.18" font-style="italic">SLC6A6</text>
<text x="296.90" y="394.82" font-size="8.5" textLength="31.76" lengthAdjust="spacingAndGlyphs" stroke="#231f20" stroke-width="0.18" font-style="italic">SPOCK1</text>
<text x="296.90" y="403.19" font-size="8.5" textLength="27.21" lengthAdjust="spacingAndGlyphs" stroke="#231f20" stroke-width="0.18" font-style="italic">LAMA4</text>
<text x="296.90" y="411.56" font-size="8.5" textLength="18.65" lengthAdjust="spacingAndGlyphs" stroke="#231f20" stroke-width="0.18" font-style="italic">IRX3</text>
<text x="296.90" y="419.93" font-size="8.5" textLength="33.06" lengthAdjust="spacingAndGlyphs" stroke="#231f20" stroke-width="0.18" font-style="italic">SCUBE3</text>
<text x="296.90" y="428.30" font-size="8.5" textLength="20.06" lengthAdjust="spacingAndGlyphs" stroke="#231f20" stroke-width="0.18" font-style="italic">NAV1</text>
<text x="296.90" y="436.67" font-size="8.5" textLength="20.90" lengthAdjust="spacingAndGlyphs" stroke="#231f20" stroke-width="0.18" font-style="italic">GJA5</text>
<text x="296.90" y="445.03" font-size="8.5" textLength="26.35" lengthAdjust="spacingAndGlyphs" stroke="#231f20" stroke-width="0.18" font-style="italic">DCHS1</text>
<text x="296.90" y="453.40" font-size="8.5" textLength="22.70" lengthAdjust="spacingAndGlyphs" stroke="#231f20" stroke-width="0.18" font-style="italic">HCN4</text>
<text x="296.90" y="461.77" font-size="8.5" textLength="22.30" lengthAdjust="spacingAndGlyphs" stroke="#231f20" stroke-width="0.18" font-style="italic">GRM1</text>
<text x="296.90" y="470.14" font-size="8.5" textLength="30.41" lengthAdjust="spacingAndGlyphs" stroke="#231f20" stroke-width="0.18" font-style="italic">PHLDA1</text>
<text x="296.90" y="478.51" font-size="8.5" textLength="31.30" lengthAdjust="spacingAndGlyphs" stroke="#231f20" stroke-width="0.18" font-style="italic">EFEMP1</text>
<text x="296.90" y="486.88" font-size="8.5" textLength="25.90" lengthAdjust="spacingAndGlyphs" stroke="#231f20" stroke-width="0.18" font-style="italic">CGNL1</text>
<text x="296.90" y="495.25" font-size="8.5" textLength="28.55" lengthAdjust="spacingAndGlyphs" stroke="#231f20" stroke-width="0.18" font-style="italic">MKNK2</text>
<text x="296.90" y="503.62" font-size="8.5" textLength="20.86" lengthAdjust="spacingAndGlyphs" stroke="#231f20" stroke-width="0.18" font-style="italic">GLUL</text>
<text x="296.90" y="511.99" font-size="8.5" textLength="21.81" lengthAdjust="spacingAndGlyphs" stroke="#231f20" stroke-width="0.18" font-style="italic">PDK4</text>
<text x="296.90" y="520.36" font-size="8.5" textLength="32.16" lengthAdjust="spacingAndGlyphs" stroke="#231f20" stroke-width="0.18" font-style="italic">TUBA3E</text>
<text x="296.90" y="528.73" font-size="8.5" textLength="26.31" lengthAdjust="spacingAndGlyphs" stroke="#231f20" stroke-width="0.18" font-style="italic">FKBP5</text>
<text x="296.90" y="537.09" font-size="8.5" textLength="29.55" lengthAdjust="spacingAndGlyphs" stroke="#231f20" stroke-width="0.18" font-style="italic">ZBTB16</text>
<text x="296.90" y="545.46" font-size="8.5" textLength="30.86" lengthAdjust="spacingAndGlyphs" stroke="#231f20" stroke-width="0.18" font-style="italic">KLHL36</text>
<text x="296.90" y="553.83" font-size="8.5" textLength="32.60" lengthAdjust="spacingAndGlyphs" stroke="#231f20" stroke-width="0.18" font-style="italic">TUBA3D</text>
<text x="296.90" y="562.20" font-size="8.5" textLength="26.75" lengthAdjust="spacingAndGlyphs" stroke="#231f20" stroke-width="0.18" font-style="italic">PTPN3</text>
<text x="296.90" y="570.57" font-size="8.5" textLength="21.36" lengthAdjust="spacingAndGlyphs" stroke="#231f20" stroke-width="0.18" font-style="italic">EYA4</text>
<text x="296.90" y="578.94" font-size="8.5" textLength="24.05" lengthAdjust="spacingAndGlyphs" stroke="#231f20" stroke-width="0.18" font-style="italic">DDIT4</text>
<text x="296.90" y="587.31" font-size="8.5" textLength="38.10" lengthAdjust="spacingAndGlyphs" stroke="#231f20" stroke-width="0.18" font-style="italic">TSC22D3</text>
<text x="296.90" y="595.68" font-size="8.5" textLength="23.55" lengthAdjust="spacingAndGlyphs" stroke="#231f20" stroke-width="0.18" font-style="italic">TXNIP</text>
<text x="296.90" y="604.05" font-size="8.5" textLength="20.00" lengthAdjust="spacingAndGlyphs" stroke="#231f20" stroke-width="0.18" font-style="italic">KLF9</text>
<text x="296.90" y="612.41" font-size="8.5" textLength="41.67" lengthAdjust="spacingAndGlyphs" stroke="#231f20" stroke-width="0.18" font-style="italic">RABGAP1L</text>
<text x="296.90" y="620.78" font-size="8.5" textLength="18.20" lengthAdjust="spacingAndGlyphs" stroke="#231f20" stroke-width="0.18" font-style="italic">IRF6</text>
<text x="296.90" y="629.15" font-size="8.5" textLength="30.86" lengthAdjust="spacingAndGlyphs" stroke="#231f20" stroke-width="0.18" font-style="italic">APOLD1</text>
<text x="296.90" y="637.52" font-size="8.5" textLength="34.01" lengthAdjust="spacingAndGlyphs" stroke="#231f20" stroke-width="0.18" font-style="italic">CSIRNP1</text>
<text x="296.90" y="645.89" font-size="8.5" textLength="25.91" lengthAdjust="spacingAndGlyphs" stroke="#231f20" stroke-width="0.18" font-style="italic">KCNB1</text>
<text x="296.90" y="654.26" font-size="8.5" textLength="27.65" lengthAdjust="spacingAndGlyphs" stroke="#231f20" stroke-width="0.18" font-style="italic">MBNL3</text>
<text x="296.90" y="662.63" font-size="8.5" textLength="36.80" lengthAdjust="spacingAndGlyphs" stroke="#231f20" stroke-width="0.18" font-style="italic">FAM155B</text>
<text x="296.90" y="671.00" font-size="8.5" textLength="33.95" lengthAdjust="spacingAndGlyphs" stroke="#231f20" stroke-width="0.18" font-style="italic">ARRDC2</text>
<text x="296.90" y="679.37" font-size="8.5" textLength="30.91" lengthAdjust="spacingAndGlyphs" stroke="#231f20" stroke-width="0.18" font-style="italic">CYP4B1</text>
<text x="296.90" y="687.74" font-size="8.5" textLength="17.70" lengthAdjust="spacingAndGlyphs" stroke="#231f20" stroke-width="0.18" font-style="italic">CPM</text>
<text x="296.90" y="696.11" font-size="8.5" textLength="27.26" lengthAdjust="spacingAndGlyphs" stroke="#231f20" stroke-width="0.18" font-style="italic">USP53</text>
<text x="296.90" y="704.47" font-size="8.5" textLength="33.51" lengthAdjust="spacingAndGlyphs" stroke="#231f20" stroke-width="0.18" font-style="italic">ANKRD2</text>
<text x="296.90" y="712.84" font-size="8.5" textLength="31.76" lengthAdjust="spacingAndGlyphs" stroke="#231f20" stroke-width="0.18" font-style="italic">SLC7A8</text>
<text x="296.90" y="721.21" font-size="8.5" textLength="77.16" lengthAdjust="spacingAndGlyphs" stroke="#231f20" stroke-width="0.18" font-style="italic">ENSG0000026060</text>
<text x="296.90" y="729.58" font-size="8.5" textLength="22.66" lengthAdjust="spacingAndGlyphs" stroke="#231f20" stroke-width="0.18" font-style="italic">APOD</text>
<g shape-rendering="crispEdges"><rect x="402.20" y="316.30" width="6.92" height="8.83" fill="#9f181d"/><rect x="408.82" y="316.30" width="6.92" height="8.83" fill="#f9edee"/><rect x="415.45" y="316.30" width="6.92" height="8.83" fill="#eba1a4"/><rect x="422.07" y="316.30" width="6.92" height="8.83" fill="#5e87b4"/><rect x="428.70" y="316.30" width="6.92" height="8.83" fill="#5e87b4"/><rect x="435.32" y="316.30" width="6.92" height="8.83" fill="#5e87b4"/><rect x="402.20" y="324.83" width="6.92" height="8.83" fill="#a61e23"/><rect x="408.82" y="324.83" width="6.92" height="8.83" fill="#de6d72"/><rect x="415.45" y="324.83" width="6.92" height="8.83" fill="#f0b2b4"/><rect x="422.07" y="324.83" width="6.92" height="8.83" fill="#5e87b4"/><rect x="428.70" y="324.83" width="6.92" height="8.83" fill="#5e87b4"/><rect x="435.32" y="324.83" width="6.92" height="8.83" fill="#4473a6"/><rect x="402.20" y="333.35" width="6.92" height="8.83" fill="#a41c21"/><rect x="408.82" y="333.35" width="6.92" height="8.83" fill="#f2bfc1"/><rect x="415.45" y="333.35" width="6.92" height="8.83" fill="#eba1a4"/><rect x="422.07" y="333.35" width="6.92" height="8.83" fill="#7fa0c5"/><rect x="428.70" y="333.35" width="6.92" height="8.83" fill="#6f93bc"/><rect x="435.32" y="333.35" width="6.92" height="8.83" fill="#4473a6"/><rect x="402.20" y="341.88" width="6.92" height="8.83" fill="#a41c21"/><rect x="408.82" y="341.88" width="6.92" height="8.83" fill="#f2bfc1"/><rect x="415.45" y="341.88" width="6.92" height="8.83" fill="#f0b2b4"/><rect x="422.07" y="341.88" width="6.92" height="8.83" fill="#a0b9d6"/><rect x="428.70" y="341.88" width="6.92" height="8.83" fill="#4473a6"/><rect x="435.32" y="341.88" width="6.92" height="8.83" fill="#4473a6"/><rect x="402.20" y="350.40" width="6.92" height="8.83" fill="#a41c21"/><rect x="408.82" y="350.40" width="6.92" height="8.83" fill="#f4ccce"/><rect x="415.45" y="350.40" width="6.92" height="8.83" fill="#de6d72"/><rect x="422.07" y="350.40" width="6.92" height="8.83" fill="#4d79ab"/><rect x="428.70" y="350.40" width="6.92" height="8.83" fill="#90accd"/><rect x="435.32" y="350.40" width="6.92" height="8.83" fill="#4473a6"/><rect x="402.20" y="358.93" width="6.92" height="8.83" fill="#9f181d"/><rect x="408.82" y="358.93" width="6.92" height="8.83" fill="#f0b2b4"/><rect x="415.45" y="358.93" width="6.92" height="8.83" fill="#faf4f4"/><rect x="422.07" y="358.93" width="6.92" height="8.83" fill="#c0cee2"/><rect x="428.70" y="358.93" width="6.92" height="8.83" fill="#5e87b4"/><rect x="435.32" y="358.93" width="6.92" height="8.83" fill="#4473a6"/><rect x="402.20" y="367.46" width="6.92" height="8.83" fill="#9f181d"/><rect x="408.82" y="367.46" width="6.92" height="8.83" fill="#eba1a4"/><rect x="415.45" y="367.46" width="6.92" height="8.83" fill="#f9edee"/><rect x="422.07" y="367.46" width="6.92" height="8.83" fill="#7fa0c5"/><rect x="428.70" y="367.46" width="6.92" height="8.83" fill="#5e87b4"/><rect x="435.32" y="367.46" width="6.92" height="8.83" fill="#4473a6"/><rect x="402.20" y="375.98" width="6.92" height="8.83" fill="#9f181d"/><rect x="408.82" y="375.98" width="6.92" height="8.83" fill="#eba1a4"/><rect x="415.45" y="375.98" width="6.92" height="8.83" fill="#f6dada"/><rect x="422.07" y="375.98" width="6.92" height="8.83" fill="#7fa0c5"/><rect x="428.70" y="375.98" width="6.92" height="8.83" fill="#4473a6"/><rect x="435.32" y="375.98" width="6.92" height="8.83" fill="#4473a6"/><rect x="402.20" y="384.51" width="6.92" height="8.83" fill="#9f181d"/><rect x="408.82" y="384.51" width="6.92" height="8.83" fill="#eba1a4"/><rect x="415.45" y="384.51" width="6.92" height="8.83" fill="#f6dada"/><rect x="422.07" y="384.51" width="6.92" height="8.83" fill="#7fa0c5"/><rect x="428.70" y="384.51" width="6.92" height="8.83" fill="#4473a6"/><rect x="435.32" y="384.51" width="6.92" height="8.83" fill="#5e87b4"/><rect x="402.20" y="393.03" width="6.92" height="8.83" fill="#9f181d"/><rect x="408.82" y="393.03" width="6.92" height="8.83" fill="#e27e83"/><rect x="415.45" y="393.03" width="6.92" height="8.83" fill="#ebebf0"/><rect x="422.07" y="393.03" width="6.92" height="8.83" fill="#6f93bc"/><rect x="428.70" y="393.03" width="6.92" height="8.83" fill="#90accd"/><rect x="435.32" y="393.03" width="6.92" height="8.83" fill="#4473a6"/><rect x="402.20" y="401.56" width="6.92" height="8.83" fill="#ce4b52"/><rect x="408.82" y="401.56" width="6.92" height="8.83" fill="#d95c62"/><rect x="415.45" y="401.56" width="6.92" height="8.83" fill="#d95c62"/><rect x="422.07" y="401.56" width="6.92" height="8.83" fill="#6f93bc"/><rect x="428.70" y="401.56" width="6.92" height="8.83" fill="#5580af"/><rect x="435.32" y="401.56" width="6.92" height="8.83" fill="#4473a6"/><rect x="402.20" y="410.09" width="6.92" height="8.83" fill="#ce4b52"/><rect x="408.82" y="410.09" width="6.92" height="8.83" fill="#e27e83"/><rect x="415.45" y="410.09" width="6.92" height="8.83" fill="#d4535a"/><rect x="422.07" y="410.09" width="6.92" height="8.83" fill="#6f93bc"/><rect x="428.70" y="410.09" width="6.92" height="8.83" fill="#5e87b4"/><rect x="435.32" y="410.09" width="6.92" height="8.83" fill="#4473a6"/><rect x="402.20" y="418.61" width="6.92" height="8.83" fill="#ce4b52"/><rect x="408.82" y="418.61" width="6.92" height="8.83" fill="#d95c62"/><rect x="415.45" y="418.61" width="6.92" height="8.83" fill="#de6d72"/><rect x="422.07" y="418.61" width="6.92" height="8.83" fill="#6f93bc"/><rect x="428.70" y="418.61" width="6.92" height="8.83" fill="#4473a6"/><rect x="435.32" y="418.61" width="6.92" height="8.83" fill="#4d79ab"/><rect x="402.20" y="427.14" width="6.92" height="8.83" fill="#ce4b52"/><rect x="408.82" y="427.14" width="6.92" height="8.83" fill="#d4535a"/><rect x="415.45" y="427.14" width="6.92" height="8.83" fill="#de6d72"/><rect x="422.07" y="427.14" width="6.92" height="8.83" fill="#7fa0c5"/><rect x="428.70" y="427.14" width="6.92" height="8.83" fill="#3c6ca2"/><rect x="435.32" y="427.14" width="6.92" height="8.83" fill="#4d79ab"/><rect x="402.20" y="435.66" width="6.92" height="8.83" fill="#de6d72"/><rect x="408.82" y="435.66" width="6.92" height="8.83" fill="#e27e83"/><rect x="415.45" y="435.66" width="6.92" height="8.83" fill="#c9424a"/><rect x="422.07" y="435.66" width="6.92" height="8.83" fill="#5e87b4"/><rect x="428.70" y="435.66" width="6.92" height="8.83" fill="#4d79ab"/><rect x="435.32" y="435.66" width="6.92" height="8.83" fill="#4d79ab"/><rect x="402.20" y="444.19" width="6.92" height="8.83" fill="#de6d72"/><rect x="408.82" y="444.19" width="6.92" height="8.83" fill="#d4535a"/><rect x="415.45" y="444.19" width="6.92" height="8.83" fill="#c9424a"/><rect x="422.07" y="444.19" width="6.92" height="8.83" fill="#4d79ab"/><rect x="428.70" y="444.19" width="6.92" height="8.83" fill="#4d79ab"/><rect x="435.32" y="444.19" width="6.92" height="8.83" fill="#5580af"/><rect x="402.20" y="452.72" width="6.92" height="8.83" fill="#ce4b52"/><rect x="408.82" y="452.72" width="6.92" height="8.83" fill="#f2bfc1"/><rect x="415.45" y="452.72" width="6.92" height="8.83" fill="#ce4b52"/><rect x="422.07" y="452.72" width="6.92" height="8.83" fill="#4d79ab"/><rect x="428.70" y="452.72" width="6.92" height="8.83" fill="#4473a6"/><rect x="435.32" y="452.72" width="6.92" height="8.83" fill="#90accd"/><rect x="402.20" y="461.24" width="6.92" height="8.83" fill="#ce4b52"/><rect x="408.82" y="461.24" width="6.92" height="8.83" fill="#d95c62"/><rect x="415.45" y="461.24" width="6.92" height="8.83" fill="#f0b2b4"/><rect x="422.07" y="461.24" width="6.92" height="8.83" fill="#a0b9d6"/><rect x="428.70" y="461.24" width="6.92" height="8.83" fill="#33659d"/><rect x="435.32" y="461.24" width="6.92" height="8.83" fill="#6f93bc"/><rect x="402.20" y="469.77" width="6.92" height="8.83" fill="#ce4b52"/><rect x="408.82" y="469.77" width="6.92" height="8.83" fill="#ce4b52"/><rect x="415.45" y="469.77" width="6.92" height="8.83" fill="#faf4f4"/><rect x="422.07" y="469.77" width="6.92" height="8.83" fill="#4473a6"/><rect x="428.70" y="469.77" width="6.92" height="8.83" fill="#7fa0c5"/><rect x="435.32" y="469.77" width="6.92" height="8.83" fill="#5e87b4"/><rect x="402.20" y="478.29" width="6.92" height="8.83" fill="#ce4b52"/><rect x="408.82" y="478.29" width="6.92" height="8.83" fill="#ce4b52"/><rect x="415.45" y="478.29" width="6.92" height="8.83" fill="#f3eff2"/><rect x="422.07" y="478.29" width="6.92" height="8.83" fill="#5580af"/><rect x="428.70" y="478.29" width="6.92" height="8.83" fill="#5580af"/><rect x="435.32" y="478.29" width="6.92" height="8.83" fill="#5e87b4"/><rect x="402.20" y="486.82" width="6.92" height="8.83" fill="#ce4b52"/><rect x="408.82" y="486.82" width="6.92" height="8.83" fill="#c0383f"/><rect x="415.45" y="486.82" width="6.92" height="8.83" fill="#a0b9d6"/><rect x="422.07" y="486.82" width="6.92" height="8.83" fill="#5e87b4"/><rect x="428.70" y="486.82" width="6.92" height="8.83" fill="#6f93bc"/><rect x="435.32" y="486.82" width="6.92" height="8.83" fill="#5e87b4"/><rect x="402.20" y="495.35" width="6.92" height="8.83" fill="#e79093"/><rect x="408.82" y="495.35" width="6.92" height="8.83" fill="#c9424a"/><rect x="415.45" y="495.35" width="6.92" height="8.83" fill="#d4535a"/><rect x="422.07" y="495.35" width="6.92" height="8.83" fill="#4473a6"/><rect x="428.70" y="495.35" width="6.92" height="8.83" fill="#4473a6"/><rect x="435.32" y="495.35" width="6.92" height="8.83" fill="#6f93bc"/><rect x="402.20" y="503.87" width="6.92" height="8.83" fill="#eba1a4"/><rect x="408.82" y="503.87" width="6.92" height="8.83" fill="#d4535a"/><rect x="415.45" y="503.87" width="6.92" height="8.83" fill="#ce4b52"/><rect x="422.07" y="503.87" width="6.92" height="8.83" fill="#4473a6"/><rect x="428.70" y="503.87" width="6.92" height="8.83" fill="#3c6ca2"/><rect x="435.32" y="503.87" width="6.92" height="8.83" fill="#6f93bc"/><rect x="402.20" y="512.40" width="6.92" height="8.83" fill="#f0b2b4"/><rect x="408.82" y="512.40" width="6.92" height="8.83" fill="#ce4b52"/><rect x="415.45" y="512.40" width="6.92" height="8.83" fill="#ce4b52"/><rect x="422.07" y="512.40" width="6.92" height="8.83" fill="#4473a6"/><rect x="428.70" y="512.40" width="6.92" height="8.83" fill="#3c6ca2"/><rect x="435.32" y="512.40" width="6.92" height="8.83" fill="#6f93bc"/><rect x="402.20" y="520.92" width="6.92" height="8.83" fill="#f2bfc1"/><rect x="408.82" y="520.92" width="6.92" height="8.83" fill="#ce4b52"/><rect x="415.45" y="520.92" width="6.92" height="8.83" fill="#d4535a"/><rect x="422.07" y="520.92" width="6.92" height="8.83" fill="#5580af"/><rect x="428.70" y="520.92" width="6.92" height="8.83" fill="#3c6ca2"/><rect x="435.32" y="520.92" width="6.92" height="8.83" fill="#7fa0c5"/><rect x="402.20" y="529.45" width="6.92" height="8.83" fill="#eba1a4"/><rect x="408.82" y="529.45" width="6.92" height="8.83" fill="#eba1a4"/><rect x="415.45" y="529.45" width="6.92" height="8.83" fill="#c9424a"/><rect x="422.07" y="529.45" width="6.92" height="8.83" fill="#5580af"/><rect x="428.70" y="529.45" width="6.92" height="8.83" fill="#3c6ca2"/><rect x="435.32" y="529.45" width="6.92" height="8.83" fill="#7fa0c5"/><rect x="402.20" y="537.98" width="6.92" height="8.83" fill="#f9edee"/><rect x="408.82" y="537.98" width="6.92" height="8.83" fill="#d4535a"/><rect x="415.45" y="537.98" width="6.92" height="8.83" fill="#c9424a"/><rect x="422.07" y="537.98" width="6.92" height="8.83" fill="#5e87b4"/><rect x="428.70" y="537.98" width="6.92" height="8.83" fill="#5e87b4"/><rect x="435.32" y="537.98" width="6.92" height="8.83" fill="#4473a6"/><rect x="402.20" y="546.50" width="6.92" height="8.83" fill="#faf4f4"/><rect x="408.82" y="546.50" width="6.92" height="8.83" fill="#d4535a"/><rect x="415.45" y="546.50" width="6.92" height="8.83" fill="#c9424a"/><rect x="422.07" y="546.50" width="6.92" height="8.83" fill="#4473a6"/><rect x="428.70" y="546.50" width="6.92" height="8.83" fill="#5e87b4"/><rect x="435.32" y="546.50" width="6.92" height="8.83" fill="#a0b9d6"/><rect x="402.20" y="555.03" width="6.92" height="8.83" fill="#c0cee2"/><rect x="408.82" y="555.03" width="6.92" height="8.83" fill="#d95c62"/><rect x="415.45" y="555.03" width="6.92" height="8.83" fill="#ae242a"/><rect x="422.07" y="555.03" width="6.92" height="8.83" fill="#6f93bc"/><rect x="428.70" y="555.03" width="6.92" height="8.83" fill="#5e87b4"/><rect x="435.32" y="555.03" width="6.92" height="8.83" fill="#6f93bc"/><rect x="402.20" y="563.55" width="6.92" height="8.83" fill="#90accd"/><rect x="408.82" y="563.55" width="6.92" height="8.83" fill="#5580af"/><rect x="415.45" y="563.55" width="6.92" height="8.83" fill="#4473a6"/><rect x="422.07" y="563.55" width="6.92" height="8.83" fill="#f0b2b4"/><rect x="428.70" y="563.55" width="6.92" height="8.83" fill="#ae242a"/><rect x="435.32" y="563.55" width="6.92" height="8.83" fill="#f2bfc1"/><rect x="402.20" y="572.08" width="6.92" height="8.83" fill="#5e87b4"/><rect x="408.82" y="572.08" width="6.92" height="8.83" fill="#7fa0c5"/><rect x="415.45" y="572.08" width="6.92" height="8.83" fill="#4473a6"/><rect x="422.07" y="572.08" width="6.92" height="8.83" fill="#d95c62"/><rect x="428.70" y="572.08" width="6.92" height="8.83" fill="#ae242a"/><rect x="435.32" y="572.08" width="6.92" height="8.83" fill="#f3eff2"/><rect x="402.20" y="580.61" width="6.92" height="8.83" fill="#b1c5de"/><rect x="408.82" y="580.61" width="6.92" height="8.83" fill="#4473a6"/><rect x="415.45" y="580.61" width="6.92" height="8.83" fill="#3c6ca2"/><rect x="422.07" y="580.61" width="6.92" height="8.83" fill="#e27e83"/><rect x="428.70" y="580.61" width="6.92" height="8.83" fill="#ce4b52"/><rect x="435.32" y="580.61" width="6.92" height="8.83" fill="#ce4b52"/><rect x="402.20" y="589.13" width="6.92" height="8.83" fill="#33659d"/><rect x="408.82" y="589.13" width="6.92" height="8.83" fill="#90accd"/><rect x="415.45" y="589.13" width="6.92" height="8.83" fill="#4d79ab"/><rect x="422.07" y="589.13" width="6.92" height="8.83" fill="#d4535a"/><rect x="428.70" y="589.13" width="6.92" height="8.83" fill="#ce4b52"/><rect x="435.32" y="589.13" width="6.92" height="8.83" fill="#f0b2b4"/><rect x="402.20" y="597.66" width="6.92" height="8.83" fill="#4473a6"/><rect x="408.82" y="597.66" width="6.92" height="8.83" fill="#4d79ab"/><rect x="415.45" y="597.66" width="6.92" height="8.83" fill="#6f93bc"/><rect x="422.07" y="597.66" width="6.92" height="8.83" fill="#f0b2b4"/><rect x="428.70" y="597.66" width="6.92" height="8.83" fill="#c9424a"/><rect x="435.32" y="597.66" width="6.92" height="8.83" fill="#d95c62"/><rect x="402.20" y="606.18" width="6.92" height="8.83" fill="#4473a6"/><rect x="408.82" y="606.18" width="6.92" height="8.83" fill="#6f93bc"/><rect x="415.45" y="606.18" width="6.92" height="8.83" fill="#5580af"/><rect x="422.07" y="606.18" width="6.92" height="8.83" fill="#f0b2b4"/><rect x="428.70" y="606.18" width="6.92" height="8.83" fill="#c9424a"/><rect x="435.32" y="606.18" width="6.92" height="8.83" fill="#d4535a"/><rect x="402.20" y="614.71" width="6.92" height="8.83" fill="#5e87b4"/><rect x="408.82" y="614.71" width="6.92" height="8.83" fill="#90accd"/><rect x="415.45" y="614.71" width="6.92" height="8.83" fill="#5e87b4"/><rect x="422.07" y="614.71" width="6.92" height="8.83" fill="#c0cee2"/><rect x="428.70" y="614.71" width="6.92" height="8.83" fill="#d95c62"/><rect x="435.32" y="614.71" width="6.92" height="8.83" fill="#ae242a"/><rect x="402.20" y="623.24" width="6.92" height="8.83" fill="#5580af"/><rect x="408.82" y="623.24" width="6.92" height="8.83" fill="#5580af"/><rect x="415.45" y="623.24" width="6.92" height="8.83" fill="#5e87b4"/><rect x="422.07" y="623.24" width="6.92" height="8.83" fill="#f9edee"/><rect x="428.70" y="623.24" width="6.92" height="8.83" fill="#d95c62"/><rect x="435.32" y="623.24" width="6.92" height="8.83" fill="#ae242a"/><rect x="402.20" y="631.76" width="6.92" height="8.83" fill="#5e87b4"/><rect x="408.82" y="631.76" width="6.92" height="8.83" fill="#5e87b4"/><rect x="415.45" y="631.76" width="6.92" height="8.83" fill="#4473a6"/><rect x="422.07" y="631.76" width="6.92" height="8.83" fill="#f8e7e7"/><rect x="428.70" y="631.76" width="6.92" height="8.83" fill="#d95c62"/><rect x="435.32" y="631.76" width="6.92" height="8.83" fill="#ae242a"/><rect x="402.20" y="640.29" width="6.92" height="8.83" fill="#4473a6"/><rect x="408.82" y="640.29" width="6.92" height="8.83" fill="#6f93bc"/><rect x="415.45" y="640.29" width="6.92" height="8.83" fill="#5e87b4"/><rect x="422.07" y="640.29" width="6.92" height="8.83" fill="#f5d3d4"/><rect x="428.70" y="640.29" width="6.92" height="8.83" fill="#e79093"/><rect x="435.32" y="640.29" width="6.92" height="8.83" fill="#ae242a"/><rect x="402.20" y="648.81" width="6.92" height="8.83" fill="#7fa0c5"/><rect x="408.82" y="648.81" width="6.92" height="8.83" fill="#5e87b4"/><rect x="415.45" y="648.81" width="6.92" height="8.83" fill="#5e87b4"/><rect x="422.07" y="648.81" width="6.92" height="8.83" fill="#eba1a4"/><rect x="428.70" y="648.81" width="6.92" height="8.83" fill="#e4e6ed"/><rect x="435.32" y="648.81" width="6.92" height="8.83" fill="#a41c21"/><rect x="402.20" y="657.34" width="6.92" height="8.83" fill="#6f93bc"/><rect x="408.82" y="657.34" width="6.92" height="8.83" fill="#5580af"/><rect x="415.45" y="657.34" width="6.92" height="8.83" fill="#5e87b4"/><rect x="422.07" y="657.34" width="6.92" height="8.83" fill="#d95c62"/><rect x="428.70" y="657.34" width="6.92" height="8.83" fill="#ced8e7"/><rect x="435.32" y="657.34" width="6.92" height="8.83" fill="#ae242a"/><rect x="402.20" y="665.87" width="6.92" height="8.83" fill="#5e87b4"/><rect x="408.82" y="665.87" width="6.92" height="8.83" fill="#5580af"/><rect x="415.45" y="665.87" width="6.92" height="8.83" fill="#6f93bc"/><rect x="422.07" y="665.87" width="6.92" height="8.83" fill="#ce4b52"/><rect x="428.70" y="665.87" width="6.92" height="8.83" fill="#e4e6ed"/><rect x="435.32" y="665.87" width="6.92" height="8.83" fill="#b72e35"/><rect x="402.20" y="674.39" width="6.92" height="8.83" fill="#5e87b4"/><rect x="408.82" y="674.39" width="6.92" height="8.83" fill="#4473a6"/><rect x="415.45" y="674.39" width="6.92" height="8.83" fill="#90accd"/><rect x="422.07" y="674.39" width="6.92" height="8.83" fill="#de6d72"/><rect x="428.70" y="674.39" width="6.92" height="8.83" fill="#faf4f4"/><rect x="435.32" y="674.39" width="6.92" height="8.83" fill="#b72e35"/><rect x="402.20" y="682.92" width="6.92" height="8.83" fill="#90accd"/><rect x="408.82" y="682.92" width="6.92" height="8.83" fill="#5e87b4"/><rect x="415.45" y="682.92" width="6.92" height="8.83" fill="#3c6ca2"/><rect x="422.07" y="682.92" width="6.92" height="8.83" fill="#eba1a4"/><rect x="428.70" y="682.92" width="6.92" height="8.83" fill="#f2bfc1"/><rect x="435.32" y="682.92" width="6.92" height="8.83" fill="#ae242a"/><rect x="402.20" y="691.44" width="6.92" height="8.83" fill="#6f93bc"/><rect x="408.82" y="691.44" width="6.92" height="8.83" fill="#6f93bc"/><rect x="415.45" y="691.44" width="6.92" height="8.83" fill="#4473a6"/><rect x="422.07" y="691.44" width="6.92" height="8.83" fill="#f1b9ba"/><rect x="428.70" y="691.44" width="6.92" height="8.83" fill="#f1b9ba"/><rect x="435.32" y="691.44" width="6.92" height="8.83" fill="#ae242a"/><rect x="402.20" y="699.97" width="6.92" height="8.83" fill="#4473a6"/><rect x="408.82" y="699.97" width="6.92" height="8.83" fill="#4d79ab"/><rect x="415.45" y="699.97" width="6.92" height="8.83" fill="#6f93bc"/><rect x="422.07" y="699.97" width="6.92" height="8.83" fill="#eba1a4"/><rect x="428.70" y="699.97" width="6.92" height="8.83" fill="#f2bfc1"/><rect x="435.32" y="699.97" width="6.92" height="8.83" fill="#ae242a"/><rect x="402.20" y="708.50" width="6.92" height="8.83" fill="#5580af"/><rect x="408.82" y="708.50" width="6.92" height="8.83" fill="#4d79ab"/><rect x="415.45" y="708.50" width="6.92" height="8.83" fill="#5580af"/><rect x="422.07" y="708.50" width="6.92" height="8.83" fill="#eba1a4"/><rect x="428.70" y="708.50" width="6.92" height="8.83" fill="#f4ccce"/><rect x="435.32" y="708.50" width="6.92" height="8.83" fill="#ae242a"/><rect x="402.20" y="717.02" width="6.92" height="8.83" fill="#c0cee2"/><rect x="408.82" y="717.02" width="6.92" height="8.83" fill="#4473a6"/><rect x="415.45" y="717.02" width="6.92" height="8.83" fill="#3c6ca2"/><rect x="422.07" y="717.02" width="6.92" height="8.83" fill="#ce4b52"/><rect x="428.70" y="717.02" width="6.92" height="8.83" fill="#f4ccce"/><rect x="435.32" y="717.02" width="6.92" height="8.83" fill="#c0383f"/><rect x="402.20" y="725.55" width="6.92" height="8.83" fill="#6f93bc"/><rect x="408.82" y="725.55" width="6.92" height="8.83" fill="#6f93bc"/><rect x="415.45" y="725.55" width="6.92" height="8.83" fill="#5e87b4"/><rect x="422.07" y="725.55" width="6.92" height="8.83" fill="#a41c21"/><rect x="428.70" y="725.55" width="6.92" height="8.83" fill="#eba1a4"/><rect x="435.32" y="725.55" width="6.92" height="8.83" fill="#b1c5de"/><rect x="402.20" y="734.07" width="6.92" height="8.83" fill="#6f93bc"/><rect x="408.82" y="734.07" width="6.92" height="8.83" fill="#4d79ab"/><rect x="415.45" y="734.07" width="6.92" height="8.83" fill="#4473a6"/><rect x="422.07" y="734.07" width="6.92" height="8.83" fill="#ae242a"/><rect x="428.70" y="734.07" width="6.92" height="8.83" fill="#f2bfc1"/><rect x="435.32" y="734.07" width="6.92" height="8.83" fill="#f2bfc1"/></g>
<text x="445.90" y="324.20" font-size="8.5" textLength="43.65" lengthAdjust="spacingAndGlyphs" stroke="#231f20" stroke-width="0.18" font-style="italic">LINC01088</text>
<text x="445.90" y="332.70" font-size="8.5" textLength="35.05" lengthAdjust="spacingAndGlyphs" stroke="#231f20" stroke-width="0.18" font-style="italic">NUDT116</text>
<text x="445.90" y="341.19" font-size="8.5" textLength="21.81" lengthAdjust="spacingAndGlyphs" stroke="#231f20" stroke-width="0.18" font-style="italic">PDK4</text>
<text x="445.90" y="349.69" font-size="8.5" textLength="17.35" lengthAdjust="spacingAndGlyphs" stroke="#231f20" stroke-width="0.18" font-style="italic">NID1</text>
<text x="445.90" y="358.18" font-size="8.5" textLength="21.85" lengthAdjust="spacingAndGlyphs" stroke="#231f20" stroke-width="0.18" font-style="italic">MRC1</text>
<text x="445.90" y="366.68" font-size="8.5" textLength="40.26" lengthAdjust="spacingAndGlyphs" stroke="#231f20" stroke-width="0.18" font-style="italic">CRISPLD2</text>
<text x="445.90" y="375.18" font-size="8.5" textLength="27.21" lengthAdjust="spacingAndGlyphs" stroke="#231f20" stroke-width="0.18" font-style="italic">CES4A</text>
<text x="445.90" y="383.67" font-size="8.5" textLength="27.26" lengthAdjust="spacingAndGlyphs" stroke="#231f20" stroke-width="0.18" font-style="italic">USP53</text>
<text x="445.90" y="392.17" font-size="8.5" textLength="31.76" lengthAdjust="spacingAndGlyphs" stroke="#231f20" stroke-width="0.18" font-style="italic">SLC7A8</text>
<text x="445.90" y="400.66" font-size="8.5" textLength="33.51" lengthAdjust="spacingAndGlyphs" stroke="#231f20" stroke-width="0.18" font-style="italic">ANKRD2</text>
<text x="445.90" y="409.16" font-size="8.5" textLength="28.10" lengthAdjust="spacingAndGlyphs" stroke="#231f20" stroke-width="0.18" font-style="italic">CSDC2</text>
<text x="445.90" y="417.66" font-size="8.5" textLength="30.86" lengthAdjust="spacingAndGlyphs" stroke="#231f20" stroke-width="0.18" font-style="italic">KLHL36</text>
<text x="445.90" y="426.15" font-size="8.5" textLength="15.01" lengthAdjust="spacingAndGlyphs" stroke="#231f20" stroke-width="0.18" font-style="italic">PPL</text>
<text x="445.90" y="434.65" font-size="8.5" textLength="24.50" lengthAdjust="spacingAndGlyphs" stroke="#231f20" stroke-width="0.18" font-style="italic">ODIT4</text>
<text x="445.90" y="443.14" font-size="8.5" textLength="36.80" lengthAdjust="spacingAndGlyphs" stroke="#231f20" stroke-width="0.18" font-style="italic">FAM155B</text>
<text x="445.90" y="451.64" font-size="8.5" textLength="26.00" lengthAdjust="spacingAndGlyphs" stroke="#231f20" stroke-width="0.18" font-style="italic">CD163</text>
<text x="445.90" y="460.14" font-size="8.5" textLength="26.31" lengthAdjust="spacingAndGlyphs" stroke="#231f20" stroke-width="0.18" font-style="italic">FKBP5</text>
<text x="445.90" y="468.63" font-size="8.5" textLength="38.10" lengthAdjust="spacingAndGlyphs" stroke="#231f20" stroke-width="0.18" font-style="italic">TSC22D3</text>
<text x="445.90" y="477.13" font-size="8.5" textLength="22.70" lengthAdjust="spacingAndGlyphs" stroke="#231f20" stroke-width="0.18" font-style="italic">CCN2</text>
<text x="445.90" y="485.62" font-size="8.5" textLength="38.96" lengthAdjust="spacingAndGlyphs" stroke="#231f20" stroke-width="0.18" font-style="italic">SERPINE1</text>
<text x="445.90" y="494.12" font-size="8.5" textLength="30.86" lengthAdjust="spacingAndGlyphs" stroke="#231f20" stroke-width="0.18" font-style="italic">DLGAP1</text>
<text x="445.90" y="502.62" font-size="8.5" textLength="31.76" lengthAdjust="spacingAndGlyphs" stroke="#231f20" stroke-width="0.18" font-style="italic">CSRNP1</text>
<text x="445.90" y="511.11" font-size="8.5" textLength="17.70" lengthAdjust="spacingAndGlyphs" stroke="#231f20" stroke-width="0.18" font-style="italic">CPM</text>
<text x="445.90" y="519.61" font-size="8.5" textLength="33.95" lengthAdjust="spacingAndGlyphs" stroke="#231f20" stroke-width="0.18" font-style="italic">ARRDC2</text>
<text x="445.90" y="528.10" font-size="8.5" textLength="30.91" lengthAdjust="spacingAndGlyphs" stroke="#231f20" stroke-width="0.18" font-style="italic">CYP4B1</text>
<text x="445.90" y="536.60" font-size="8.5" textLength="27.65" lengthAdjust="spacingAndGlyphs" stroke="#231f20" stroke-width="0.18" font-style="italic">ATOH8</text>
<text x="445.90" y="545.10" font-size="8.5" textLength="27.65" lengthAdjust="spacingAndGlyphs" stroke="#231f20" stroke-width="0.18" font-style="italic">MBNL3</text>
<text x="445.90" y="553.59" font-size="8.5" textLength="25.91" lengthAdjust="spacingAndGlyphs" stroke="#231f20" stroke-width="0.18" font-style="italic">KCNB1</text>
<text x="445.90" y="562.09" font-size="8.5" textLength="27.66" lengthAdjust="spacingAndGlyphs" stroke="#231f20" stroke-width="0.18" font-style="italic">SGPP2</text>
<text x="445.90" y="570.58" font-size="8.5" textLength="31.76" lengthAdjust="spacingAndGlyphs" stroke="#231f20" stroke-width="0.18" font-style="italic">SLC6A6</text>
<text x="445.90" y="579.08" font-size="8.5" textLength="38.06" lengthAdjust="spacingAndGlyphs" stroke="#231f20" stroke-width="0.18" font-style="italic">LRRC77P</text>
<text x="445.90" y="587.58" font-size="8.5" textLength="27.30" lengthAdjust="spacingAndGlyphs" stroke="#231f20" stroke-width="0.18" font-style="italic">IL17RD</text>
<text x="445.90" y="596.07" font-size="8.5" textLength="30.90" lengthAdjust="spacingAndGlyphs" stroke="#231f20" stroke-width="0.18" font-style="italic">LRRC10</text>
<text x="445.90" y="604.57" font-size="8.5" textLength="20.06" lengthAdjust="spacingAndGlyphs" stroke="#231f20" stroke-width="0.18" font-style="italic">NAV1</text>
<text x="445.90" y="613.06" font-size="8.5" textLength="19.15" lengthAdjust="spacingAndGlyphs" stroke="#231f20" stroke-width="0.18" font-style="italic">GJA1</text>
<text x="445.90" y="621.56" font-size="8.5" textLength="22.30" lengthAdjust="spacingAndGlyphs" stroke="#231f20" stroke-width="0.18" font-style="italic">GRM1</text>
<text x="445.90" y="630.06" font-size="8.5" textLength="30.41" lengthAdjust="spacingAndGlyphs" stroke="#231f20" stroke-width="0.18" font-style="italic">PHLDA1</text>
<text x="445.90" y="638.55" font-size="8.5" textLength="25.90" lengthAdjust="spacingAndGlyphs" stroke="#231f20" stroke-width="0.18" font-style="italic">CGNL1</text>
<text x="445.90" y="647.05" font-size="8.5" textLength="23.15" lengthAdjust="spacingAndGlyphs" stroke="#231f20" stroke-width="0.18" font-style="italic">FBNl2</text>
<text x="445.90" y="655.54" font-size="8.5" textLength="22.30" lengthAdjust="spacingAndGlyphs" stroke="#231f20" stroke-width="0.18" font-style="italic">TNNI1</text>
<text x="445.90" y="664.04" font-size="8.5" textLength="33.06" lengthAdjust="spacingAndGlyphs" stroke="#231f20" stroke-width="0.18" font-style="italic">SCUBE3</text>
<text x="445.90" y="672.54" font-size="8.5" textLength="82.61" lengthAdjust="spacingAndGlyphs" stroke="#231f20" stroke-width="0.18" font-style="italic">ENSG00000237807</text>
<text x="445.90" y="681.03" font-size="8.5" textLength="23.10" lengthAdjust="spacingAndGlyphs" stroke="#231f20" stroke-width="0.18" font-style="italic">MYOF</text>
<text x="445.90" y="689.53" font-size="8.5" textLength="28.50" lengthAdjust="spacingAndGlyphs" stroke="#231f20" stroke-width="0.18" font-style="italic">CRNDE</text>
<text x="445.90" y="698.02" font-size="8.5" textLength="10.10" lengthAdjust="spacingAndGlyphs" stroke="#231f20" stroke-width="0.18" font-style="italic">F3</text>
<text x="445.90" y="706.52" font-size="8.5" textLength="22.21" lengthAdjust="spacingAndGlyphs" stroke="#231f20" stroke-width="0.18" font-style="italic">NREP</text>
<text x="445.90" y="715.02" font-size="8.5" textLength="33.51" lengthAdjust="spacingAndGlyphs" stroke="#231f20" stroke-width="0.18" font-style="italic">SEMA5A</text>
<text x="445.90" y="723.51" font-size="8.5" textLength="18.65" lengthAdjust="spacingAndGlyphs" stroke="#231f20" stroke-width="0.18" font-style="italic">IRX3</text>
<text x="445.90" y="732.01" font-size="8.5" textLength="16.36" lengthAdjust="spacingAndGlyphs" stroke="#231f20" stroke-width="0.18" font-style="italic">HBB</text>
<text x="445.90" y="740.50" font-size="8.5" textLength="19.11" lengthAdjust="spacingAndGlyphs" stroke="#231f20" stroke-width="0.18" font-style="italic">TLL2</text>
<rect x="538.70" y="537.20" width="15.10" height="1.2" fill="#45b3e3"/>
<rect x="555.40" y="537.20" width="39.00" height="1.2" fill="#9b62be"/>
<text x="504.00" y="545.60" font-size="6.9" textLength="49.00" lengthAdjust="spacingAndGlyphs" fill="#45b3e3" stroke="#45b3e3" stroke-width="0.18">B-prePEA_septum</text>
<text x="555.40" y="545.60" font-size="6.9" textLength="42.90" lengthAdjust="spacingAndGlyphs" fill="#8c8c8c" stroke="#8c8c8c" stroke-width="0.18">Control_septum</text>
<rect x="253.10" y="734.60" width="20.00" height="1.2" fill="#9b62be"/>
<rect x="274.10" y="734.60" width="19.80" height="1.2" fill="#45b3e3"/>
<text x="238.00" y="742.30" font-size="6.2" textLength="34.80" lengthAdjust="spacingAndGlyphs" fill="#9b62be" stroke="#9b62be" stroke-width="0.18">B-prePEA_RV</text>
<text x="274.10" y="742.30" font-size="6.2" textLength="48.70" lengthAdjust="spacingAndGlyphs" fill="#45b3e3" stroke="#45b3e3" stroke-width="0.18">B-prePEA_septum</text>
<rect x="402.10" y="746.80" width="20.10" height="1.2" fill="#9b62be"/>
<rect x="424.30" y="746.80" width="19.60" height="1.2" fill="#4a63c0"/>
<text x="386.90" y="753.50" font-size="6.2" textLength="35.30" lengthAdjust="spacingAndGlyphs" fill="#9b62be" stroke="#9b62be" stroke-width="0.18">B-prePEA_RV</text>
<text x="423.80" y="753.50" font-size="6.2" textLength="51.40" lengthAdjust="spacingAndGlyphs" fill="#4a63c0" stroke="#4a63c0" stroke-width="0.18">B-postPEA_septum</text>
<defs><linearGradient id="cb" x1="0" x2="1" y1="0" y2="0">
<stop offset="0" stop-color="#213d8e"/><stop offset="0.22" stop-color="#2c4f98"/><stop offset="0.36" stop-color="#4f7aad"/>
<stop offset="0.46" stop-color="#cfdcea"/><stop offset="0.5" stop-color="#ffffff"/><stop offset="0.56" stop-color="#f6d2d2"/>
<stop offset="0.66" stop-color="#dc7272"/><stop offset="0.8" stop-color="#b52a2e"/><stop offset="1" stop-color="#8e0f12"/>
</linearGradient></defs>
<text x="641.60" y="492.70" font-size="8.3" textLength="42.30" lengthAdjust="spacingAndGlyphs" stroke="#231f20" stroke-width="0.18">Expression</text>
<text x="646.00" y="500.80" font-size="8.3" stroke="#231f20" stroke-width="0.18" textLength="29.40" lengthAdjust="spacingAndGlyphs"><tspan font-style="italic">z</tspan>-score</text>
<rect x="639.00" y="507.00" width="42.10" height="8.00" fill="url(#cb)"/>
<line x1="640.20" y1="513.80" x2="640.20" y2="515.00" stroke="#fff" stroke-width="0.5" opacity="0.8"/>
<text x="640.20" y="523.80" font-size="6.6" text-anchor="middle" stroke="#231f20" stroke-width="0.18">−4</text>
<line x1="650.12" y1="513.80" x2="650.12" y2="515.00" stroke="#fff" stroke-width="0.5" opacity="0.8"/>
<text x="650.12" y="523.80" font-size="6.6" text-anchor="middle" stroke="#231f20" stroke-width="0.18">−2</text>
<line x1="660.05" y1="513.80" x2="660.05" y2="515.00" stroke="#fff" stroke-width="0.5" opacity="0.8"/>
<text x="660.05" y="523.80" font-size="6.6" text-anchor="middle" stroke="#231f20" stroke-width="0.18">0</text>
<line x1="669.98" y1="513.80" x2="669.98" y2="515.00" stroke="#fff" stroke-width="0.5" opacity="0.8"/>
<text x="669.98" y="523.80" font-size="6.6" text-anchor="middle" stroke="#231f20" stroke-width="0.18">2</text>
<line x1="679.90" y1="513.80" x2="679.90" y2="515.00" stroke="#fff" stroke-width="0.5" opacity="0.8"/>
<text x="679.90" y="523.80" font-size="6.6" text-anchor="middle" stroke="#231f20" stroke-width="0.18">4</text>
<text x="235.50" y="766.90" font-size="8.3" textLength="42.40" lengthAdjust="spacingAndGlyphs" stroke="#231f20" stroke-width="0.18">Expression</text>
<text x="242.40" y="776.60" font-size="8.3" stroke="#231f20" stroke-width="0.18" textLength="28.20" lengthAdjust="spacingAndGlyphs"><tspan font-style="italic">z</tspan>-score</text>
<rect x="282.10" y="762.80" width="43.10" height="8.40" fill="url(#cb)"/>
<line x1="283.30" y1="770.00" x2="283.30" y2="771.20" stroke="#fff" stroke-width="0.5" opacity="0.8"/>
<text x="283.30" y="780.70" font-size="6.6" text-anchor="middle" stroke="#231f20" stroke-width="0.18">−2</text>
<line x1="293.48" y1="770.00" x2="293.48" y2="771.20" stroke="#fff" stroke-width="0.5" opacity="0.8"/>
<text x="293.48" y="780.70" font-size="6.6" text-anchor="middle" stroke="#231f20" stroke-width="0.18">−1</text>
<line x1="303.65" y1="770.00" x2="303.65" y2="771.20" stroke="#fff" stroke-width="0.5" opacity="0.8"/>
<text x="303.65" y="780.70" font-size="6.6" text-anchor="middle" stroke="#231f20" stroke-width="0.18">0</text>
<line x1="313.82" y1="770.00" x2="313.82" y2="771.20" stroke="#fff" stroke-width="0.5" opacity="0.8"/>
<text x="313.82" y="780.70" font-size="6.6" text-anchor="middle" stroke="#231f20" stroke-width="0.18">1</text>
<line x1="324.00" y1="770.00" x2="324.00" y2="771.20" stroke="#fff" stroke-width="0.5" opacity="0.8"/>
<text x="324.00" y="780.70" font-size="6.6" text-anchor="middle" stroke="#231f20" stroke-width="0.18">2</text>
<text x="376.40" y="766.60" font-size="8.3" textLength="42.60" lengthAdjust="spacingAndGlyphs" stroke="#231f20" stroke-width="0.18">Expression</text>
<text x="382.80" y="776.30" font-size="8.3" stroke="#231f20" stroke-width="0.18" textLength="29.30" lengthAdjust="spacingAndGlyphs"><tspan font-style="italic">z</tspan>-score</text>
<rect x="423.00" y="762.60" width="42.60" height="8.10" fill="url(#cb)"/>
<line x1="424.20" y1="769.50" x2="424.20" y2="770.70" stroke="#fff" stroke-width="0.5" opacity="0.8"/>
<text x="424.20" y="780.30" font-size="6.6" text-anchor="middle" stroke="#231f20" stroke-width="0.18">−2</text>
<line x1="434.25" y1="769.50" x2="434.25" y2="770.70" stroke="#fff" stroke-width="0.5" opacity="0.8"/>
<text x="434.25" y="780.30" font-size="6.6" text-anchor="middle" stroke="#231f20" stroke-width="0.18">−1</text>
<line x1="444.30" y1="769.50" x2="444.30" y2="770.70" stroke="#fff" stroke-width="0.5" opacity="0.8"/>
<text x="444.30" y="780.30" font-size="6.6" text-anchor="middle" stroke="#231f20" stroke-width="0.18">0</text>
<line x1="454.35" y1="769.50" x2="454.35" y2="770.70" stroke="#fff" stroke-width="0.5" opacity="0.8"/>
<text x="454.35" y="780.30" font-size="6.6" text-anchor="middle" stroke="#231f20" stroke-width="0.18">1</text>
<line x1="464.40" y1="769.50" x2="464.40" y2="770.70" stroke="#fff" stroke-width="0.5" opacity="0.8"/>
<text x="464.40" y="780.30" font-size="6.6" text-anchor="middle" stroke="#231f20" stroke-width="0.18">2</text>
<line x1="517.50" y1="137.40" x2="517.50" y2="451.40" stroke="#8a8a8a" stroke-width="0.8"/>
<line x1="537.96" y1="119.88" x2="538.90" y2="119.88" stroke="#6e6e6e" stroke-width="0.6"/>
<line x1="537.96" y1="128.24" x2="538.90" y2="128.24" stroke="#6e6e6e" stroke-width="0.6"/>
<line x1="537.96" y1="119.88" x2="537.96" y2="128.24" stroke="#6e6e6e" stroke-width="0.6"/>
<line x1="537.20" y1="124.06" x2="537.96" y2="124.06" stroke="#6e6e6e" stroke-width="0.6"/>
<line x1="537.20" y1="136.61" x2="538.90" y2="136.61" stroke="#6e6e6e" stroke-width="0.6"/>
<line x1="537.20" y1="124.06" x2="537.20" y2="136.61" stroke="#6e6e6e" stroke-width="0.6"/>
<line x1="535.40" y1="130.33" x2="537.20" y2="130.33" stroke="#6e6e6e" stroke-width="0.6"/>
<line x1="535.40" y1="144.97" x2="538.90" y2="144.97" stroke="#6e6e6e" stroke-width="0.6"/>
<line x1="535.40" y1="130.33" x2="535.40" y2="144.97" stroke="#6e6e6e" stroke-width="0.6"/>
<line x1="517.50" y1="137.40" x2="535.40" y2="137.40" stroke="#8a8a8a" stroke-width="0.8"/>
<line x1="538.74" y1="153.33" x2="538.90" y2="153.33" stroke="#5a5a5a" stroke-width="0.5"/>
<line x1="538.74" y1="161.69" x2="538.90" y2="161.69" stroke="#5a5a5a" stroke-width="0.5"/>
<line x1="538.74" y1="153.33" x2="538.74" y2="161.69" stroke="#5a5a5a" stroke-width="0.5"/>
<line x1="538.66" y1="157.51" x2="538.74" y2="157.51" stroke="#5a5a5a" stroke-width="0.5"/>
<line x1="538.77" y1="170.05" x2="538.90" y2="170.05" stroke="#5a5a5a" stroke-width="0.5"/>
<line x1="538.77" y1="178.42" x2="538.90" y2="178.42" stroke="#5a5a5a" stroke-width="0.5"/>
<line x1="538.77" y1="170.05" x2="538.77" y2="178.42" stroke="#5a5a5a" stroke-width="0.5"/>
<line x1="538.75" y1="174.23" x2="538.77" y2="174.23" stroke="#5a5a5a" stroke-width="0.5"/>
<line x1="538.79" y1="186.78" x2="538.90" y2="186.78" stroke="#5a5a5a" stroke-width="0.5"/>
<line x1="538.79" y1="195.14" x2="538.90" y2="195.14" stroke="#5a5a5a" stroke-width="0.5"/>
<line x1="538.79" y1="186.78" x2="538.79" y2="195.14" stroke="#5a5a5a" stroke-width="0.5"/>
<line x1="538.75" y1="190.96" x2="538.79" y2="190.96" stroke="#5a5a5a" stroke-width="0.5"/>
<line x1="538.75" y1="174.23" x2="538.75" y2="190.96" stroke="#5a5a5a" stroke-width="0.5"/>
<line x1="538.66" y1="182.60" x2="538.75" y2="182.60" stroke="#5a5a5a" stroke-width="0.5"/>
<line x1="538.66" y1="157.51" x2="538.66" y2="182.60" stroke="#5a5a5a" stroke-width="0.5"/>
<line x1="538.42" y1="170.05" x2="538.66" y2="170.05" stroke="#5a5a5a" stroke-width="0.5"/>
<line x1="538.76" y1="203.50" x2="538.90" y2="203.50" stroke="#5a5a5a" stroke-width="0.5"/>
<line x1="538.76" y1="211.86" x2="538.90" y2="211.86" stroke="#5a5a5a" stroke-width="0.5"/>
<line x1="538.76" y1="203.50" x2="538.76" y2="211.86" stroke="#5a5a5a" stroke-width="0.5"/>
<line x1="538.64" y1="207.68" x2="538.76" y2="207.68" stroke="#5a5a5a" stroke-width="0.5"/>
<line x1="538.74" y1="220.23" x2="538.90" y2="220.23" stroke="#5a5a5a" stroke-width="0.5"/>
<line x1="538.77" y1="228.59" x2="538.90" y2="228.59" stroke="#5a5a5a" stroke-width="0.5"/>
<line x1="538.77" y1="236.95" x2="538.90" y2="236.95" stroke="#5a5a5a" stroke-width="0.5"/>
<line x1="538.77" y1="228.59" x2="538.77" y2="236.95" stroke="#5a5a5a" stroke-width="0.5"/>
<line x1="538.74" y1="232.77" x2="538.77" y2="232.77" stroke="#5a5a5a" stroke-width="0.5"/>
<line x1="538.74" y1="220.23" x2="538.74" y2="232.77" stroke="#5a5a5a" stroke-width="0.5"/>
<line x1="538.64" y1="226.50" x2="538.74" y2="226.50" stroke="#5a5a5a" stroke-width="0.5"/>
<line x1="538.64" y1="207.68" x2="538.64" y2="226.50" stroke="#5a5a5a" stroke-width="0.5"/>
<line x1="538.42" y1="217.09" x2="538.64" y2="217.09" stroke="#5a5a5a" stroke-width="0.5"/>
<line x1="538.42" y1="170.05" x2="538.42" y2="217.09" stroke="#5a5a5a" stroke-width="0.5"/>
<line x1="537.88" y1="193.57" x2="538.42" y2="193.57" stroke="#5a5a5a" stroke-width="0.5"/>
<line x1="538.73" y1="245.31" x2="538.90" y2="245.31" stroke="#5a5a5a" stroke-width="0.5"/>
<line x1="538.73" y1="253.67" x2="538.90" y2="253.67" stroke="#5a5a5a" stroke-width="0.5"/>
<line x1="538.73" y1="245.31" x2="538.73" y2="253.67" stroke="#5a5a5a" stroke-width="0.5"/>
<line x1="538.64" y1="249.49" x2="538.73" y2="249.49" stroke="#5a5a5a" stroke-width="0.5"/>
<line x1="538.64" y1="262.04" x2="538.90" y2="262.04" stroke="#5a5a5a" stroke-width="0.5"/>
<line x1="538.64" y1="249.49" x2="538.64" y2="262.04" stroke="#5a5a5a" stroke-width="0.5"/>
<line x1="538.54" y1="255.76" x2="538.64" y2="255.76" stroke="#5a5a5a" stroke-width="0.5"/>
<line x1="538.54" y1="270.40" x2="538.90" y2="270.40" stroke="#5a5a5a" stroke-width="0.5"/>
<line x1="538.54" y1="255.76" x2="538.54" y2="270.40" stroke="#5a5a5a" stroke-width="0.5"/>
<line x1="538.12" y1="263.08" x2="538.54" y2="263.08" stroke="#5a5a5a" stroke-width="0.5"/>
<line x1="538.78" y1="278.76" x2="538.90" y2="278.76" stroke="#5a5a5a" stroke-width="0.5"/>
<line x1="538.78" y1="287.12" x2="538.90" y2="287.12" stroke="#5a5a5a" stroke-width="0.5"/>
<line x1="538.78" y1="278.76" x2="538.78" y2="287.12" stroke="#5a5a5a" stroke-width="0.5"/>
<line x1="538.73" y1="282.94" x2="538.78" y2="282.94" stroke="#5a5a5a" stroke-width="0.5"/>
<line x1="538.77" y1="295.48" x2="538.90" y2="295.48" stroke="#5a5a5a" stroke-width="0.5"/>
<line x1="538.77" y1="303.85" x2="538.90" y2="303.85" stroke="#5a5a5a" stroke-width="0.5"/>
<line x1="538.77" y1="295.48" x2="538.77" y2="303.85" stroke="#5a5a5a" stroke-width="0.5"/>
<line x1="538.73" y1="299.66" x2="538.77" y2="299.66" stroke="#5a5a5a" stroke-width="0.5"/>
<line x1="538.73" y1="282.94" x2="538.73" y2="299.66" stroke="#5a5a5a" stroke-width="0.5"/>
<line x1="538.55" y1="291.30" x2="538.73" y2="291.30" stroke="#5a5a5a" stroke-width="0.5"/>
<line x1="538.65" y1="312.21" x2="538.90" y2="312.21" stroke="#5a5a5a" stroke-width="0.5"/>
<line x1="538.65" y1="320.57" x2="538.90" y2="320.57" stroke="#5a5a5a" stroke-width="0.5"/>
<line x1="538.65" y1="312.21" x2="538.65" y2="320.57" stroke="#5a5a5a" stroke-width="0.5"/>
<line x1="538.55" y1="316.39" x2="538.65" y2="316.39" stroke="#5a5a5a" stroke-width="0.5"/>
<line x1="538.55" y1="291.30" x2="538.55" y2="316.39" stroke="#5a5a5a" stroke-width="0.5"/>
<line x1="538.30" y1="303.85" x2="538.55" y2="303.85" stroke="#5a5a5a" stroke-width="0.5"/>
<line x1="538.39" y1="328.93" x2="538.90" y2="328.93" stroke="#5a5a5a" stroke-width="0.5"/>
<line x1="538.39" y1="337.29" x2="538.90" y2="337.29" stroke="#5a5a5a" stroke-width="0.5"/>
<line x1="538.39" y1="328.93" x2="538.39" y2="337.29" stroke="#5a5a5a" stroke-width="0.5"/>
<line x1="538.30" y1="333.11" x2="538.39" y2="333.11" stroke="#5a5a5a" stroke-width="0.5"/>
<line x1="538.30" y1="303.85" x2="538.30" y2="333.11" stroke="#5a5a5a" stroke-width="0.5"/>
<line x1="538.12" y1="318.48" x2="538.30" y2="318.48" stroke="#5a5a5a" stroke-width="0.5"/>
<line x1="538.12" y1="263.08" x2="538.12" y2="318.48" stroke="#5a5a5a" stroke-width="0.5"/>
<line x1="537.88" y1="290.78" x2="538.12" y2="290.78" stroke="#5a5a5a" stroke-width="0.5"/>
<line x1="537.88" y1="193.57" x2="537.88" y2="290.78" stroke="#5a5a5a" stroke-width="0.5"/>
<line x1="537.68" y1="242.18" x2="537.88" y2="242.18" stroke="#5a5a5a" stroke-width="0.5"/>
<line x1="538.57" y1="345.66" x2="538.90" y2="345.66" stroke="#5a5a5a" stroke-width="0.5"/>
<line x1="538.57" y1="354.02" x2="538.90" y2="354.02" stroke="#5a5a5a" stroke-width="0.5"/>
<line x1="538.57" y1="345.66" x2="538.57" y2="354.02" stroke="#5a5a5a" stroke-width="0.5"/>
<line x1="538.44" y1="349.84" x2="538.57" y2="349.84" stroke="#5a5a5a" stroke-width="0.5"/>
<line x1="538.64" y1="362.38" x2="538.90" y2="362.38" stroke="#5a5a5a" stroke-width="0.5"/>
<line x1="538.64" y1="370.74" x2="538.90" y2="370.74" stroke="#5a5a5a" stroke-width="0.5"/>
<line x1="538.64" y1="362.38" x2="538.64" y2="370.74" stroke="#5a5a5a" stroke-width="0.5"/>
<line x1="538.44" y1="366.56" x2="538.64" y2="366.56" stroke="#5a5a5a" stroke-width="0.5"/>
<line x1="538.44" y1="349.84" x2="538.44" y2="366.56" stroke="#5a5a5a" stroke-width="0.5"/>
<line x1="538.03" y1="358.20" x2="538.44" y2="358.20" stroke="#5a5a5a" stroke-width="0.5"/>
<line x1="538.68" y1="379.10" x2="538.90" y2="379.10" stroke="#5a5a5a" stroke-width="0.5"/>
<line x1="538.68" y1="387.46" x2="538.90" y2="387.46" stroke="#5a5a5a" stroke-width="0.5"/>
<line x1="538.68" y1="379.10" x2="538.68" y2="387.46" stroke="#5a5a5a" stroke-width="0.5"/>
<line x1="538.50" y1="383.28" x2="538.68" y2="383.28" stroke="#5a5a5a" stroke-width="0.5"/>
<line x1="538.70" y1="395.83" x2="538.90" y2="395.83" stroke="#5a5a5a" stroke-width="0.5"/>
<line x1="538.70" y1="404.19" x2="538.90" y2="404.19" stroke="#5a5a5a" stroke-width="0.5"/>
<line x1="538.70" y1="395.83" x2="538.70" y2="404.19" stroke="#5a5a5a" stroke-width="0.5"/>
<line x1="538.66" y1="400.01" x2="538.70" y2="400.01" stroke="#5a5a5a" stroke-width="0.5"/>
<line x1="538.66" y1="412.55" x2="538.90" y2="412.55" stroke="#5a5a5a" stroke-width="0.5"/>
<line x1="538.66" y1="400.01" x2="538.66" y2="412.55" stroke="#5a5a5a" stroke-width="0.5"/>
<line x1="538.56" y1="406.28" x2="538.66" y2="406.28" stroke="#5a5a5a" stroke-width="0.5"/>
<line x1="538.56" y1="420.91" x2="538.90" y2="420.91" stroke="#5a5a5a" stroke-width="0.5"/>
<line x1="538.56" y1="406.28" x2="538.56" y2="420.91" stroke="#5a5a5a" stroke-width="0.5"/>
<line x1="538.50" y1="413.60" x2="538.56" y2="413.60" stroke="#5a5a5a" stroke-width="0.5"/>
<line x1="538.50" y1="383.28" x2="538.50" y2="413.60" stroke="#5a5a5a" stroke-width="0.5"/>
<line x1="538.03" y1="398.44" x2="538.50" y2="398.44" stroke="#5a5a5a" stroke-width="0.5"/>
<line x1="538.03" y1="358.20" x2="538.03" y2="398.44" stroke="#5a5a5a" stroke-width="0.5"/>
<line x1="537.68" y1="378.32" x2="538.03" y2="378.32" stroke="#5a5a5a" stroke-width="0.5"/>
<line x1="537.68" y1="242.18" x2="537.68" y2="378.32" stroke="#5a5a5a" stroke-width="0.5"/>
<line x1="536.70" y1="310.25" x2="537.68" y2="310.25" stroke="#5a5a5a" stroke-width="0.5"/>
<line x1="538.61" y1="429.27" x2="538.90" y2="429.27" stroke="#5a5a5a" stroke-width="0.5"/>
<line x1="538.61" y1="437.64" x2="538.90" y2="437.64" stroke="#5a5a5a" stroke-width="0.5"/>
<line x1="538.61" y1="429.27" x2="538.61" y2="437.64" stroke="#5a5a5a" stroke-width="0.5"/>
<line x1="538.45" y1="433.46" x2="538.61" y2="433.46" stroke="#5a5a5a" stroke-width="0.5"/>
<line x1="538.54" y1="446.00" x2="538.90" y2="446.00" stroke="#5a5a5a" stroke-width="0.5"/>
<line x1="538.54" y1="454.36" x2="538.90" y2="454.36" stroke="#5a5a5a" stroke-width="0.5"/>
<line x1="538.54" y1="446.00" x2="538.54" y2="454.36" stroke="#5a5a5a" stroke-width="0.5"/>
<line x1="538.45" y1="450.18" x2="538.54" y2="450.18" stroke="#5a5a5a" stroke-width="0.5"/>
<line x1="538.45" y1="433.46" x2="538.45" y2="450.18" stroke="#5a5a5a" stroke-width="0.5"/>
<line x1="538.27" y1="441.82" x2="538.45" y2="441.82" stroke="#5a5a5a" stroke-width="0.5"/>
<line x1="538.56" y1="462.72" x2="538.90" y2="462.72" stroke="#5a5a5a" stroke-width="0.5"/>
<line x1="538.56" y1="471.08" x2="538.90" y2="471.08" stroke="#5a5a5a" stroke-width="0.5"/>
<line x1="538.56" y1="462.72" x2="538.56" y2="471.08" stroke="#5a5a5a" stroke-width="0.5"/>
<line x1="538.27" y1="466.90" x2="538.56" y2="466.90" stroke="#5a5a5a" stroke-width="0.5"/>
<line x1="538.27" y1="441.82" x2="538.27" y2="466.90" stroke="#5a5a5a" stroke-width="0.5"/>
<line x1="537.58" y1="454.36" x2="538.27" y2="454.36" stroke="#5a5a5a" stroke-width="0.5"/>
<line x1="538.00" y1="479.45" x2="538.90" y2="479.45" stroke="#5a5a5a" stroke-width="0.5"/>
<line x1="538.00" y1="487.81" x2="538.90" y2="487.81" stroke="#5a5a5a" stroke-width="0.5"/>
<line x1="538.00" y1="479.45" x2="538.00" y2="487.81" stroke="#5a5a5a" stroke-width="0.5"/>
<line x1="537.80" y1="483.63" x2="538.00" y2="483.63" stroke="#5a5a5a" stroke-width="0.5"/>
<line x1="537.80" y1="496.17" x2="538.90" y2="496.17" stroke="#5a5a5a" stroke-width="0.5"/>
<line x1="537.80" y1="483.63" x2="537.80" y2="496.17" stroke="#5a5a5a" stroke-width="0.5"/>
<line x1="537.58" y1="489.90" x2="537.80" y2="489.90" stroke="#5a5a5a" stroke-width="0.5"/>
<line x1="537.58" y1="454.36" x2="537.58" y2="489.90" stroke="#5a5a5a" stroke-width="0.5"/>
<line x1="537.19" y1="472.13" x2="537.58" y2="472.13" stroke="#5a5a5a" stroke-width="0.5"/>
<line x1="538.43" y1="504.53" x2="538.90" y2="504.53" stroke="#5a5a5a" stroke-width="0.5"/>
<line x1="538.43" y1="512.89" x2="538.90" y2="512.89" stroke="#5a5a5a" stroke-width="0.5"/>
<line x1="538.43" y1="504.53" x2="538.43" y2="512.89" stroke="#5a5a5a" stroke-width="0.5"/>
<line x1="538.16" y1="508.71" x2="538.43" y2="508.71" stroke="#5a5a5a" stroke-width="0.5"/>
<line x1="538.16" y1="521.26" x2="538.90" y2="521.26" stroke="#5a5a5a" stroke-width="0.5"/>
<line x1="538.16" y1="508.71" x2="538.16" y2="521.26" stroke="#5a5a5a" stroke-width="0.5"/>
<line x1="537.86" y1="514.99" x2="538.16" y2="514.99" stroke="#5a5a5a" stroke-width="0.5"/>
<line x1="537.86" y1="529.62" x2="538.90" y2="529.62" stroke="#5a5a5a" stroke-width="0.5"/>
<line x1="537.86" y1="514.99" x2="537.86" y2="529.62" stroke="#5a5a5a" stroke-width="0.5"/>
<line x1="537.19" y1="522.30" x2="537.86" y2="522.30" stroke="#5a5a5a" stroke-width="0.5"/>
<line x1="537.19" y1="472.13" x2="537.19" y2="522.30" stroke="#5a5a5a" stroke-width="0.5"/>
<line x1="536.70" y1="497.22" x2="537.19" y2="497.22" stroke="#5a5a5a" stroke-width="0.5"/>
<line x1="536.70" y1="310.25" x2="536.70" y2="497.22" stroke="#5a5a5a" stroke-width="0.5"/>
<line x1="517.50" y1="451.40" x2="536.70" y2="451.40" stroke="#8a8a8a" stroke-width="0.8"/>
<line x1="220.30" y1="352.30" x2="220.30" y2="651.10" stroke="#9a9a9a" stroke-width="0.8"/>
<line x1="220.30" y1="352.30" x2="248.60" y2="352.30" stroke="#6a6a6a" stroke-width="0.7"/>
<line x1="248.60" y1="316.20" x2="248.60" y2="388.20" stroke="#6a6a6a" stroke-width="0.7"/>
<line x1="248.60" y1="316.20" x2="253.10" y2="316.20" stroke="#6a6a6a" stroke-width="0.7"/>
<line x1="251.56" y1="324.56" x2="253.10" y2="324.56" stroke="#5a5a5a" stroke-width="0.5"/>
<line x1="251.56" y1="332.94" x2="253.10" y2="332.94" stroke="#5a5a5a" stroke-width="0.5"/>
<line x1="251.56" y1="324.56" x2="251.56" y2="332.94" stroke="#5a5a5a" stroke-width="0.5"/>
<line x1="251.15" y1="328.75" x2="251.56" y2="328.75" stroke="#5a5a5a" stroke-width="0.5"/>
<line x1="252.37" y1="341.31" x2="253.10" y2="341.31" stroke="#5a5a5a" stroke-width="0.5"/>
<line x1="252.37" y1="349.68" x2="253.10" y2="349.68" stroke="#5a5a5a" stroke-width="0.5"/>
<line x1="252.37" y1="341.31" x2="252.37" y2="349.68" stroke="#5a5a5a" stroke-width="0.5"/>
<line x1="252.22" y1="345.50" x2="252.37" y2="345.50" stroke="#5a5a5a" stroke-width="0.5"/>
<line x1="252.68" y1="358.06" x2="253.10" y2="358.06" stroke="#5a5a5a" stroke-width="0.5"/>
<line x1="252.68" y1="366.43" x2="253.10" y2="366.43" stroke="#5a5a5a" stroke-width="0.5"/>
<line x1="252.68" y1="358.06" x2="252.68" y2="366.43" stroke="#5a5a5a" stroke-width="0.5"/>
<line x1="252.54" y1="362.24" x2="252.68" y2="362.24" stroke="#5a5a5a" stroke-width="0.5"/>
<line x1="252.81" y1="374.81" x2="253.10" y2="374.81" stroke="#5a5a5a" stroke-width="0.5"/>
<line x1="252.81" y1="383.18" x2="253.10" y2="383.18" stroke="#5a5a5a" stroke-width="0.5"/>
<line x1="252.81" y1="374.81" x2="252.81" y2="383.18" stroke="#5a5a5a" stroke-width="0.5"/>
<line x1="252.54" y1="378.99" x2="252.81" y2="378.99" stroke="#5a5a5a" stroke-width="0.5"/>
<line x1="252.54" y1="362.24" x2="252.54" y2="378.99" stroke="#5a5a5a" stroke-width="0.5"/>
<line x1="252.22" y1="370.62" x2="252.54" y2="370.62" stroke="#5a5a5a" stroke-width="0.5"/>
<line x1="252.22" y1="345.50" x2="252.22" y2="370.62" stroke="#5a5a5a" stroke-width="0.5"/>
<line x1="251.15" y1="358.06" x2="252.22" y2="358.06" stroke="#5a5a5a" stroke-width="0.5"/>
<line x1="251.15" y1="328.75" x2="251.15" y2="358.06" stroke="#5a5a5a" stroke-width="0.5"/>
<line x1="250.60" y1="343.40" x2="251.15" y2="343.40" stroke="#5a5a5a" stroke-width="0.5"/>
<line x1="252.28" y1="391.55" x2="253.10" y2="391.55" stroke="#5a5a5a" stroke-width="0.5"/>
<line x1="252.56" y1="399.93" x2="253.10" y2="399.93" stroke="#5a5a5a" stroke-width="0.5"/>
<line x1="252.56" y1="408.30" x2="253.10" y2="408.30" stroke="#5a5a5a" stroke-width="0.5"/>
<line x1="252.56" y1="399.93" x2="252.56" y2="408.30" stroke="#5a5a5a" stroke-width="0.5"/>
<line x1="252.28" y1="404.11" x2="252.56" y2="404.11" stroke="#5a5a5a" stroke-width="0.5"/>
<line x1="252.28" y1="391.55" x2="252.28" y2="404.11" stroke="#5a5a5a" stroke-width="0.5"/>
<line x1="251.40" y1="397.83" x2="252.28" y2="397.83" stroke="#5a5a5a" stroke-width="0.5"/>
<line x1="252.76" y1="416.68" x2="253.10" y2="416.68" stroke="#5a5a5a" stroke-width="0.5"/>
<line x1="252.87" y1="425.05" x2="253.10" y2="425.05" stroke="#5a5a5a" stroke-width="0.5"/>
<line x1="252.87" y1="433.42" x2="253.10" y2="433.42" stroke="#5a5a5a" stroke-width="0.5"/>
<line x1="252.87" y1="425.05" x2="252.87" y2="433.42" stroke="#5a5a5a" stroke-width="0.5"/>
<line x1="252.76" y1="429.24" x2="252.87" y2="429.24" stroke="#5a5a5a" stroke-width="0.5"/>
<line x1="252.76" y1="416.68" x2="252.76" y2="429.24" stroke="#5a5a5a" stroke-width="0.5"/>
<line x1="252.46" y1="422.96" x2="252.76" y2="422.96" stroke="#5a5a5a" stroke-width="0.5"/>
<line x1="252.77" y1="441.80" x2="253.10" y2="441.80" stroke="#5a5a5a" stroke-width="0.5"/>
<line x1="252.88" y1="450.17" x2="253.10" y2="450.17" stroke="#5a5a5a" stroke-width="0.5"/>
<line x1="252.88" y1="458.55" x2="253.10" y2="458.55" stroke="#5a5a5a" stroke-width="0.5"/>
<line x1="252.88" y1="450.17" x2="252.88" y2="458.55" stroke="#5a5a5a" stroke-width="0.5"/>
<line x1="252.77" y1="454.36" x2="252.88" y2="454.36" stroke="#5a5a5a" stroke-width="0.5"/>
<line x1="252.77" y1="441.80" x2="252.77" y2="454.36" stroke="#5a5a5a" stroke-width="0.5"/>
<line x1="252.46" y1="448.08" x2="252.77" y2="448.08" stroke="#5a5a5a" stroke-width="0.5"/>
<line x1="252.46" y1="422.96" x2="252.46" y2="448.08" stroke="#5a5a5a" stroke-width="0.5"/>
<line x1="251.74" y1="435.52" x2="252.46" y2="435.52" stroke="#5a5a5a" stroke-width="0.5"/>
<line x1="252.64" y1="466.92" x2="253.10" y2="466.92" stroke="#5a5a5a" stroke-width="0.5"/>
<line x1="252.64" y1="475.29" x2="253.10" y2="475.29" stroke="#5a5a5a" stroke-width="0.5"/>
<line x1="252.64" y1="466.92" x2="252.64" y2="475.29" stroke="#5a5a5a" stroke-width="0.5"/>
<line x1="252.41" y1="471.11" x2="252.64" y2="471.11" stroke="#5a5a5a" stroke-width="0.5"/>
<line x1="252.41" y1="483.67" x2="253.10" y2="483.67" stroke="#5a5a5a" stroke-width="0.5"/>
<line x1="252.41" y1="471.11" x2="252.41" y2="483.67" stroke="#5a5a5a" stroke-width="0.5"/>
<line x1="251.74" y1="477.39" x2="252.41" y2="477.39" stroke="#5a5a5a" stroke-width="0.5"/>
<line x1="251.74" y1="435.52" x2="251.74" y2="477.39" stroke="#5a5a5a" stroke-width="0.5"/>
<line x1="251.40" y1="456.45" x2="251.74" y2="456.45" stroke="#5a5a5a" stroke-width="0.5"/>
<line x1="251.40" y1="397.83" x2="251.40" y2="456.45" stroke="#5a5a5a" stroke-width="0.5"/>
<line x1="250.60" y1="427.14" x2="251.40" y2="427.14" stroke="#5a5a5a" stroke-width="0.5"/>
<line x1="250.60" y1="343.40" x2="250.60" y2="427.14" stroke="#5a5a5a" stroke-width="0.5"/>
<line x1="248.60" y1="388.20" x2="250.60" y2="388.20" stroke="#6a6a6a" stroke-width="0.6"/>
<line x1="220.30" y1="651.10" x2="249.30" y2="651.10" stroke="#6a6a6a" stroke-width="0.7"/>
<line x1="249.30" y1="587.50" x2="249.30" y2="714.70" stroke="#6a6a6a" stroke-width="0.7"/>
<line x1="252.37" y1="492.04" x2="253.10" y2="492.04" stroke="#5a5a5a" stroke-width="0.5"/>
<line x1="252.37" y1="500.42" x2="253.10" y2="500.42" stroke="#5a5a5a" stroke-width="0.5"/>
<line x1="252.37" y1="492.04" x2="252.37" y2="500.42" stroke="#5a5a5a" stroke-width="0.5"/>
<line x1="252.06" y1="496.23" x2="252.37" y2="496.23" stroke="#5a5a5a" stroke-width="0.5"/>
<line x1="252.78" y1="508.79" x2="253.10" y2="508.79" stroke="#5a5a5a" stroke-width="0.5"/>
<line x1="252.78" y1="517.16" x2="253.10" y2="517.16" stroke="#5a5a5a" stroke-width="0.5"/>
<line x1="252.78" y1="508.79" x2="252.78" y2="517.16" stroke="#5a5a5a" stroke-width="0.5"/>
<line x1="252.61" y1="512.98" x2="252.78" y2="512.98" stroke="#5a5a5a" stroke-width="0.5"/>
<line x1="252.70" y1="525.54" x2="253.10" y2="525.54" stroke="#5a5a5a" stroke-width="0.5"/>
<line x1="252.70" y1="533.91" x2="253.10" y2="533.91" stroke="#5a5a5a" stroke-width="0.5"/>
<line x1="252.70" y1="525.54" x2="252.70" y2="533.91" stroke="#5a5a5a" stroke-width="0.5"/>
<line x1="252.61" y1="529.72" x2="252.70" y2="529.72" stroke="#5a5a5a" stroke-width="0.5"/>
<line x1="252.61" y1="512.98" x2="252.61" y2="529.72" stroke="#5a5a5a" stroke-width="0.5"/>
<line x1="252.06" y1="521.35" x2="252.61" y2="521.35" stroke="#5a5a5a" stroke-width="0.5"/>
<line x1="252.06" y1="496.23" x2="252.06" y2="521.35" stroke="#5a5a5a" stroke-width="0.5"/>
<line x1="251.59" y1="508.79" x2="252.06" y2="508.79" stroke="#5a5a5a" stroke-width="0.5"/>
<line x1="252.92" y1="542.29" x2="253.10" y2="542.29" stroke="#5a5a5a" stroke-width="0.5"/>
<line x1="252.92" y1="550.66" x2="253.10" y2="550.66" stroke="#5a5a5a" stroke-width="0.5"/>
<line x1="252.92" y1="542.29" x2="252.92" y2="550.66" stroke="#5a5a5a" stroke-width="0.5"/>
<line x1="252.79" y1="546.47" x2="252.92" y2="546.47" stroke="#5a5a5a" stroke-width="0.5"/>
<line x1="252.88" y1="559.03" x2="253.10" y2="559.03" stroke="#5a5a5a" stroke-width="0.5"/>
<line x1="252.88" y1="567.41" x2="253.10" y2="567.41" stroke="#5a5a5a" stroke-width="0.5"/>
<line x1="252.88" y1="559.03" x2="252.88" y2="567.41" stroke="#5a5a5a" stroke-width="0.5"/>
<line x1="252.79" y1="563.22" x2="252.88" y2="563.22" stroke="#5a5a5a" stroke-width="0.5"/>
<line x1="252.79" y1="546.47" x2="252.79" y2="563.22" stroke="#5a5a5a" stroke-width="0.5"/>
<line x1="252.53" y1="554.85" x2="252.79" y2="554.85" stroke="#5a5a5a" stroke-width="0.5"/>
<line x1="252.68" y1="575.78" x2="253.10" y2="575.78" stroke="#5a5a5a" stroke-width="0.5"/>
<line x1="252.68" y1="584.15" x2="253.10" y2="584.15" stroke="#5a5a5a" stroke-width="0.5"/>
<line x1="252.68" y1="575.78" x2="252.68" y2="584.15" stroke="#5a5a5a" stroke-width="0.5"/>
<line x1="252.53" y1="579.97" x2="252.68" y2="579.97" stroke="#5a5a5a" stroke-width="0.5"/>
<line x1="252.53" y1="554.85" x2="252.53" y2="579.97" stroke="#5a5a5a" stroke-width="0.5"/>
<line x1="252.29" y1="567.41" x2="252.53" y2="567.41" stroke="#5a5a5a" stroke-width="0.5"/>
<line x1="252.78" y1="592.53" x2="253.10" y2="592.53" stroke="#5a5a5a" stroke-width="0.5"/>
<line x1="252.78" y1="600.90" x2="253.10" y2="600.90" stroke="#5a5a5a" stroke-width="0.5"/>
<line x1="252.78" y1="592.53" x2="252.78" y2="600.90" stroke="#5a5a5a" stroke-width="0.5"/>
<line x1="252.66" y1="596.72" x2="252.78" y2="596.72" stroke="#5a5a5a" stroke-width="0.5"/>
<line x1="252.66" y1="609.28" x2="253.10" y2="609.28" stroke="#5a5a5a" stroke-width="0.5"/>
<line x1="252.66" y1="596.72" x2="252.66" y2="609.28" stroke="#5a5a5a" stroke-width="0.5"/>
<line x1="252.29" y1="603.00" x2="252.66" y2="603.00" stroke="#5a5a5a" stroke-width="0.5"/>
<line x1="252.29" y1="567.41" x2="252.29" y2="603.00" stroke="#5a5a5a" stroke-width="0.5"/>
<line x1="251.59" y1="585.20" x2="252.29" y2="585.20" stroke="#5a5a5a" stroke-width="0.5"/>
<line x1="251.59" y1="508.79" x2="251.59" y2="585.20" stroke="#5a5a5a" stroke-width="0.5"/>
<line x1="250.80" y1="547.00" x2="251.59" y2="547.00" stroke="#5a5a5a" stroke-width="0.5"/>
<line x1="252.53" y1="617.65" x2="253.10" y2="617.65" stroke="#5a5a5a" stroke-width="0.5"/>
<line x1="252.53" y1="626.03" x2="253.10" y2="626.03" stroke="#5a5a5a" stroke-width="0.5"/>
<line x1="252.53" y1="617.65" x2="252.53" y2="626.03" stroke="#5a5a5a" stroke-width="0.5"/>
<line x1="252.24" y1="621.84" x2="252.53" y2="621.84" stroke="#5a5a5a" stroke-width="0.5"/>
<line x1="252.24" y1="634.40" x2="253.10" y2="634.40" stroke="#5a5a5a" stroke-width="0.5"/>
<line x1="252.24" y1="621.84" x2="252.24" y2="634.40" stroke="#5a5a5a" stroke-width="0.5"/>
<line x1="251.95" y1="628.12" x2="252.24" y2="628.12" stroke="#5a5a5a" stroke-width="0.5"/>
<line x1="252.42" y1="642.77" x2="253.10" y2="642.77" stroke="#5a5a5a" stroke-width="0.5"/>
<line x1="252.42" y1="651.15" x2="253.10" y2="651.15" stroke="#5a5a5a" stroke-width="0.5"/>
<line x1="252.42" y1="642.77" x2="252.42" y2="651.15" stroke="#5a5a5a" stroke-width="0.5"/>
<line x1="251.95" y1="646.96" x2="252.42" y2="646.96" stroke="#5a5a5a" stroke-width="0.5"/>
<line x1="251.95" y1="628.12" x2="251.95" y2="646.96" stroke="#5a5a5a" stroke-width="0.5"/>
<line x1="251.74" y1="637.54" x2="251.95" y2="637.54" stroke="#5a5a5a" stroke-width="0.5"/>
<line x1="252.56" y1="659.52" x2="253.10" y2="659.52" stroke="#5a5a5a" stroke-width="0.5"/>
<line x1="252.56" y1="667.89" x2="253.10" y2="667.89" stroke="#5a5a5a" stroke-width="0.5"/>
<line x1="252.56" y1="659.52" x2="252.56" y2="667.89" stroke="#5a5a5a" stroke-width="0.5"/>
<line x1="252.14" y1="663.71" x2="252.56" y2="663.71" stroke="#5a5a5a" stroke-width="0.5"/>
<line x1="252.41" y1="676.27" x2="253.10" y2="676.27" stroke="#5a5a5a" stroke-width="0.5"/>
<line x1="252.41" y1="684.64" x2="253.10" y2="684.64" stroke="#5a5a5a" stroke-width="0.5"/>
<line x1="252.41" y1="676.27" x2="252.41" y2="684.64" stroke="#5a5a5a" stroke-width="0.5"/>
<line x1="252.14" y1="680.46" x2="252.41" y2="680.46" stroke="#5a5a5a" stroke-width="0.5"/>
<line x1="252.14" y1="663.71" x2="252.14" y2="680.46" stroke="#5a5a5a" stroke-width="0.5"/>
<line x1="251.74" y1="672.08" x2="252.14" y2="672.08" stroke="#5a5a5a" stroke-width="0.5"/>
<line x1="251.74" y1="637.54" x2="251.74" y2="672.08" stroke="#5a5a5a" stroke-width="0.5"/>
<line x1="250.80" y1="654.81" x2="251.74" y2="654.81" stroke="#5a5a5a" stroke-width="0.5"/>
<line x1="250.80" y1="547.00" x2="250.80" y2="654.81" stroke="#5a5a5a" stroke-width="0.5"/>
<line x1="249.30" y1="587.50" x2="250.80" y2="587.50" stroke="#6a6a6a" stroke-width="0.6"/>
<line x1="252.59" y1="693.02" x2="253.10" y2="693.02" stroke="#5a5a5a" stroke-width="0.5"/>
<line x1="252.59" y1="701.39" x2="253.10" y2="701.39" stroke="#5a5a5a" stroke-width="0.5"/>
<line x1="252.59" y1="693.02" x2="252.59" y2="701.39" stroke="#5a5a5a" stroke-width="0.5"/>
<line x1="252.01" y1="697.20" x2="252.59" y2="697.20" stroke="#5a5a5a" stroke-width="0.5"/>
<line x1="252.01" y1="709.77" x2="253.10" y2="709.77" stroke="#5a5a5a" stroke-width="0.5"/>
<line x1="252.01" y1="697.20" x2="252.01" y2="709.77" stroke="#5a5a5a" stroke-width="0.5"/>
<line x1="251.20" y1="703.48" x2="252.01" y2="703.48" stroke="#5a5a5a" stroke-width="0.5"/>
<line x1="251.89" y1="718.14" x2="253.10" y2="718.14" stroke="#5a5a5a" stroke-width="0.5"/>
<line x1="251.89" y1="726.51" x2="253.10" y2="726.51" stroke="#5a5a5a" stroke-width="0.5"/>
<line x1="251.89" y1="718.14" x2="251.89" y2="726.51" stroke="#5a5a5a" stroke-width="0.5"/>
<line x1="251.20" y1="722.33" x2="251.89" y2="722.33" stroke="#5a5a5a" stroke-width="0.5"/>
<line x1="251.20" y1="703.48" x2="251.20" y2="722.33" stroke="#5a5a5a" stroke-width="0.5"/>
<line x1="249.30" y1="714.70" x2="251.20" y2="714.70" stroke="#6a6a6a" stroke-width="0.6"/>
<line x1="369.30" y1="491.40" x2="369.30" y2="678.40" stroke="#7a7a7a" stroke-width="0.8"/>
<line x1="369.30" y1="491.40" x2="396.70" y2="491.40" stroke="#6a6a6a" stroke-width="0.7"/>
<line x1="396.70" y1="443.60" x2="396.70" y2="537.70" stroke="#6a6a6a" stroke-width="0.7"/>
<line x1="401.74" y1="320.56" x2="402.20" y2="320.56" stroke="#5a5a5a" stroke-width="0.5"/>
<line x1="402.06" y1="329.09" x2="402.20" y2="329.09" stroke="#5a5a5a" stroke-width="0.5"/>
<line x1="402.06" y1="337.62" x2="402.20" y2="337.62" stroke="#5a5a5a" stroke-width="0.5"/>
<line x1="402.06" y1="329.09" x2="402.06" y2="337.62" stroke="#5a5a5a" stroke-width="0.5"/>
<line x1="401.95" y1="333.35" x2="402.06" y2="333.35" stroke="#5a5a5a" stroke-width="0.5"/>
<line x1="401.95" y1="346.14" x2="402.20" y2="346.14" stroke="#5a5a5a" stroke-width="0.5"/>
<line x1="401.95" y1="333.35" x2="401.95" y2="346.14" stroke="#5a5a5a" stroke-width="0.5"/>
<line x1="401.74" y1="339.75" x2="401.95" y2="339.75" stroke="#5a5a5a" stroke-width="0.5"/>
<line x1="401.74" y1="320.56" x2="401.74" y2="339.75" stroke="#5a5a5a" stroke-width="0.5"/>
<line x1="401.38" y1="330.15" x2="401.74" y2="330.15" stroke="#5a5a5a" stroke-width="0.5"/>
<line x1="401.71" y1="354.67" x2="402.20" y2="354.67" stroke="#5a5a5a" stroke-width="0.5"/>
<line x1="401.71" y1="363.19" x2="402.20" y2="363.19" stroke="#5a5a5a" stroke-width="0.5"/>
<line x1="401.71" y1="354.67" x2="401.71" y2="363.19" stroke="#5a5a5a" stroke-width="0.5"/>
<line x1="401.38" y1="358.93" x2="401.71" y2="358.93" stroke="#5a5a5a" stroke-width="0.5"/>
<line x1="401.38" y1="330.15" x2="401.38" y2="358.93" stroke="#5a5a5a" stroke-width="0.5"/>
<line x1="400.77" y1="344.54" x2="401.38" y2="344.54" stroke="#5a5a5a" stroke-width="0.5"/>
<line x1="401.49" y1="371.72" x2="402.20" y2="371.72" stroke="#5a5a5a" stroke-width="0.5"/>
<line x1="401.83" y1="380.25" x2="402.20" y2="380.25" stroke="#5a5a5a" stroke-width="0.5"/>
<line x1="401.83" y1="388.77" x2="402.20" y2="388.77" stroke="#5a5a5a" stroke-width="0.5"/>
<line x1="401.83" y1="380.25" x2="401.83" y2="388.77" stroke="#5a5a5a" stroke-width="0.5"/>
<line x1="401.72" y1="384.51" x2="401.83" y2="384.51" stroke="#5a5a5a" stroke-width="0.5"/>
<line x1="401.72" y1="397.30" x2="402.20" y2="397.30" stroke="#5a5a5a" stroke-width="0.5"/>
<line x1="401.72" y1="384.51" x2="401.72" y2="397.30" stroke="#5a5a5a" stroke-width="0.5"/>
<line x1="401.49" y1="390.90" x2="401.72" y2="390.90" stroke="#5a5a5a" stroke-width="0.5"/>
<line x1="401.49" y1="371.72" x2="401.49" y2="390.90" stroke="#5a5a5a" stroke-width="0.5"/>
<line x1="401.35" y1="381.31" x2="401.49" y2="381.31" stroke="#5a5a5a" stroke-width="0.5"/>
<line x1="401.69" y1="405.82" x2="402.20" y2="405.82" stroke="#5a5a5a" stroke-width="0.5"/>
<line x1="401.86" y1="414.35" x2="402.20" y2="414.35" stroke="#5a5a5a" stroke-width="0.5"/>
<line x1="401.86" y1="422.88" x2="402.20" y2="422.88" stroke="#5a5a5a" stroke-width="0.5"/>
<line x1="401.86" y1="414.35" x2="401.86" y2="422.88" stroke="#5a5a5a" stroke-width="0.5"/>
<line x1="401.69" y1="418.61" x2="401.86" y2="418.61" stroke="#5a5a5a" stroke-width="0.5"/>
<line x1="401.69" y1="405.82" x2="401.69" y2="418.61" stroke="#5a5a5a" stroke-width="0.5"/>
<line x1="401.35" y1="412.22" x2="401.69" y2="412.22" stroke="#5a5a5a" stroke-width="0.5"/>
<line x1="401.35" y1="381.31" x2="401.35" y2="412.22" stroke="#5a5a5a" stroke-width="0.5"/>
<line x1="400.77" y1="396.76" x2="401.35" y2="396.76" stroke="#5a5a5a" stroke-width="0.5"/>
<line x1="400.77" y1="344.54" x2="400.77" y2="396.76" stroke="#5a5a5a" stroke-width="0.5"/>
<line x1="399.20" y1="370.65" x2="400.77" y2="370.65" stroke="#5a5a5a" stroke-width="0.5"/>
<line x1="400.40" y1="431.40" x2="402.20" y2="431.40" stroke="#5a5a5a" stroke-width="0.5"/>
<line x1="400.40" y1="439.93" x2="402.20" y2="439.93" stroke="#5a5a5a" stroke-width="0.5"/>
<line x1="400.40" y1="431.40" x2="400.40" y2="439.93" stroke="#5a5a5a" stroke-width="0.5"/>
<line x1="399.71" y1="435.66" x2="400.40" y2="435.66" stroke="#5a5a5a" stroke-width="0.5"/>
<line x1="400.28" y1="448.45" x2="402.20" y2="448.45" stroke="#5a5a5a" stroke-width="0.5"/>
<line x1="401.43" y1="456.98" x2="402.20" y2="456.98" stroke="#5a5a5a" stroke-width="0.5"/>
<line x1="401.43" y1="465.50" x2="402.20" y2="465.50" stroke="#5a5a5a" stroke-width="0.5"/>
<line x1="401.43" y1="456.98" x2="401.43" y2="465.50" stroke="#5a5a5a" stroke-width="0.5"/>
<line x1="400.93" y1="461.24" x2="401.43" y2="461.24" stroke="#5a5a5a" stroke-width="0.5"/>
<line x1="401.24" y1="474.03" x2="402.20" y2="474.03" stroke="#5a5a5a" stroke-width="0.5"/>
<line x1="401.24" y1="482.56" x2="402.20" y2="482.56" stroke="#5a5a5a" stroke-width="0.5"/>
<line x1="401.24" y1="474.03" x2="401.24" y2="482.56" stroke="#5a5a5a" stroke-width="0.5"/>
<line x1="400.93" y1="478.29" x2="401.24" y2="478.29" stroke="#5a5a5a" stroke-width="0.5"/>
<line x1="400.93" y1="461.24" x2="400.93" y2="478.29" stroke="#5a5a5a" stroke-width="0.5"/>
<line x1="400.28" y1="469.77" x2="400.93" y2="469.77" stroke="#5a5a5a" stroke-width="0.5"/>
<line x1="400.28" y1="448.45" x2="400.28" y2="469.77" stroke="#5a5a5a" stroke-width="0.5"/>
<line x1="399.71" y1="459.11" x2="400.28" y2="459.11" stroke="#5a5a5a" stroke-width="0.5"/>
<line x1="399.71" y1="435.66" x2="399.71" y2="459.11" stroke="#5a5a5a" stroke-width="0.5"/>
<line x1="399.20" y1="447.39" x2="399.71" y2="447.39" stroke="#5a5a5a" stroke-width="0.5"/>
<line x1="399.20" y1="370.65" x2="399.20" y2="447.39" stroke="#5a5a5a" stroke-width="0.5"/>
<line x1="396.70" y1="443.60" x2="399.20" y2="443.60" stroke="#6a6a6a" stroke-width="0.6"/>
<line x1="400.41" y1="491.08" x2="402.20" y2="491.08" stroke="#5a5a5a" stroke-width="0.5"/>
<line x1="400.41" y1="499.61" x2="402.20" y2="499.61" stroke="#5a5a5a" stroke-width="0.5"/>
<line x1="400.41" y1="491.08" x2="400.41" y2="499.61" stroke="#5a5a5a" stroke-width="0.5"/>
<line x1="399.60" y1="495.35" x2="400.41" y2="495.35" stroke="#5a5a5a" stroke-width="0.5"/>
<line x1="401.28" y1="508.13" x2="402.20" y2="508.13" stroke="#5a5a5a" stroke-width="0.5"/>
<line x1="401.28" y1="516.66" x2="402.20" y2="516.66" stroke="#5a5a5a" stroke-width="0.5"/>
<line x1="401.28" y1="508.13" x2="401.28" y2="516.66" stroke="#5a5a5a" stroke-width="0.5"/>
<line x1="400.42" y1="512.40" x2="401.28" y2="512.40" stroke="#5a5a5a" stroke-width="0.5"/>
<line x1="401.34" y1="525.19" x2="402.20" y2="525.19" stroke="#5a5a5a" stroke-width="0.5"/>
<line x1="401.34" y1="533.71" x2="402.20" y2="533.71" stroke="#5a5a5a" stroke-width="0.5"/>
<line x1="401.34" y1="525.19" x2="401.34" y2="533.71" stroke="#5a5a5a" stroke-width="0.5"/>
<line x1="400.99" y1="529.45" x2="401.34" y2="529.45" stroke="#5a5a5a" stroke-width="0.5"/>
<line x1="400.99" y1="542.24" x2="402.20" y2="542.24" stroke="#5a5a5a" stroke-width="0.5"/>
<line x1="400.99" y1="529.45" x2="400.99" y2="542.24" stroke="#5a5a5a" stroke-width="0.5"/>
<line x1="400.71" y1="535.84" x2="400.99" y2="535.84" stroke="#5a5a5a" stroke-width="0.5"/>
<line x1="401.50" y1="550.76" x2="402.20" y2="550.76" stroke="#5a5a5a" stroke-width="0.5"/>
<line x1="401.50" y1="559.29" x2="402.20" y2="559.29" stroke="#5a5a5a" stroke-width="0.5"/>
<line x1="401.50" y1="550.76" x2="401.50" y2="559.29" stroke="#5a5a5a" stroke-width="0.5"/>
<line x1="400.71" y1="555.03" x2="401.50" y2="555.03" stroke="#5a5a5a" stroke-width="0.5"/>
<line x1="400.71" y1="535.84" x2="400.71" y2="555.03" stroke="#5a5a5a" stroke-width="0.5"/>
<line x1="400.42" y1="545.44" x2="400.71" y2="545.44" stroke="#5a5a5a" stroke-width="0.5"/>
<line x1="400.42" y1="512.40" x2="400.42" y2="545.44" stroke="#5a5a5a" stroke-width="0.5"/>
<line x1="399.60" y1="528.92" x2="400.42" y2="528.92" stroke="#5a5a5a" stroke-width="0.5"/>
<line x1="399.60" y1="495.35" x2="399.60" y2="528.92" stroke="#5a5a5a" stroke-width="0.5"/>
<line x1="396.70" y1="537.70" x2="399.60" y2="537.70" stroke="#6a6a6a" stroke-width="0.6"/>
<line x1="369.30" y1="678.40" x2="394.30" y2="678.40" stroke="#6a6a6a" stroke-width="0.7"/>
<line x1="394.30" y1="623.20" x2="394.30" y2="733.70" stroke="#6a6a6a" stroke-width="0.7"/>
<line x1="401.48" y1="567.82" x2="402.20" y2="567.82" stroke="#5a5a5a" stroke-width="0.5"/>
<line x1="401.48" y1="576.34" x2="402.20" y2="576.34" stroke="#5a5a5a" stroke-width="0.5"/>
<line x1="401.48" y1="567.82" x2="401.48" y2="576.34" stroke="#5a5a5a" stroke-width="0.5"/>
<line x1="401.02" y1="572.08" x2="401.48" y2="572.08" stroke="#5a5a5a" stroke-width="0.5"/>
<line x1="401.87" y1="584.87" x2="402.20" y2="584.87" stroke="#5a5a5a" stroke-width="0.5"/>
<line x1="401.87" y1="593.39" x2="402.20" y2="593.39" stroke="#5a5a5a" stroke-width="0.5"/>
<line x1="401.87" y1="584.87" x2="401.87" y2="593.39" stroke="#5a5a5a" stroke-width="0.5"/>
<line x1="401.65" y1="589.13" x2="401.87" y2="589.13" stroke="#5a5a5a" stroke-width="0.5"/>
<line x1="401.65" y1="601.92" x2="402.20" y2="601.92" stroke="#5a5a5a" stroke-width="0.5"/>
<line x1="401.65" y1="589.13" x2="401.65" y2="601.92" stroke="#5a5a5a" stroke-width="0.5"/>
<line x1="401.02" y1="595.53" x2="401.65" y2="595.53" stroke="#5a5a5a" stroke-width="0.5"/>
<line x1="401.02" y1="572.08" x2="401.02" y2="595.53" stroke="#5a5a5a" stroke-width="0.5"/>
<line x1="400.52" y1="583.80" x2="401.02" y2="583.80" stroke="#5a5a5a" stroke-width="0.5"/>
<line x1="401.37" y1="610.45" x2="402.20" y2="610.45" stroke="#5a5a5a" stroke-width="0.5"/>
<line x1="401.80" y1="618.97" x2="402.20" y2="618.97" stroke="#5a5a5a" stroke-width="0.5"/>
<line x1="401.80" y1="627.50" x2="402.20" y2="627.50" stroke="#5a5a5a" stroke-width="0.5"/>
<line x1="401.80" y1="618.97" x2="401.80" y2="627.50" stroke="#5a5a5a" stroke-width="0.5"/>
<line x1="401.53" y1="623.24" x2="401.80" y2="623.24" stroke="#5a5a5a" stroke-width="0.5"/>
<line x1="401.53" y1="636.02" x2="402.20" y2="636.02" stroke="#5a5a5a" stroke-width="0.5"/>
<line x1="401.53" y1="623.24" x2="401.53" y2="636.02" stroke="#5a5a5a" stroke-width="0.5"/>
<line x1="401.37" y1="629.63" x2="401.53" y2="629.63" stroke="#5a5a5a" stroke-width="0.5"/>
<line x1="401.37" y1="610.45" x2="401.37" y2="629.63" stroke="#5a5a5a" stroke-width="0.5"/>
<line x1="400.52" y1="620.04" x2="401.37" y2="620.04" stroke="#5a5a5a" stroke-width="0.5"/>
<line x1="400.52" y1="583.80" x2="400.52" y2="620.04" stroke="#5a5a5a" stroke-width="0.5"/>
<line x1="399.00" y1="601.92" x2="400.52" y2="601.92" stroke="#5a5a5a" stroke-width="0.5"/>
<line x1="401.18" y1="644.55" x2="402.20" y2="644.55" stroke="#5a5a5a" stroke-width="0.5"/>
<line x1="401.73" y1="653.08" x2="402.20" y2="653.08" stroke="#5a5a5a" stroke-width="0.5"/>
<line x1="401.73" y1="661.60" x2="402.20" y2="661.60" stroke="#5a5a5a" stroke-width="0.5"/>
<line x1="401.73" y1="653.08" x2="401.73" y2="661.60" stroke="#5a5a5a" stroke-width="0.5"/>
<line x1="401.18" y1="657.34" x2="401.73" y2="657.34" stroke="#5a5a5a" stroke-width="0.5"/>
<line x1="401.18" y1="644.55" x2="401.18" y2="657.34" stroke="#5a5a5a" stroke-width="0.5"/>
<line x1="400.86" y1="650.95" x2="401.18" y2="650.95" stroke="#5a5a5a" stroke-width="0.5"/>
<line x1="401.82" y1="670.13" x2="402.20" y2="670.13" stroke="#5a5a5a" stroke-width="0.5"/>
<line x1="402.03" y1="678.65" x2="402.20" y2="678.65" stroke="#5a5a5a" stroke-width="0.5"/>
<line x1="402.03" y1="687.18" x2="402.20" y2="687.18" stroke="#5a5a5a" stroke-width="0.5"/>
<line x1="402.03" y1="678.65" x2="402.03" y2="687.18" stroke="#5a5a5a" stroke-width="0.5"/>
<line x1="401.82" y1="682.92" x2="402.03" y2="682.92" stroke="#5a5a5a" stroke-width="0.5"/>
<line x1="401.82" y1="670.13" x2="401.82" y2="682.92" stroke="#5a5a5a" stroke-width="0.5"/>
<line x1="401.58" y1="676.52" x2="401.82" y2="676.52" stroke="#5a5a5a" stroke-width="0.5"/>
<line x1="401.58" y1="695.71" x2="402.20" y2="695.71" stroke="#5a5a5a" stroke-width="0.5"/>
<line x1="401.58" y1="676.52" x2="401.58" y2="695.71" stroke="#5a5a5a" stroke-width="0.5"/>
<line x1="400.86" y1="686.12" x2="401.58" y2="686.12" stroke="#5a5a5a" stroke-width="0.5"/>
<line x1="400.86" y1="650.95" x2="400.86" y2="686.12" stroke="#5a5a5a" stroke-width="0.5"/>
<line x1="400.29" y1="668.53" x2="400.86" y2="668.53" stroke="#5a5a5a" stroke-width="0.5"/>
<line x1="400.89" y1="704.23" x2="402.20" y2="704.23" stroke="#5a5a5a" stroke-width="0.5"/>
<line x1="401.60" y1="712.76" x2="402.20" y2="712.76" stroke="#5a5a5a" stroke-width="0.5"/>
<line x1="401.60" y1="721.29" x2="402.20" y2="721.29" stroke="#5a5a5a" stroke-width="0.5"/>
<line x1="401.60" y1="712.76" x2="401.60" y2="721.29" stroke="#5a5a5a" stroke-width="0.5"/>
<line x1="400.89" y1="717.02" x2="401.60" y2="717.02" stroke="#5a5a5a" stroke-width="0.5"/>
<line x1="400.89" y1="704.23" x2="400.89" y2="717.02" stroke="#5a5a5a" stroke-width="0.5"/>
<line x1="400.29" y1="710.63" x2="400.89" y2="710.63" stroke="#5a5a5a" stroke-width="0.5"/>
<line x1="400.29" y1="668.53" x2="400.29" y2="710.63" stroke="#5a5a5a" stroke-width="0.5"/>
<line x1="399.00" y1="689.58" x2="400.29" y2="689.58" stroke="#5a5a5a" stroke-width="0.5"/>
<line x1="399.00" y1="601.92" x2="399.00" y2="689.58" stroke="#5a5a5a" stroke-width="0.5"/>
<line x1="394.30" y1="623.20" x2="399.00" y2="623.20" stroke="#6a6a6a" stroke-width="0.6"/>
<line x1="400.50" y1="729.81" x2="402.20" y2="729.81" stroke="#5a5a5a" stroke-width="0.6"/>
<line x1="400.50" y1="738.34" x2="402.20" y2="738.34" stroke="#5a5a5a" stroke-width="0.6"/>
<line x1="400.50" y1="729.81" x2="400.50" y2="738.34" stroke="#5a5a5a" stroke-width="0.6"/>
<line x1="394.30" y1="733.70" x2="400.50" y2="733.70" stroke="#6a6a6a" stroke-width="0.6"/>
<path d="M540.48 651.43L584.38 697.63A33.0 33.0 0 0 0 632.22 652.17L588.32 605.97A33.0 33.0 0 0 0 540.48 651.43Z" fill="#d2d208" fill-opacity="0.5" stroke="#d2d208" stroke-opacity="0.55" stroke-width="0.6"/>
<path d="M562.48 633.52L605.78 676.82A34.4 34.4 0 0 0 654.42 628.18L611.12 584.88A34.4 34.4 0 0 0 562.48 633.52Z" fill="#613911" fill-opacity="0.5" stroke="#613911" stroke-opacity="0.55" stroke-width="0.6"/>
<path d="M605.48 584.88L562.18 628.18A34.4 34.4 0 0 0 610.82 676.82L654.12 633.52A34.4 34.4 0 0 0 605.48 584.88Z" fill="#c1b397" fill-opacity="0.5" stroke="#a89a80" stroke-opacity="0.55" stroke-width="0.6"/>
<path d="M628.28 605.97L584.38 652.17A33.0 33.0 0 0 0 632.22 697.63L676.12 651.43A33.0 33.0 0 0 0 628.28 605.97Z" fill="#cba16b" fill-opacity="0.5" stroke="#cba16b" stroke-opacity="0.55" stroke-width="0.6"/>
<text x="579.90" y="591.40" font-size="7.6" text-anchor="middle" textLength="7.60" lengthAdjust="spacingAndGlyphs" stroke="#231f20" stroke-width="0.18">81</text>
<text x="633.60" y="590.90" font-size="7.6" text-anchor="middle" textLength="3.60" lengthAdjust="spacingAndGlyphs" stroke="#231f20" stroke-width="0.18">9</text>
<text x="564.20" y="611.90" font-size="7.6" text-anchor="middle" textLength="7.60" lengthAdjust="spacingAndGlyphs" stroke="#231f20" stroke-width="0.18">65</text>
<text x="607.50" y="607.30" font-size="7.6" text-anchor="middle" textLength="3.80" lengthAdjust="spacingAndGlyphs" stroke="#231f20" stroke-width="0.18">2</text>
<text x="650.70" y="610.10" font-size="7.6" text-anchor="middle" textLength="4.00" lengthAdjust="spacingAndGlyphs" stroke="#231f20" stroke-width="0.18">4</text>
<text x="543.70" y="635.30" font-size="7.6" text-anchor="middle" textLength="16.90" lengthAdjust="spacingAndGlyphs" stroke="#231f20" stroke-width="0.18">1,816</text>
<text x="583.90" y="629.70" font-size="7.6" text-anchor="middle" textLength="4.00" lengthAdjust="spacingAndGlyphs" stroke="#231f20" stroke-width="0.18">0</text>
<text x="631.30" y="630.60" font-size="7.6" text-anchor="middle" textLength="3.80" lengthAdjust="spacingAndGlyphs" stroke="#231f20" stroke-width="0.18">2</text>
<text x="672.20" y="634.60" font-size="7.6" text-anchor="middle" textLength="17.50" lengthAdjust="spacingAndGlyphs" stroke="#231f20" stroke-width="0.18">1,880</text>
<text x="565.20" y="656.80" font-size="7.6" text-anchor="middle" textLength="4.00" lengthAdjust="spacingAndGlyphs" stroke="#231f20" stroke-width="0.18">4</text>
<text x="608.40" y="655.60" font-size="7.6" text-anchor="middle" textLength="4.00" lengthAdjust="spacingAndGlyphs" stroke="#231f20" stroke-width="0.18">0</text>
<text x="651.10" y="655.20" font-size="7.6" text-anchor="middle" textLength="8.00" lengthAdjust="spacingAndGlyphs" stroke="#231f20" stroke-width="0.18">34</text>
<text x="586.40" y="679.00" font-size="7.6" text-anchor="middle" textLength="4.00" lengthAdjust="spacingAndGlyphs" stroke="#231f20" stroke-width="0.18">0</text>
<text x="627.80" y="679.00" font-size="7.6" text-anchor="middle" textLength="7.00" lengthAdjust="spacingAndGlyphs" stroke="#231f20" stroke-width="0.18">21</text>
<text x="608.40" y="698.80" font-size="7.6" text-anchor="middle" textLength="17.20" lengthAdjust="spacingAndGlyphs" stroke="#231f20" stroke-width="0.18">1,382</text>
<circle cx="529.2" cy="720.1" r="2.4" fill="#d4d420"/>
<circle cx="529.2" cy="741.3" r="2.4" fill="#c9bda8"/>
<circle cx="529.2" cy="755.3" r="2.4" fill="#5a3212"/>
<circle cx="529.2" cy="769.0" r="2.4" fill="#d6aa80"/>
<text x="534.90" y="722.00" font-size="7.5" textLength="128.90" lengthAdjust="spacingAndGlyphs" stroke="#231f20" stroke-width="0.18">3,288 common genes in subgroups of</text>
<text x="534.90" y="729.70" font-size="7.5" textLength="106.70" lengthAdjust="spacingAndGlyphs" stroke="#231f20" stroke-width="0.18">B-prePEA_RV versus Control_RV</text>
<text x="534.90" y="744.20" font-size="7.5" textLength="148.90" lengthAdjust="spacingAndGlyphs" stroke="#231f20" stroke-width="0.18">B-prePEA_septum versus B-postPEA_septum</text>
<text x="534.50" y="758.20" font-size="7.5" textLength="132.40" lengthAdjust="spacingAndGlyphs" stroke="#231f20" stroke-width="0.18">B-prePEA_RV versus B-postPEA_septum</text>
<text x="534.90" y="772.10" font-size="7.5" textLength="139.20" lengthAdjust="spacingAndGlyphs" stroke="#231f20" stroke-width="0.18">B-prePEA_septum versus Control_septum</text>
</svg>
</body></html>
